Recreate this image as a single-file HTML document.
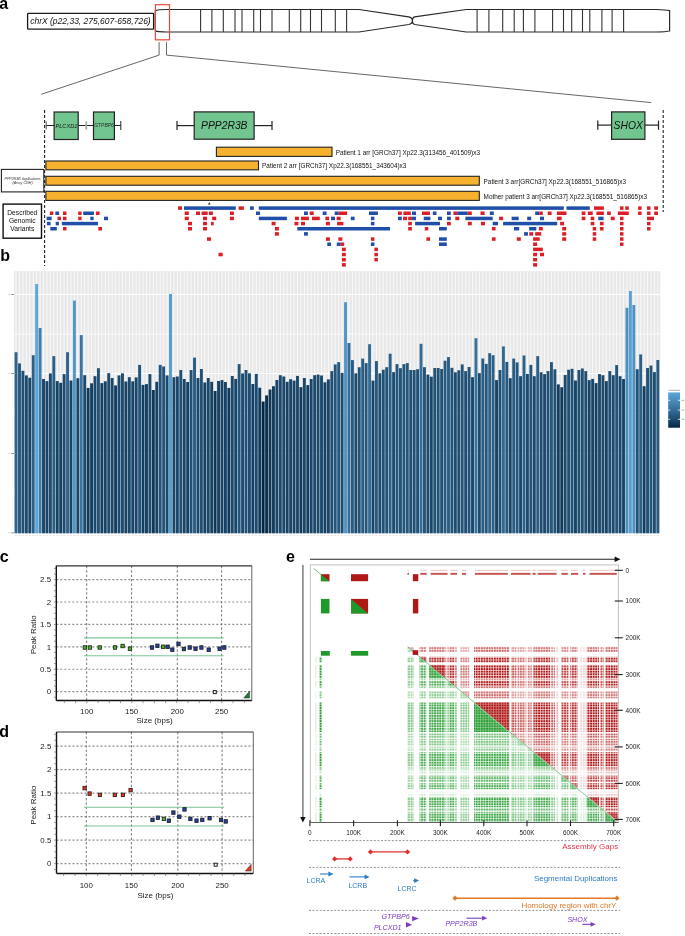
<!DOCTYPE html><html><head><meta charset="utf-8"><title>figure</title><style>html,body{margin:0;padding:0;background:#fff;width:685px;height:936px;overflow:hidden}svg{display:block;will-change:transform}text{font-family:"Liberation Sans",sans-serif}</style></head><body><svg width="685" height="936" viewBox="0 0 685 936"><rect width="685" height="936" fill="#fff"/><text x="-0.8" y="9.1" font-size="16" text-anchor="start" fill="#000" font-weight="bold" >a</text>
<text x="0.2" y="261.4" font-size="16" text-anchor="start" fill="#000" font-weight="bold" >b</text>
<text x="-0.3" y="561.8" font-size="16" text-anchor="start" fill="#000" font-weight="bold" >c</text>
<text x="-0.8" y="736.7" font-size="16" text-anchor="start" fill="#000" font-weight="bold" >d</text>
<text x="286" y="561.7" font-size="16" text-anchor="start" fill="#000" font-weight="bold" >e</text>
<rect x="27.6" y="13.4" width="126" height="15.8" rx="0.8" fill="#fff" stroke="#1a1a1a" stroke-width="1.3"/>
<text x="30.2" y="24.2" font-size="8.5" text-anchor="start" fill="#111" font-style="italic" >chrX (p22,33, 275,607-658,726)</text>
<path d="M155.3,10.9 Q157.5,9.5 167,9.5 L358.9,9.5 L408.6,16.9 Q412.4,17.6 412.4,20.7 Q412.4,23.8 408.6,24.5 L358.9,32.0 L167,32.0 Q157.5,32.0 155.3,30.9 Z M466.2,9.5 L656,9.5 Q666,9.7 669.6,10.6 L669.6,31 Q666,31.8 656,32.0 L466.2,32.0 L414.6,24.5 Q412.4,23.8 412.4,20.7 Q412.4,17.6 414.6,16.9 Z" fill="#fff" stroke="#2a2a2a" stroke-width="1.2"/>
<line x1="200.6" y1="9.5" x2="200.6" y2="32" stroke="#333" stroke-width="1.1" />
<line x1="211.9" y1="9.5" x2="211.9" y2="32" stroke="#333" stroke-width="1.1" />
<line x1="223.3" y1="9.5" x2="223.3" y2="32" stroke="#333" stroke-width="1.1" />
<line x1="235" y1="9.5" x2="235" y2="32" stroke="#333" stroke-width="1.1" />
<line x1="242" y1="9.5" x2="242" y2="32" stroke="#333" stroke-width="1.1" />
<line x1="253.7" y1="9.5" x2="253.7" y2="32" stroke="#333" stroke-width="1.1" />
<line x1="260.5" y1="9.5" x2="260.5" y2="32" stroke="#333" stroke-width="1.1" />
<line x1="272" y1="9.5" x2="272" y2="32" stroke="#333" stroke-width="1.1" />
<line x1="289.3" y1="9.5" x2="289.3" y2="32" stroke="#333" stroke-width="1.1" />
<line x1="300.7" y1="9.5" x2="300.7" y2="32" stroke="#333" stroke-width="1.1" />
<line x1="310.5" y1="9.5" x2="310.5" y2="32" stroke="#333" stroke-width="1.1" />
<line x1="321.5" y1="9.5" x2="321.5" y2="32" stroke="#333" stroke-width="1.1" />
<line x1="335.3" y1="9.5" x2="335.3" y2="32" stroke="#333" stroke-width="1.1" />
<line x1="346.6" y1="9.5" x2="346.6" y2="32" stroke="#333" stroke-width="1.1" />
<line x1="477.1" y1="9.5" x2="477.1" y2="32" stroke="#333" stroke-width="1.1" />
<line x1="488.9" y1="9.5" x2="488.9" y2="32" stroke="#333" stroke-width="1.1" />
<line x1="502.7" y1="9.5" x2="502.7" y2="32" stroke="#333" stroke-width="1.1" />
<line x1="514.2" y1="9.5" x2="514.2" y2="32" stroke="#333" stroke-width="1.1" />
<line x1="523.4" y1="9.5" x2="523.4" y2="32" stroke="#333" stroke-width="1.1" />
<line x1="534.9" y1="9.5" x2="534.9" y2="32" stroke="#333" stroke-width="1.1" />
<line x1="552.6" y1="9.5" x2="552.6" y2="32" stroke="#333" stroke-width="1.1" />
<line x1="563.5" y1="9.5" x2="563.5" y2="32" stroke="#333" stroke-width="1.1" />
<line x1="571.7" y1="9.5" x2="571.7" y2="32" stroke="#333" stroke-width="1.1" />
<line x1="582.5" y1="9.5" x2="582.5" y2="32" stroke="#333" stroke-width="1.1" />
<line x1="589.8" y1="9.5" x2="589.8" y2="32" stroke="#333" stroke-width="1.1" />
<line x1="601.9" y1="9.5" x2="601.9" y2="32" stroke="#333" stroke-width="1.1" />
<line x1="612.1" y1="9.5" x2="612.1" y2="32" stroke="#333" stroke-width="1.1" />
<line x1="623.6" y1="9.5" x2="623.6" y2="32" stroke="#333" stroke-width="1.1" />
<rect x="155.4" y="4.7" width="14.1" height="35.1" fill="none" stroke="#e64a36" stroke-width="1.2"/>
<polyline points="159.1,42.2 159.1,55.1 41.2,94.3" fill="none" stroke="#555" stroke-width="0.9"/>
<polyline points="166.5,42.2 166.5,55.1 651.2,102.6" fill="none" stroke="#555" stroke-width="0.9"/>
<line x1="44.6" y1="110" x2="44.6" y2="266" stroke="#222" stroke-width="1.1" stroke-dasharray="3,2"/>
<line x1="663.2" y1="110" x2="663.2" y2="212" stroke="#222" stroke-width="1.1" stroke-dasharray="3,2"/>
<line x1="45.8" y1="125.5" x2="120.8" y2="125.5" stroke="#222" stroke-width="1.2" />
<line x1="120.8" y1="121" x2="120.8" y2="130" stroke="#222" stroke-width="1.0" />
<line x1="46.2" y1="121.5" x2="46.2" y2="129.5" stroke="#555" stroke-width="1.0" />
<rect x="85.4" y="121.3" width="1.8" height="8.4" fill="#aaa"/>
<rect x="54.1" y="112" width="24.1" height="27.5" fill="#72c58f" stroke="#222" stroke-width="1.2"/>
<rect x="93.5" y="112" width="20.9" height="27.5" fill="#72c58f" stroke="#222" stroke-width="1.2"/>
<text x="66.4" y="127.5" font-size="5.6" text-anchor="middle" fill="#0e160f" font-style="italic" >PLCXD1</text>
<text x="104" y="127.3" font-size="5" text-anchor="middle" fill="#1e2e22" font-style="italic" >GTPBP6</text>
<line x1="177" y1="125.6" x2="194.2" y2="125.6" stroke="#222" stroke-width="1.2" />
<line x1="254.1" y1="125.6" x2="272" y2="125.6" stroke="#222" stroke-width="1.2" />
<line x1="177" y1="121" x2="177" y2="130" stroke="#222" stroke-width="1.2" />
<line x1="272" y1="121" x2="272" y2="130" stroke="#222" stroke-width="1.2" />
<rect x="194.2" y="111.9" width="59.9" height="27.3" fill="#72c58f" stroke="#222" stroke-width="1.2"/>
<text x="224.3" y="129.1" font-size="10.3" text-anchor="middle" fill="#111" font-style="italic" >PPP2R3B</text>
<line x1="597.8" y1="125.1" x2="611.6" y2="125.1" stroke="#222" stroke-width="1.2" />
<line x1="644.9" y1="125.1" x2="658.5" y2="125.1" stroke="#222" stroke-width="1.2" />
<line x1="597.8" y1="120.6" x2="597.8" y2="129.8" stroke="#222" stroke-width="1.2" />
<line x1="658.5" y1="120.6" x2="658.5" y2="129.8" stroke="#222" stroke-width="1.2" />
<rect x="611.6" y="111.9" width="33.3" height="27.4" fill="#72c58f" stroke="#222" stroke-width="1.2"/>
<text x="628.2" y="129" font-size="10.3" text-anchor="middle" fill="#111" font-style="italic" >SHOX</text>
<rect x="216.4" y="147.2" width="115.6" height="9.2" fill="#f6b22f" stroke="#222" stroke-width="1.1"/>
<rect x="45.9" y="161" width="212.6" height="8.8" fill="#f6b22f" stroke="#222" stroke-width="1.1"/>
<rect x="45.9" y="176.3" width="433.4" height="8.9" fill="#f6b22f" stroke="#222" stroke-width="1.1"/>
<rect x="45.9" y="191.3" width="433.4" height="9.1" fill="#f6b22f" stroke="#222" stroke-width="1.1"/>
<text x="335.7" y="154.8" font-size="6.4" text-anchor="start" fill="#111" >Patient 1 arr [GRCh37] Xp22.3(313456_401509)x3</text>
<text x="262.1" y="167.8" font-size="6.4" text-anchor="start" fill="#111" >Patient 2 arr [GRCh37] Xp22.3(168551_343604)x3</text>
<text x="483.6" y="184.1" font-size="6.4" text-anchor="start" fill="#111" >Patient 3 arr[GRCh37] Xp22.3(168551_516865)x3</text>
<text x="483.6" y="198.8" font-size="6.4" text-anchor="start" fill="#111" >Mother patient 3 arr[GRCh37] Xp22.3(168551_516865)x3</text>
<rect x="1.4" y="169.4" width="42.4" height="22.5" fill="#fff" stroke="#222" stroke-width="1.1"/>
<text x="22.6" y="179.6" font-size="3.6" text-anchor="middle" fill="#333" font-style="italic" >PPP2R3B duplications</text>
<text x="22.6" y="184.4" font-size="3.6" text-anchor="middle" fill="#333" font-style="italic" >(Array CGH)</text>
<rect x="3.1" y="204.1" width="38.4" height="34.1" fill="#fff" stroke="#111" stroke-width="1.4"/>
<text x="22.3" y="214.8" font-size="6.7" text-anchor="middle" fill="#111" >Described</text>
<text x="22.3" y="222.9" font-size="6.7" text-anchor="middle" fill="#111" >Genomic</text>
<text x="22.3" y="230.9" font-size="6.7" text-anchor="middle" fill="#111" >Variants</text>
<path d="M207.9,204.4 L209.3,202.2 L210.7,204.4 Z" fill="#222"/>
<rect x="178" y="206.35" width="4" height="3.5" fill="#dc1f26" />
<rect x="184" y="206.35" width="51.8" height="3.5" fill="#1f4fa8" />
<rect x="238.6" y="206.35" width="5.3" height="3.5" fill="#dc1f26" />
<rect x="250" y="206.35" width="3.8" height="3.5" fill="#1f4fa8" />
<rect x="258.8" y="206.35" width="305" height="3.5" fill="#1f4fa8" />
<rect x="566.5" y="206.35" width="23.3" height="3.5" fill="#1f4fa8" />
<rect x="594" y="206.35" width="9.9" height="3.5" fill="#dc1f26" />
<rect x="620" y="206.35" width="3.5" height="3.5" fill="#dc1f26" />
<rect x="625.3" y="206.35" width="3.5" height="3.5" fill="#dc1f26" />
<rect x="638.1" y="206.35" width="3.5" height="3.5" fill="#dc1f26" />
<rect x="647" y="206.35" width="3.5" height="3.5" fill="#dc1f26" />
<rect x="654.2" y="206.35" width="3.8" height="3.5" fill="#dc1f26" />
<rect x="49.8" y="211.51" width="3.5" height="3.5" fill="#dc1f26" />
<rect x="55.4" y="211.51" width="3.7" height="3.5" fill="#1f4fa8" />
<rect x="63" y="211.51" width="3.5" height="3.5" fill="#dc1f26" />
<rect x="78.2" y="211.51" width="3.4" height="3.5" fill="#dc1f26" />
<rect x="83.2" y="211.51" width="10.7" height="3.5" fill="#1f4fa8" />
<rect x="96" y="211.51" width="3.6" height="3.5" fill="#dc1f26" />
<rect x="184.7" y="211.51" width="4.1" height="3.5" fill="#dc1f26" />
<rect x="196" y="211.51" width="4" height="3.5" fill="#dc1f26" />
<rect x="201.6" y="211.51" width="6.1" height="3.5" fill="#dc1f26" />
<rect x="208.9" y="211.51" width="4" height="3.5" fill="#dc1f26" />
<rect x="229.9" y="211.51" width="4" height="3.5" fill="#dc1f26" />
<rect x="256" y="211.51" width="4" height="3.5" fill="#1f4fa8" />
<rect x="304" y="211.51" width="3.9" height="3.5" fill="#1f4fa8" />
<rect x="309.7" y="211.51" width="4" height="3.5" fill="#dc1f26" />
<rect x="322.7" y="211.51" width="3.8" height="3.5" fill="#1f4fa8" />
<rect x="334.7" y="211.51" width="4" height="3.5" fill="#1f4fa8" />
<rect x="338.7" y="211.51" width="8.4" height="3.5" fill="#dc1f26" />
<rect x="369" y="211.51" width="8.9" height="3.5" fill="#1f4fa8" />
<rect x="398" y="211.51" width="3.8" height="3.5" fill="#dc1f26" />
<rect x="403.4" y="211.51" width="7.4" height="3.5" fill="#dc1f26" />
<rect x="412" y="211.51" width="4" height="3.5" fill="#1f4fa8" />
<rect x="421.9" y="211.51" width="8" height="3.5" fill="#dc1f26" />
<rect x="432.8" y="211.51" width="3.7" height="3.5" fill="#1f4fa8" />
<rect x="447" y="211.51" width="3.8" height="3.5" fill="#1f4fa8" />
<rect x="453.4" y="211.51" width="3.8" height="3.5" fill="#dc1f26" />
<rect x="457.2" y="211.51" width="10.6" height="3.5" fill="#1f4fa8" />
<rect x="467.8" y="211.51" width="4" height="3.5" fill="#dc1f26" />
<rect x="480.5" y="211.51" width="4.1" height="3.5" fill="#dc1f26" />
<rect x="489.8" y="211.51" width="4" height="3.5" fill="#1f4fa8" />
<rect x="535.2" y="211.51" width="4" height="3.5" fill="#1f4fa8" />
<rect x="539.2" y="211.51" width="3.6" height="3.5" fill="#dc1f26" />
<rect x="547.7" y="211.51" width="3.9" height="3.5" fill="#dc1f26" />
<rect x="556.9" y="211.51" width="9.6" height="3.5" fill="#dc1f26" />
<rect x="581.7" y="211.51" width="3.7" height="3.5" fill="#dc1f26" />
<rect x="587.8" y="211.51" width="4.9" height="3.5" fill="#dc1f26" />
<rect x="596.4" y="211.51" width="7.5" height="3.5" fill="#dc1f26" />
<rect x="607.1" y="211.51" width="3.7" height="3.5" fill="#dc1f26" />
<rect x="617.9" y="211.51" width="10.9" height="3.5" fill="#dc1f26" />
<rect x="638.1" y="211.51" width="3.5" height="3.5" fill="#dc1f26" />
<rect x="647" y="211.51" width="3.5" height="3.5" fill="#dc1f26" />
<rect x="654.2" y="211.51" width="3.8" height="3.5" fill="#dc1f26" />
<rect x="46.6" y="216.67" width="5.1" height="3.5" fill="#1f4fa8" />
<rect x="57.5" y="216.67" width="3.5" height="3.5" fill="#dc1f26" />
<rect x="63" y="216.67" width="3.5" height="3.5" fill="#dc1f26" />
<rect x="78.2" y="216.67" width="3.4" height="3.5" fill="#dc1f26" />
<rect x="90.3" y="216.67" width="3.3" height="3.5" fill="#1f4fa8" />
<rect x="104" y="216.67" width="4" height="3.5" fill="#1f4fa8" />
<rect x="184.7" y="216.67" width="4.1" height="3.5" fill="#dc1f26" />
<rect x="203" y="216.67" width="4" height="3.5" fill="#dc1f26" />
<rect x="212.2" y="216.67" width="4" height="3.5" fill="#dc1f26" />
<rect x="229.9" y="216.67" width="4" height="3.5" fill="#dc1f26" />
<rect x="258.8" y="216.67" width="28.1" height="3.5" fill="#1f4fa8" />
<rect x="294.9" y="216.67" width="4" height="3.5" fill="#dc1f26" />
<rect x="301" y="216.67" width="7.9" height="3.5" fill="#dc1f26" />
<rect x="312" y="216.67" width="7.8" height="3.5" fill="#dc1f26" />
<rect x="325.4" y="216.67" width="3.7" height="3.5" fill="#dc1f26" />
<rect x="331" y="216.67" width="4" height="3.5" fill="#1f4fa8" />
<rect x="336.6" y="216.67" width="4.1" height="3.5" fill="#dc1f26" />
<rect x="350.8" y="216.67" width="3.8" height="3.5" fill="#1f4fa8" />
<rect x="370.9" y="216.67" width="3.5" height="3.5" fill="#1f4fa8" />
<rect x="398" y="216.67" width="3.8" height="3.5" fill="#1f4fa8" />
<rect x="403" y="216.67" width="4.1" height="3.5" fill="#dc1f26" />
<rect x="408.2" y="216.67" width="3.7" height="3.5" fill="#dc1f26" />
<rect x="411.9" y="216.67" width="4.1" height="3.5" fill="#1f4fa8" />
<rect x="423.7" y="216.67" width="6.7" height="3.5" fill="#1f4fa8" />
<rect x="438" y="216.67" width="4" height="3.5" fill="#1f4fa8" />
<rect x="447" y="216.67" width="3.8" height="3.5" fill="#1f4fa8" />
<rect x="455.3" y="216.67" width="4" height="3.5" fill="#dc1f26" />
<rect x="465.4" y="216.67" width="27.3" height="3.5" fill="#1f4fa8" />
<rect x="499.1" y="216.67" width="4" height="3.5" fill="#dc1f26" />
<rect x="511.6" y="216.67" width="7.1" height="3.5" fill="#1f4fa8" />
<rect x="527.2" y="216.67" width="4" height="3.5" fill="#1f4fa8" />
<rect x="540" y="216.67" width="4" height="3.5" fill="#1f4fa8" />
<rect x="556.9" y="216.67" width="4.8" height="3.5" fill="#dc1f26" />
<rect x="581.7" y="216.67" width="3.7" height="3.5" fill="#dc1f26" />
<rect x="590.7" y="216.67" width="3.6" height="3.5" fill="#dc1f26" />
<rect x="598.3" y="216.67" width="5.3" height="3.5" fill="#1f4fa8" />
<rect x="610.8" y="216.67" width="3.9" height="3.5" fill="#dc1f26" />
<rect x="620" y="216.67" width="3.5" height="3.5" fill="#dc1f26" />
<rect x="647" y="216.67" width="7" height="3.5" fill="#dc1f26" />
<rect x="46.9" y="221.83" width="3.7" height="3.5" fill="#1f4fa8" />
<rect x="55.7" y="221.83" width="3.2" height="3.5" fill="#1f4fa8" />
<rect x="61.8" y="221.83" width="36.2" height="3.5" fill="#1f4fa8" />
<rect x="188" y="221.83" width="4" height="3.5" fill="#dc1f26" />
<rect x="203" y="221.83" width="4" height="3.5" fill="#dc1f26" />
<rect x="211" y="221.83" width="2.7" height="3.5" fill="#dc1f26" />
<rect x="271.6" y="221.83" width="4" height="3.5" fill="#dc1f26" />
<rect x="294.4" y="221.83" width="4" height="3.5" fill="#dc1f26" />
<rect x="301" y="221.83" width="4" height="3.5" fill="#dc1f26" />
<rect x="325.9" y="221.83" width="4" height="3.5" fill="#dc1f26" />
<rect x="337.1" y="221.83" width="6.3" height="3.5" fill="#dc1f26" />
<rect x="370.9" y="221.83" width="3.5" height="3.5" fill="#1f4fa8" />
<rect x="408.2" y="221.83" width="3.7" height="3.5" fill="#dc1f26" />
<rect x="415.1" y="221.83" width="24.9" height="3.5" fill="#1f4fa8" />
<rect x="447" y="221.83" width="3.8" height="3.5" fill="#dc1f26" />
<rect x="467.8" y="221.83" width="4" height="3.5" fill="#dc1f26" />
<rect x="480.9" y="221.83" width="4.1" height="3.5" fill="#dc1f26" />
<rect x="492.7" y="221.83" width="5.3" height="3.5" fill="#1f4fa8" />
<rect x="503.1" y="221.83" width="54.1" height="3.5" fill="#1f4fa8" />
<rect x="560.1" y="221.83" width="4" height="3.5" fill="#dc1f26" />
<rect x="590.7" y="221.83" width="3.6" height="3.5" fill="#dc1f26" />
<rect x="599.9" y="221.83" width="3.7" height="3.5" fill="#dc1f26" />
<rect x="620" y="221.83" width="3.5" height="3.5" fill="#dc1f26" />
<rect x="647" y="221.83" width="3.5" height="3.5" fill="#dc1f26" />
<rect x="50.3" y="226.99" width="6.5" height="3.5" fill="#1f4fa8" />
<rect x="63" y="226.99" width="3.5" height="3.5" fill="#dc1f26" />
<rect x="98.3" y="226.99" width="3.7" height="3.5" fill="#dc1f26" />
<rect x="188" y="226.99" width="4" height="3.5" fill="#dc1f26" />
<rect x="203" y="226.99" width="4" height="3.5" fill="#dc1f26" />
<rect x="274.9" y="226.99" width="4" height="3.5" fill="#dc1f26" />
<rect x="297.3" y="226.99" width="92.7" height="3.5" fill="#1f4fa8" />
<rect x="408.2" y="226.99" width="3.7" height="3.5" fill="#dc1f26" />
<rect x="424.8" y="226.99" width="3.5" height="3.5" fill="#dc1f26" />
<rect x="439" y="226.99" width="7.8" height="3.5" fill="#1f4fa8" />
<rect x="491.9" y="226.99" width="3.7" height="3.5" fill="#dc1f26" />
<rect x="514" y="226.99" width="5.2" height="3.5" fill="#1f4fa8" />
<rect x="529.1" y="226.99" width="7.2" height="3.5" fill="#1f4fa8" />
<rect x="538.9" y="226.99" width="3.9" height="3.5" fill="#dc1f26" />
<rect x="562.2" y="226.99" width="4" height="3.5" fill="#dc1f26" />
<rect x="592.7" y="226.99" width="3.5" height="3.5" fill="#dc1f26" />
<rect x="599.9" y="226.99" width="3.7" height="3.5" fill="#dc1f26" />
<rect x="620" y="226.99" width="3.5" height="3.5" fill="#dc1f26" />
<rect x="647" y="226.99" width="3.5" height="3.5" fill="#dc1f26" />
<rect x="274.9" y="232.15" width="4" height="3.5" fill="#dc1f26" />
<rect x="304" y="232.15" width="3.9" height="3.5" fill="#1f4fa8" />
<rect x="524" y="232.15" width="4" height="3.5" fill="#1f4fa8" />
<rect x="529.3" y="232.15" width="3.8" height="3.5" fill="#dc1f26" />
<rect x="535.2" y="232.15" width="6" height="3.5" fill="#dc1f26" />
<rect x="562.2" y="232.15" width="4" height="3.5" fill="#dc1f26" />
<rect x="592.7" y="232.15" width="3.5" height="3.5" fill="#dc1f26" />
<rect x="620" y="232.15" width="3.5" height="3.5" fill="#dc1f26" />
<rect x="207" y="237.31" width="4" height="3.5" fill="#dc1f26" />
<rect x="325.9" y="237.31" width="4" height="3.5" fill="#dc1f26" />
<rect x="338.4" y="237.31" width="3.9" height="3.5" fill="#dc1f26" />
<rect x="370.9" y="237.31" width="3.5" height="3.5" fill="#dc1f26" />
<rect x="426.4" y="237.31" width="3.7" height="3.5" fill="#dc1f26" />
<rect x="439" y="237.31" width="7.8" height="3.5" fill="#1f4fa8" />
<rect x="491.9" y="237.31" width="3.7" height="3.5" fill="#dc1f26" />
<rect x="516.8" y="237.31" width="4" height="3.5" fill="#dc1f26" />
<rect x="533.1" y="237.31" width="6.6" height="3.5" fill="#dc1f26" />
<rect x="562.2" y="237.31" width="4" height="3.5" fill="#dc1f26" />
<rect x="592.7" y="237.31" width="3.5" height="3.5" fill="#dc1f26" />
<rect x="620" y="237.31" width="3.5" height="3.5" fill="#dc1f26" />
<rect x="327.3" y="242.47" width="3.7" height="3.5" fill="#1f4fa8" />
<rect x="336.8" y="242.47" width="3.9" height="3.5" fill="#1f4fa8" />
<rect x="340.7" y="242.47" width="3.5" height="3.5" fill="#dc1f26" />
<rect x="370.9" y="242.47" width="3.5" height="3.5" fill="#1f4fa8" />
<rect x="439" y="242.47" width="7.8" height="3.5" fill="#1f4fa8" />
<rect x="533.1" y="242.47" width="4" height="3.5" fill="#dc1f26" />
<rect x="620" y="242.47" width="3.5" height="3.5" fill="#dc1f26" />
<rect x="341.9" y="247.63" width="3.9" height="3.5" fill="#dc1f26" />
<rect x="374.4" y="247.63" width="3.5" height="3.5" fill="#dc1f26" />
<rect x="533.1" y="247.63" width="9.7" height="3.5" fill="#dc1f26" />
<rect x="218.5" y="252.79" width="4.2" height="3.5" fill="#dc1f26" />
<rect x="341.9" y="252.79" width="3.9" height="3.5" fill="#dc1f26" />
<rect x="374.4" y="252.79" width="3.5" height="3.5" fill="#dc1f26" />
<rect x="533.1" y="252.79" width="4" height="3.5" fill="#dc1f26" />
<rect x="540" y="252.79" width="4" height="3.5" fill="#dc1f26" />
<rect x="341.9" y="257.95" width="3.9" height="3.5" fill="#dc1f26" />
<rect x="374.4" y="257.95" width="3.5" height="3.5" fill="#dc1f26" />
<rect x="533.1" y="257.95" width="4" height="3.5" fill="#dc1f26" />
<rect x="341.9" y="263.11" width="3.9" height="3.5" fill="#dc1f26" />
<rect x="533.1" y="263.11" width="4" height="3.5" fill="#dc1f26" />
<rect x="14" y="271.1" width="646.2" height="262.2" fill="#e8e8e8" />
<line x1="14" y1="334" x2="660.2" y2="334" stroke="#ffffff" stroke-width="0.7" />
<line x1="14" y1="413.5" x2="660.2" y2="413.5" stroke="#ffffff" stroke-width="0.7" />
<line x1="14" y1="493" x2="660.2" y2="493" stroke="#ffffff" stroke-width="0.7" />
<line x1="14" y1="294.5" x2="660.2" y2="294.5" stroke="#ffffff" stroke-width="1.0" />
<line x1="14" y1="373.5" x2="660.2" y2="373.5" stroke="#ffffff" stroke-width="1.0" />
<line x1="14" y1="453.5" x2="660.2" y2="453.5" stroke="#ffffff" stroke-width="1.0" />
<line x1="14" y1="532.8" x2="660.2" y2="532.8" stroke="#ffffff" stroke-width="1.0" />
<line x1="16.06" y1="271.1" x2="16.06" y2="533.3" stroke="#ffffff" stroke-width="0.75" />
<line x1="19.49" y1="271.1" x2="19.49" y2="533.3" stroke="#ffffff" stroke-width="0.75" />
<line x1="22.92" y1="271.1" x2="22.92" y2="533.3" stroke="#ffffff" stroke-width="0.75" />
<line x1="26.36" y1="271.1" x2="26.36" y2="533.3" stroke="#ffffff" stroke-width="0.75" />
<line x1="29.79" y1="271.1" x2="29.79" y2="533.3" stroke="#ffffff" stroke-width="0.75" />
<line x1="33.22" y1="271.1" x2="33.22" y2="533.3" stroke="#ffffff" stroke-width="0.75" />
<line x1="36.65" y1="271.1" x2="36.65" y2="533.3" stroke="#ffffff" stroke-width="0.75" />
<line x1="40.08" y1="271.1" x2="40.08" y2="533.3" stroke="#ffffff" stroke-width="0.75" />
<line x1="43.52" y1="271.1" x2="43.52" y2="533.3" stroke="#ffffff" stroke-width="0.75" />
<line x1="46.95" y1="271.1" x2="46.95" y2="533.3" stroke="#ffffff" stroke-width="0.75" />
<line x1="50.38" y1="271.1" x2="50.38" y2="533.3" stroke="#ffffff" stroke-width="0.75" />
<line x1="53.81" y1="271.1" x2="53.81" y2="533.3" stroke="#ffffff" stroke-width="0.75" />
<line x1="57.24" y1="271.1" x2="57.24" y2="533.3" stroke="#ffffff" stroke-width="0.75" />
<line x1="60.68" y1="271.1" x2="60.68" y2="533.3" stroke="#ffffff" stroke-width="0.75" />
<line x1="64.11" y1="271.1" x2="64.11" y2="533.3" stroke="#ffffff" stroke-width="0.75" />
<line x1="67.54" y1="271.1" x2="67.54" y2="533.3" stroke="#ffffff" stroke-width="0.75" />
<line x1="70.97" y1="271.1" x2="70.97" y2="533.3" stroke="#ffffff" stroke-width="0.75" />
<line x1="74.4" y1="271.1" x2="74.4" y2="533.3" stroke="#ffffff" stroke-width="0.75" />
<line x1="77.84" y1="271.1" x2="77.84" y2="533.3" stroke="#ffffff" stroke-width="0.75" />
<line x1="81.27" y1="271.1" x2="81.27" y2="533.3" stroke="#ffffff" stroke-width="0.75" />
<line x1="84.7" y1="271.1" x2="84.7" y2="533.3" stroke="#ffffff" stroke-width="0.75" />
<line x1="88.13" y1="271.1" x2="88.13" y2="533.3" stroke="#ffffff" stroke-width="0.75" />
<line x1="91.56" y1="271.1" x2="91.56" y2="533.3" stroke="#ffffff" stroke-width="0.75" />
<line x1="95" y1="271.1" x2="95" y2="533.3" stroke="#ffffff" stroke-width="0.75" />
<line x1="98.43" y1="271.1" x2="98.43" y2="533.3" stroke="#ffffff" stroke-width="0.75" />
<line x1="101.86" y1="271.1" x2="101.86" y2="533.3" stroke="#ffffff" stroke-width="0.75" />
<line x1="105.29" y1="271.1" x2="105.29" y2="533.3" stroke="#ffffff" stroke-width="0.75" />
<line x1="108.72" y1="271.1" x2="108.72" y2="533.3" stroke="#ffffff" stroke-width="0.75" />
<line x1="112.16" y1="271.1" x2="112.16" y2="533.3" stroke="#ffffff" stroke-width="0.75" />
<line x1="115.59" y1="271.1" x2="115.59" y2="533.3" stroke="#ffffff" stroke-width="0.75" />
<line x1="119.02" y1="271.1" x2="119.02" y2="533.3" stroke="#ffffff" stroke-width="0.75" />
<line x1="122.45" y1="271.1" x2="122.45" y2="533.3" stroke="#ffffff" stroke-width="0.75" />
<line x1="125.88" y1="271.1" x2="125.88" y2="533.3" stroke="#ffffff" stroke-width="0.75" />
<line x1="129.32" y1="271.1" x2="129.32" y2="533.3" stroke="#ffffff" stroke-width="0.75" />
<line x1="132.75" y1="271.1" x2="132.75" y2="533.3" stroke="#ffffff" stroke-width="0.75" />
<line x1="136.18" y1="271.1" x2="136.18" y2="533.3" stroke="#ffffff" stroke-width="0.75" />
<line x1="139.61" y1="271.1" x2="139.61" y2="533.3" stroke="#ffffff" stroke-width="0.75" />
<line x1="143.04" y1="271.1" x2="143.04" y2="533.3" stroke="#ffffff" stroke-width="0.75" />
<line x1="146.48" y1="271.1" x2="146.48" y2="533.3" stroke="#ffffff" stroke-width="0.75" />
<line x1="149.91" y1="271.1" x2="149.91" y2="533.3" stroke="#ffffff" stroke-width="0.75" />
<line x1="153.34" y1="271.1" x2="153.34" y2="533.3" stroke="#ffffff" stroke-width="0.75" />
<line x1="156.77" y1="271.1" x2="156.77" y2="533.3" stroke="#ffffff" stroke-width="0.75" />
<line x1="160.2" y1="271.1" x2="160.2" y2="533.3" stroke="#ffffff" stroke-width="0.75" />
<line x1="163.64" y1="271.1" x2="163.64" y2="533.3" stroke="#ffffff" stroke-width="0.75" />
<line x1="167.07" y1="271.1" x2="167.07" y2="533.3" stroke="#ffffff" stroke-width="0.75" />
<line x1="170.5" y1="271.1" x2="170.5" y2="533.3" stroke="#ffffff" stroke-width="0.75" />
<line x1="173.93" y1="271.1" x2="173.93" y2="533.3" stroke="#ffffff" stroke-width="0.75" />
<line x1="177.36" y1="271.1" x2="177.36" y2="533.3" stroke="#ffffff" stroke-width="0.75" />
<line x1="180.8" y1="271.1" x2="180.8" y2="533.3" stroke="#ffffff" stroke-width="0.75" />
<line x1="184.23" y1="271.1" x2="184.23" y2="533.3" stroke="#ffffff" stroke-width="0.75" />
<line x1="187.66" y1="271.1" x2="187.66" y2="533.3" stroke="#ffffff" stroke-width="0.75" />
<line x1="191.09" y1="271.1" x2="191.09" y2="533.3" stroke="#ffffff" stroke-width="0.75" />
<line x1="194.52" y1="271.1" x2="194.52" y2="533.3" stroke="#ffffff" stroke-width="0.75" />
<line x1="197.96" y1="271.1" x2="197.96" y2="533.3" stroke="#ffffff" stroke-width="0.75" />
<line x1="201.39" y1="271.1" x2="201.39" y2="533.3" stroke="#ffffff" stroke-width="0.75" />
<line x1="204.82" y1="271.1" x2="204.82" y2="533.3" stroke="#ffffff" stroke-width="0.75" />
<line x1="208.25" y1="271.1" x2="208.25" y2="533.3" stroke="#ffffff" stroke-width="0.75" />
<line x1="211.68" y1="271.1" x2="211.68" y2="533.3" stroke="#ffffff" stroke-width="0.75" />
<line x1="215.12" y1="271.1" x2="215.12" y2="533.3" stroke="#ffffff" stroke-width="0.75" />
<line x1="218.55" y1="271.1" x2="218.55" y2="533.3" stroke="#ffffff" stroke-width="0.75" />
<line x1="221.98" y1="271.1" x2="221.98" y2="533.3" stroke="#ffffff" stroke-width="0.75" />
<line x1="225.41" y1="271.1" x2="225.41" y2="533.3" stroke="#ffffff" stroke-width="0.75" />
<line x1="228.84" y1="271.1" x2="228.84" y2="533.3" stroke="#ffffff" stroke-width="0.75" />
<line x1="232.28" y1="271.1" x2="232.28" y2="533.3" stroke="#ffffff" stroke-width="0.75" />
<line x1="235.71" y1="271.1" x2="235.71" y2="533.3" stroke="#ffffff" stroke-width="0.75" />
<line x1="239.14" y1="271.1" x2="239.14" y2="533.3" stroke="#ffffff" stroke-width="0.75" />
<line x1="242.57" y1="271.1" x2="242.57" y2="533.3" stroke="#ffffff" stroke-width="0.75" />
<line x1="246" y1="271.1" x2="246" y2="533.3" stroke="#ffffff" stroke-width="0.75" />
<line x1="249.44" y1="271.1" x2="249.44" y2="533.3" stroke="#ffffff" stroke-width="0.75" />
<line x1="252.87" y1="271.1" x2="252.87" y2="533.3" stroke="#ffffff" stroke-width="0.75" />
<line x1="256.3" y1="271.1" x2="256.3" y2="533.3" stroke="#ffffff" stroke-width="0.75" />
<line x1="259.73" y1="271.1" x2="259.73" y2="533.3" stroke="#ffffff" stroke-width="0.75" />
<line x1="263.16" y1="271.1" x2="263.16" y2="533.3" stroke="#ffffff" stroke-width="0.75" />
<line x1="266.6" y1="271.1" x2="266.6" y2="533.3" stroke="#ffffff" stroke-width="0.75" />
<line x1="270.03" y1="271.1" x2="270.03" y2="533.3" stroke="#ffffff" stroke-width="0.75" />
<line x1="273.46" y1="271.1" x2="273.46" y2="533.3" stroke="#ffffff" stroke-width="0.75" />
<line x1="276.89" y1="271.1" x2="276.89" y2="533.3" stroke="#ffffff" stroke-width="0.75" />
<line x1="280.32" y1="271.1" x2="280.32" y2="533.3" stroke="#ffffff" stroke-width="0.75" />
<line x1="283.76" y1="271.1" x2="283.76" y2="533.3" stroke="#ffffff" stroke-width="0.75" />
<line x1="287.19" y1="271.1" x2="287.19" y2="533.3" stroke="#ffffff" stroke-width="0.75" />
<line x1="290.62" y1="271.1" x2="290.62" y2="533.3" stroke="#ffffff" stroke-width="0.75" />
<line x1="294.05" y1="271.1" x2="294.05" y2="533.3" stroke="#ffffff" stroke-width="0.75" />
<line x1="297.48" y1="271.1" x2="297.48" y2="533.3" stroke="#ffffff" stroke-width="0.75" />
<line x1="300.92" y1="271.1" x2="300.92" y2="533.3" stroke="#ffffff" stroke-width="0.75" />
<line x1="304.35" y1="271.1" x2="304.35" y2="533.3" stroke="#ffffff" stroke-width="0.75" />
<line x1="307.78" y1="271.1" x2="307.78" y2="533.3" stroke="#ffffff" stroke-width="0.75" />
<line x1="311.21" y1="271.1" x2="311.21" y2="533.3" stroke="#ffffff" stroke-width="0.75" />
<line x1="314.64" y1="271.1" x2="314.64" y2="533.3" stroke="#ffffff" stroke-width="0.75" />
<line x1="318.08" y1="271.1" x2="318.08" y2="533.3" stroke="#ffffff" stroke-width="0.75" />
<line x1="321.51" y1="271.1" x2="321.51" y2="533.3" stroke="#ffffff" stroke-width="0.75" />
<line x1="324.94" y1="271.1" x2="324.94" y2="533.3" stroke="#ffffff" stroke-width="0.75" />
<line x1="328.37" y1="271.1" x2="328.37" y2="533.3" stroke="#ffffff" stroke-width="0.75" />
<line x1="331.8" y1="271.1" x2="331.8" y2="533.3" stroke="#ffffff" stroke-width="0.75" />
<line x1="335.24" y1="271.1" x2="335.24" y2="533.3" stroke="#ffffff" stroke-width="0.75" />
<line x1="338.67" y1="271.1" x2="338.67" y2="533.3" stroke="#ffffff" stroke-width="0.75" />
<line x1="342.1" y1="271.1" x2="342.1" y2="533.3" stroke="#ffffff" stroke-width="0.75" />
<line x1="345.53" y1="271.1" x2="345.53" y2="533.3" stroke="#ffffff" stroke-width="0.75" />
<line x1="348.96" y1="271.1" x2="348.96" y2="533.3" stroke="#ffffff" stroke-width="0.75" />
<line x1="352.4" y1="271.1" x2="352.4" y2="533.3" stroke="#ffffff" stroke-width="0.75" />
<line x1="355.83" y1="271.1" x2="355.83" y2="533.3" stroke="#ffffff" stroke-width="0.75" />
<line x1="359.26" y1="271.1" x2="359.26" y2="533.3" stroke="#ffffff" stroke-width="0.75" />
<line x1="362.69" y1="271.1" x2="362.69" y2="533.3" stroke="#ffffff" stroke-width="0.75" />
<line x1="366.12" y1="271.1" x2="366.12" y2="533.3" stroke="#ffffff" stroke-width="0.75" />
<line x1="369.56" y1="271.1" x2="369.56" y2="533.3" stroke="#ffffff" stroke-width="0.75" />
<line x1="372.99" y1="271.1" x2="372.99" y2="533.3" stroke="#ffffff" stroke-width="0.75" />
<line x1="376.42" y1="271.1" x2="376.42" y2="533.3" stroke="#ffffff" stroke-width="0.75" />
<line x1="379.85" y1="271.1" x2="379.85" y2="533.3" stroke="#ffffff" stroke-width="0.75" />
<line x1="383.28" y1="271.1" x2="383.28" y2="533.3" stroke="#ffffff" stroke-width="0.75" />
<line x1="386.72" y1="271.1" x2="386.72" y2="533.3" stroke="#ffffff" stroke-width="0.75" />
<line x1="390.15" y1="271.1" x2="390.15" y2="533.3" stroke="#ffffff" stroke-width="0.75" />
<line x1="393.58" y1="271.1" x2="393.58" y2="533.3" stroke="#ffffff" stroke-width="0.75" />
<line x1="397.01" y1="271.1" x2="397.01" y2="533.3" stroke="#ffffff" stroke-width="0.75" />
<line x1="400.44" y1="271.1" x2="400.44" y2="533.3" stroke="#ffffff" stroke-width="0.75" />
<line x1="403.88" y1="271.1" x2="403.88" y2="533.3" stroke="#ffffff" stroke-width="0.75" />
<line x1="407.31" y1="271.1" x2="407.31" y2="533.3" stroke="#ffffff" stroke-width="0.75" />
<line x1="410.74" y1="271.1" x2="410.74" y2="533.3" stroke="#ffffff" stroke-width="0.75" />
<line x1="414.17" y1="271.1" x2="414.17" y2="533.3" stroke="#ffffff" stroke-width="0.75" />
<line x1="417.6" y1="271.1" x2="417.6" y2="533.3" stroke="#ffffff" stroke-width="0.75" />
<line x1="421.04" y1="271.1" x2="421.04" y2="533.3" stroke="#ffffff" stroke-width="0.75" />
<line x1="424.47" y1="271.1" x2="424.47" y2="533.3" stroke="#ffffff" stroke-width="0.75" />
<line x1="427.9" y1="271.1" x2="427.9" y2="533.3" stroke="#ffffff" stroke-width="0.75" />
<line x1="431.33" y1="271.1" x2="431.33" y2="533.3" stroke="#ffffff" stroke-width="0.75" />
<line x1="434.76" y1="271.1" x2="434.76" y2="533.3" stroke="#ffffff" stroke-width="0.75" />
<line x1="438.2" y1="271.1" x2="438.2" y2="533.3" stroke="#ffffff" stroke-width="0.75" />
<line x1="441.63" y1="271.1" x2="441.63" y2="533.3" stroke="#ffffff" stroke-width="0.75" />
<line x1="445.06" y1="271.1" x2="445.06" y2="533.3" stroke="#ffffff" stroke-width="0.75" />
<line x1="448.49" y1="271.1" x2="448.49" y2="533.3" stroke="#ffffff" stroke-width="0.75" />
<line x1="451.92" y1="271.1" x2="451.92" y2="533.3" stroke="#ffffff" stroke-width="0.75" />
<line x1="455.36" y1="271.1" x2="455.36" y2="533.3" stroke="#ffffff" stroke-width="0.75" />
<line x1="458.79" y1="271.1" x2="458.79" y2="533.3" stroke="#ffffff" stroke-width="0.75" />
<line x1="462.22" y1="271.1" x2="462.22" y2="533.3" stroke="#ffffff" stroke-width="0.75" />
<line x1="465.65" y1="271.1" x2="465.65" y2="533.3" stroke="#ffffff" stroke-width="0.75" />
<line x1="469.08" y1="271.1" x2="469.08" y2="533.3" stroke="#ffffff" stroke-width="0.75" />
<line x1="472.52" y1="271.1" x2="472.52" y2="533.3" stroke="#ffffff" stroke-width="0.75" />
<line x1="475.95" y1="271.1" x2="475.95" y2="533.3" stroke="#ffffff" stroke-width="0.75" />
<line x1="479.38" y1="271.1" x2="479.38" y2="533.3" stroke="#ffffff" stroke-width="0.75" />
<line x1="482.81" y1="271.1" x2="482.81" y2="533.3" stroke="#ffffff" stroke-width="0.75" />
<line x1="486.24" y1="271.1" x2="486.24" y2="533.3" stroke="#ffffff" stroke-width="0.75" />
<line x1="489.68" y1="271.1" x2="489.68" y2="533.3" stroke="#ffffff" stroke-width="0.75" />
<line x1="493.11" y1="271.1" x2="493.11" y2="533.3" stroke="#ffffff" stroke-width="0.75" />
<line x1="496.54" y1="271.1" x2="496.54" y2="533.3" stroke="#ffffff" stroke-width="0.75" />
<line x1="499.97" y1="271.1" x2="499.97" y2="533.3" stroke="#ffffff" stroke-width="0.75" />
<line x1="503.4" y1="271.1" x2="503.4" y2="533.3" stroke="#ffffff" stroke-width="0.75" />
<line x1="506.84" y1="271.1" x2="506.84" y2="533.3" stroke="#ffffff" stroke-width="0.75" />
<line x1="510.27" y1="271.1" x2="510.27" y2="533.3" stroke="#ffffff" stroke-width="0.75" />
<line x1="513.7" y1="271.1" x2="513.7" y2="533.3" stroke="#ffffff" stroke-width="0.75" />
<line x1="517.13" y1="271.1" x2="517.13" y2="533.3" stroke="#ffffff" stroke-width="0.75" />
<line x1="520.56" y1="271.1" x2="520.56" y2="533.3" stroke="#ffffff" stroke-width="0.75" />
<line x1="524" y1="271.1" x2="524" y2="533.3" stroke="#ffffff" stroke-width="0.75" />
<line x1="527.43" y1="271.1" x2="527.43" y2="533.3" stroke="#ffffff" stroke-width="0.75" />
<line x1="530.86" y1="271.1" x2="530.86" y2="533.3" stroke="#ffffff" stroke-width="0.75" />
<line x1="534.29" y1="271.1" x2="534.29" y2="533.3" stroke="#ffffff" stroke-width="0.75" />
<line x1="537.72" y1="271.1" x2="537.72" y2="533.3" stroke="#ffffff" stroke-width="0.75" />
<line x1="541.16" y1="271.1" x2="541.16" y2="533.3" stroke="#ffffff" stroke-width="0.75" />
<line x1="544.59" y1="271.1" x2="544.59" y2="533.3" stroke="#ffffff" stroke-width="0.75" />
<line x1="548.02" y1="271.1" x2="548.02" y2="533.3" stroke="#ffffff" stroke-width="0.75" />
<line x1="551.45" y1="271.1" x2="551.45" y2="533.3" stroke="#ffffff" stroke-width="0.75" />
<line x1="554.88" y1="271.1" x2="554.88" y2="533.3" stroke="#ffffff" stroke-width="0.75" />
<line x1="558.32" y1="271.1" x2="558.32" y2="533.3" stroke="#ffffff" stroke-width="0.75" />
<line x1="561.75" y1="271.1" x2="561.75" y2="533.3" stroke="#ffffff" stroke-width="0.75" />
<line x1="565.18" y1="271.1" x2="565.18" y2="533.3" stroke="#ffffff" stroke-width="0.75" />
<line x1="568.61" y1="271.1" x2="568.61" y2="533.3" stroke="#ffffff" stroke-width="0.75" />
<line x1="572.04" y1="271.1" x2="572.04" y2="533.3" stroke="#ffffff" stroke-width="0.75" />
<line x1="575.48" y1="271.1" x2="575.48" y2="533.3" stroke="#ffffff" stroke-width="0.75" />
<line x1="578.91" y1="271.1" x2="578.91" y2="533.3" stroke="#ffffff" stroke-width="0.75" />
<line x1="582.34" y1="271.1" x2="582.34" y2="533.3" stroke="#ffffff" stroke-width="0.75" />
<line x1="585.77" y1="271.1" x2="585.77" y2="533.3" stroke="#ffffff" stroke-width="0.75" />
<line x1="589.2" y1="271.1" x2="589.2" y2="533.3" stroke="#ffffff" stroke-width="0.75" />
<line x1="592.64" y1="271.1" x2="592.64" y2="533.3" stroke="#ffffff" stroke-width="0.75" />
<line x1="596.07" y1="271.1" x2="596.07" y2="533.3" stroke="#ffffff" stroke-width="0.75" />
<line x1="599.5" y1="271.1" x2="599.5" y2="533.3" stroke="#ffffff" stroke-width="0.75" />
<line x1="602.93" y1="271.1" x2="602.93" y2="533.3" stroke="#ffffff" stroke-width="0.75" />
<line x1="606.36" y1="271.1" x2="606.36" y2="533.3" stroke="#ffffff" stroke-width="0.75" />
<line x1="609.8" y1="271.1" x2="609.8" y2="533.3" stroke="#ffffff" stroke-width="0.75" />
<line x1="613.23" y1="271.1" x2="613.23" y2="533.3" stroke="#ffffff" stroke-width="0.75" />
<line x1="616.66" y1="271.1" x2="616.66" y2="533.3" stroke="#ffffff" stroke-width="0.75" />
<line x1="620.09" y1="271.1" x2="620.09" y2="533.3" stroke="#ffffff" stroke-width="0.75" />
<line x1="623.52" y1="271.1" x2="623.52" y2="533.3" stroke="#ffffff" stroke-width="0.75" />
<line x1="626.96" y1="271.1" x2="626.96" y2="533.3" stroke="#ffffff" stroke-width="0.75" />
<line x1="630.39" y1="271.1" x2="630.39" y2="533.3" stroke="#ffffff" stroke-width="0.75" />
<line x1="633.82" y1="271.1" x2="633.82" y2="533.3" stroke="#ffffff" stroke-width="0.75" />
<line x1="637.25" y1="271.1" x2="637.25" y2="533.3" stroke="#ffffff" stroke-width="0.75" />
<line x1="640.68" y1="271.1" x2="640.68" y2="533.3" stroke="#ffffff" stroke-width="0.75" />
<line x1="644.12" y1="271.1" x2="644.12" y2="533.3" stroke="#ffffff" stroke-width="0.75" />
<line x1="647.55" y1="271.1" x2="647.55" y2="533.3" stroke="#ffffff" stroke-width="0.75" />
<line x1="650.98" y1="271.1" x2="650.98" y2="533.3" stroke="#ffffff" stroke-width="0.75" />
<line x1="654.41" y1="271.1" x2="654.41" y2="533.3" stroke="#ffffff" stroke-width="0.75" />
<line x1="657.84" y1="271.1" x2="657.84" y2="533.3" stroke="#ffffff" stroke-width="0.75" />
<rect x="14.61" y="352.2" width="2.9" height="181.1" fill="#2d638c" />
<rect x="18.04" y="363.4" width="2.9" height="169.9" fill="#25577e" />
<rect x="21.47" y="370.8" width="2.9" height="162.5" fill="#1f4f74" />
<rect x="24.91" y="375.4" width="2.9" height="157.9" fill="#1b4a6e" />
<rect x="28.34" y="377.7" width="2.9" height="155.6" fill="#19476b" />
<rect x="31.77" y="355.2" width="2.9" height="178.1" fill="#2b6088" />
<rect x="35.2" y="284" width="2.9" height="249.3" fill="#5ca6da" />
<rect x="38.63" y="328" width="2.9" height="205.3" fill="#3e7ca9" />
<rect x="42.07" y="379" width="2.9" height="154.3" fill="#184569" />
<rect x="45.5" y="381.1" width="2.9" height="152.2" fill="#164366" />
<rect x="48.93" y="373.4" width="2.9" height="159.9" fill="#1d4c70" />
<rect x="52.36" y="356.1" width="2.9" height="177.2" fill="#2a5f87" />
<rect x="55.79" y="381.1" width="2.9" height="152.2" fill="#164366" />
<rect x="59.23" y="382.8" width="2.9" height="150.5" fill="#154163" />
<rect x="62.66" y="374.1" width="2.9" height="159.2" fill="#1c4b70" />
<rect x="66.09" y="352.2" width="2.9" height="181.1" fill="#2d638c" />
<rect x="69.52" y="380.5" width="2.9" height="152.8" fill="#174467" />
<rect x="72.95" y="300.6" width="2.9" height="232.7" fill="#5196c8" />
<rect x="76.39" y="378.2" width="2.9" height="155.1" fill="#19466a" />
<rect x="79.82" y="335.1" width="2.9" height="198.2" fill="#3975a0" />
<rect x="83.25" y="375.2" width="2.9" height="158.1" fill="#1b4a6e" />
<rect x="86.68" y="387.9" width="2.9" height="145.4" fill="#103a5c" />
<rect x="90.11" y="383.3" width="2.9" height="150" fill="#144063" />
<rect x="93.55" y="376.2" width="2.9" height="157.1" fill="#1a496d" />
<rect x="96.98" y="368.2" width="2.9" height="165.1" fill="#215277" />
<rect x="100.41" y="383.1" width="2.9" height="150.2" fill="#154063" />
<rect x="103.84" y="381.3" width="2.9" height="152" fill="#164366" />
<rect x="107.27" y="373.1" width="2.9" height="160.2" fill="#1d4c71" />
<rect x="110.71" y="378" width="2.9" height="155.3" fill="#19476a" />
<rect x="114.14" y="385.4" width="2.9" height="147.9" fill="#133e60" />
<rect x="117.57" y="375.4" width="2.9" height="157.9" fill="#1b4a6e" />
<rect x="121" y="373.3" width="2.9" height="160" fill="#1d4c71" />
<rect x="124.43" y="381.5" width="2.9" height="151.8" fill="#164265" />
<rect x="127.87" y="377.2" width="2.9" height="156.1" fill="#1a486b" />
<rect x="131.3" y="381.3" width="2.9" height="152" fill="#164366" />
<rect x="134.73" y="377.4" width="2.9" height="155.9" fill="#19476b" />
<rect x="138.16" y="364.9" width="2.9" height="168.4" fill="#23557c" />
<rect x="141.59" y="384.9" width="2.9" height="148.4" fill="#133e60" />
<rect x="145.03" y="384.1" width="2.9" height="149.2" fill="#143f62" />
<rect x="148.46" y="374.1" width="2.9" height="159.2" fill="#1c4b70" />
<rect x="151.89" y="390" width="2.9" height="143.3" fill="#0e3859" />
<rect x="155.32" y="381.8" width="2.9" height="151.5" fill="#164265" />
<rect x="158.75" y="364.9" width="2.9" height="168.4" fill="#23557c" />
<rect x="162.19" y="366.5" width="2.9" height="166.8" fill="#22547a" />
<rect x="165.62" y="375.4" width="2.9" height="157.9" fill="#1b4a6e" />
<rect x="169.05" y="294" width="2.9" height="239.3" fill="#559dcf" />
<rect x="172.48" y="377.2" width="2.9" height="156.1" fill="#1a486b" />
<rect x="175.91" y="376.5" width="2.9" height="156.8" fill="#1a486c" />
<rect x="179.35" y="370" width="2.9" height="163.3" fill="#1f5075" />
<rect x="182.78" y="379" width="2.9" height="154.3" fill="#184569" />
<rect x="186.21" y="382" width="2.9" height="151.3" fill="#164265" />
<rect x="189.64" y="370" width="2.9" height="163.3" fill="#1f5075" />
<rect x="193.07" y="357.6" width="2.9" height="175.7" fill="#295d85" />
<rect x="196.51" y="378" width="2.9" height="155.3" fill="#19476a" />
<rect x="199.94" y="369" width="2.9" height="164.3" fill="#205176" />
<rect x="203.37" y="382.5" width="2.9" height="150.8" fill="#154164" />
<rect x="206.8" y="378" width="2.9" height="155.3" fill="#19476a" />
<rect x="210.23" y="381.8" width="2.9" height="151.5" fill="#164265" />
<rect x="213.67" y="391" width="2.9" height="142.3" fill="#0e3657" />
<rect x="217.1" y="381" width="2.9" height="152.3" fill="#164366" />
<rect x="220.53" y="380.1" width="2.9" height="153.2" fill="#174467" />
<rect x="223.96" y="382" width="2.9" height="151.3" fill="#164265" />
<rect x="227.39" y="387.9" width="2.9" height="145.4" fill="#103a5c" />
<rect x="230.83" y="376" width="2.9" height="157.3" fill="#1b496d" />
<rect x="234.26" y="378.9" width="2.9" height="154.4" fill="#184669" />
<rect x="237.69" y="364.1" width="2.9" height="169.2" fill="#24567d" />
<rect x="241.12" y="373.4" width="2.9" height="159.9" fill="#1d4c70" />
<rect x="244.55" y="370" width="2.9" height="163.3" fill="#1f5075" />
<rect x="247.99" y="373.3" width="2.9" height="160" fill="#1d4c71" />
<rect x="251.42" y="384" width="2.9" height="149.3" fill="#143f62" />
<rect x="254.85" y="373.9" width="2.9" height="159.4" fill="#1c4b70" />
<rect x="258.28" y="387.7" width="2.9" height="145.6" fill="#113b5c" />
<rect x="261.71" y="401.5" width="2.9" height="131.8" fill="#022644" />
<rect x="265.15" y="395.4" width="2.9" height="137.9" fill="#093050" />
<rect x="268.58" y="389.5" width="2.9" height="143.8" fill="#0f385a" />
<rect x="272.01" y="386.2" width="2.9" height="147.1" fill="#123d5f" />
<rect x="275.44" y="380" width="2.9" height="153.3" fill="#174467" />
<rect x="278.87" y="375.2" width="2.9" height="158.1" fill="#1b4a6e" />
<rect x="282.31" y="376.5" width="2.9" height="156.8" fill="#1a486c" />
<rect x="285.74" y="381.8" width="2.9" height="151.5" fill="#164265" />
<rect x="289.17" y="379.2" width="2.9" height="154.1" fill="#184569" />
<rect x="292.6" y="380.6" width="2.9" height="152.7" fill="#174367" />
<rect x="296.03" y="375.9" width="2.9" height="157.4" fill="#1b496d" />
<rect x="299.47" y="387.1" width="2.9" height="146.2" fill="#113b5d" />
<rect x="302.9" y="378" width="2.9" height="155.3" fill="#19476a" />
<rect x="306.33" y="385.1" width="2.9" height="148.2" fill="#133e60" />
<rect x="309.76" y="379" width="2.9" height="154.3" fill="#184569" />
<rect x="313.19" y="375.2" width="2.9" height="158.1" fill="#1b4a6e" />
<rect x="316.63" y="374.6" width="2.9" height="158.7" fill="#1c4b6f" />
<rect x="320.06" y="375.5" width="2.9" height="157.8" fill="#1b4a6e" />
<rect x="323.49" y="382.3" width="2.9" height="151" fill="#154164" />
<rect x="326.92" y="379.4" width="2.9" height="153.9" fill="#184568" />
<rect x="330.35" y="371.1" width="2.9" height="162.2" fill="#1f4f74" />
<rect x="333.79" y="364.4" width="2.9" height="168.9" fill="#24567c" />
<rect x="337.22" y="362.1" width="2.9" height="171.2" fill="#26597f" />
<rect x="340.65" y="372.9" width="2.9" height="160.4" fill="#1d4d71" />
<rect x="344.08" y="302.2" width="2.9" height="231.1" fill="#5095c6" />
<rect x="347.51" y="343" width="2.9" height="190.3" fill="#346d97" />
<rect x="350.95" y="360.1" width="2.9" height="173.2" fill="#275b82" />
<rect x="354.38" y="373.3" width="2.9" height="160" fill="#1d4c71" />
<rect x="357.81" y="367.2" width="2.9" height="166.1" fill="#225379" />
<rect x="361.24" y="358.6" width="2.9" height="174.7" fill="#285c84" />
<rect x="364.67" y="363.1" width="2.9" height="170.2" fill="#25577e" />
<rect x="368.11" y="344.2" width="2.9" height="189.1" fill="#336c95" />
<rect x="371.54" y="380.6" width="2.9" height="152.7" fill="#174367" />
<rect x="374.97" y="361.1" width="2.9" height="172.2" fill="#265a81" />
<rect x="378.4" y="373.3" width="2.9" height="160" fill="#1d4c71" />
<rect x="381.83" y="369.7" width="2.9" height="163.6" fill="#205075" />
<rect x="385.27" y="367.2" width="2.9" height="166.1" fill="#225379" />
<rect x="388.7" y="353.7" width="2.9" height="179.6" fill="#2c628a" />
<rect x="392.13" y="372.1" width="2.9" height="161.2" fill="#1e4d72" />
<rect x="395.56" y="364.1" width="2.9" height="169.2" fill="#24567d" />
<rect x="398.99" y="368.2" width="2.9" height="165.1" fill="#215277" />
<rect x="402.43" y="364.1" width="2.9" height="169.2" fill="#24567d" />
<rect x="405.86" y="363.1" width="2.9" height="170.2" fill="#25577e" />
<rect x="409.29" y="370" width="2.9" height="163.3" fill="#1f5075" />
<rect x="412.72" y="370" width="2.9" height="163.3" fill="#1f5075" />
<rect x="416.15" y="369.2" width="2.9" height="164.1" fill="#205176" />
<rect x="419.59" y="343.8" width="2.9" height="189.5" fill="#336c96" />
<rect x="423.02" y="367.2" width="2.9" height="166.1" fill="#225379" />
<rect x="426.45" y="374.6" width="2.9" height="158.7" fill="#1c4b6f" />
<rect x="429.88" y="376.7" width="2.9" height="156.6" fill="#1a486c" />
<rect x="433.31" y="368" width="2.9" height="165.3" fill="#215278" />
<rect x="436.75" y="368" width="2.9" height="165.3" fill="#215278" />
<rect x="440.18" y="369" width="2.9" height="164.3" fill="#205176" />
<rect x="443.61" y="360.7" width="2.9" height="172.6" fill="#275a81" />
<rect x="447.04" y="357.1" width="2.9" height="176.2" fill="#295e86" />
<rect x="450.47" y="367.8" width="2.9" height="165.5" fill="#215278" />
<rect x="453.91" y="372.3" width="2.9" height="161" fill="#1e4d72" />
<rect x="457.34" y="370.3" width="2.9" height="163" fill="#1f4f75" />
<rect x="460.77" y="364.4" width="2.9" height="168.9" fill="#24567c" />
<rect x="464.2" y="371.1" width="2.9" height="162.2" fill="#1f4f74" />
<rect x="467.63" y="367" width="2.9" height="166.3" fill="#225379" />
<rect x="471.07" y="377.2" width="2.9" height="156.1" fill="#1a486b" />
<rect x="474.5" y="338.2" width="2.9" height="195.1" fill="#37729d" />
<rect x="477.93" y="373.1" width="2.9" height="160.2" fill="#1d4c71" />
<rect x="481.36" y="358.5" width="2.9" height="174.8" fill="#285c84" />
<rect x="484.79" y="363.9" width="2.9" height="169.4" fill="#24577d" />
<rect x="488.23" y="353.2" width="2.9" height="180.1" fill="#2c628a" />
<rect x="491.66" y="355.2" width="2.9" height="178.1" fill="#2b6088" />
<rect x="495.09" y="380.1" width="2.9" height="153.2" fill="#174467" />
<rect x="498.52" y="370" width="2.9" height="163.3" fill="#1f5075" />
<rect x="501.95" y="346.4" width="2.9" height="186.9" fill="#316993" />
<rect x="505.39" y="361.9" width="2.9" height="171.4" fill="#265980" />
<rect x="508.82" y="378.2" width="2.9" height="155.1" fill="#19466a" />
<rect x="512.25" y="358.6" width="2.9" height="174.7" fill="#285c84" />
<rect x="515.68" y="362.4" width="2.9" height="170.9" fill="#25587f" />
<rect x="519.11" y="376.2" width="2.9" height="157.1" fill="#1a496d" />
<rect x="522.55" y="355.5" width="2.9" height="177.8" fill="#2b6088" />
<rect x="525.98" y="373.9" width="2.9" height="159.4" fill="#1c4b70" />
<rect x="529.41" y="364.9" width="2.9" height="168.4" fill="#23557c" />
<rect x="532.84" y="376.2" width="2.9" height="157.1" fill="#1a496d" />
<rect x="536.27" y="356.1" width="2.9" height="177.2" fill="#2a5f87" />
<rect x="539.71" y="372.3" width="2.9" height="161" fill="#1e4d72" />
<rect x="543.14" y="374.1" width="2.9" height="159.2" fill="#1c4b70" />
<rect x="546.57" y="371.1" width="2.9" height="162.2" fill="#1f4f74" />
<rect x="550" y="362.1" width="2.9" height="171.2" fill="#26597f" />
<rect x="553.43" y="369.3" width="2.9" height="164" fill="#205176" />
<rect x="556.87" y="384.4" width="2.9" height="148.9" fill="#133f61" />
<rect x="560.3" y="387.2" width="2.9" height="146.1" fill="#113b5d" />
<rect x="563.73" y="375" width="2.9" height="158.3" fill="#1b4a6e" />
<rect x="567.16" y="369.7" width="2.9" height="163.6" fill="#205075" />
<rect x="570.59" y="368.8" width="2.9" height="164.5" fill="#205177" />
<rect x="574.03" y="380.5" width="2.9" height="152.8" fill="#174467" />
<rect x="577.46" y="370" width="2.9" height="163.3" fill="#1f5075" />
<rect x="580.89" y="368.5" width="2.9" height="164.8" fill="#215177" />
<rect x="584.32" y="371.1" width="2.9" height="162.2" fill="#1f4f74" />
<rect x="587.75" y="380.1" width="2.9" height="153.2" fill="#174467" />
<rect x="591.19" y="378.9" width="2.9" height="154.4" fill="#184669" />
<rect x="594.62" y="383.1" width="2.9" height="150.2" fill="#154063" />
<rect x="598.05" y="374.1" width="2.9" height="159.2" fill="#1c4b70" />
<rect x="601.48" y="375.2" width="2.9" height="158.1" fill="#1b4a6e" />
<rect x="604.91" y="381.1" width="2.9" height="152.2" fill="#164366" />
<rect x="608.35" y="371.1" width="2.9" height="162.2" fill="#1f4f74" />
<rect x="611.78" y="375.2" width="2.9" height="158.1" fill="#1b4a6e" />
<rect x="615.21" y="365.1" width="2.9" height="168.2" fill="#23557b" />
<rect x="618.64" y="376.2" width="2.9" height="157.1" fill="#1a496d" />
<rect x="622.07" y="379" width="2.9" height="154.3" fill="#184569" />
<rect x="625.51" y="307.8" width="2.9" height="225.5" fill="#4c90c0" />
<rect x="628.94" y="291" width="2.9" height="242.3" fill="#579fd2" />
<rect x="632.37" y="305" width="2.9" height="228.3" fill="#4e92c3" />
<rect x="635.8" y="369.2" width="2.9" height="164.1" fill="#205176" />
<rect x="639.23" y="354.4" width="2.9" height="178.9" fill="#2b6189" />
<rect x="642.67" y="386.2" width="2.9" height="147.1" fill="#123d5f" />
<rect x="646.1" y="368" width="2.9" height="165.3" fill="#215278" />
<rect x="649.53" y="365.5" width="2.9" height="167.8" fill="#23557b" />
<rect x="652.96" y="372.1" width="2.9" height="161.2" fill="#1e4d72" />
<rect x="656.39" y="360" width="2.9" height="173.3" fill="#275b82" />
<line x1="11.3" y1="294.5" x2="14" y2="294.5" stroke="#444" stroke-width="0.6" />
<line x1="8" y1="294.5" x2="10.4" y2="294.5" stroke="#bbb" stroke-width="0.6" />
<line x1="11.3" y1="373.5" x2="14" y2="373.5" stroke="#444" stroke-width="0.6" />
<line x1="8" y1="373.5" x2="10.4" y2="373.5" stroke="#bbb" stroke-width="0.6" />
<line x1="11.3" y1="453.5" x2="14" y2="453.5" stroke="#444" stroke-width="0.6" />
<line x1="8" y1="453.5" x2="10.4" y2="453.5" stroke="#bbb" stroke-width="0.6" />
<line x1="11.3" y1="532.8" x2="14" y2="532.8" stroke="#444" stroke-width="0.6" />
<line x1="8" y1="532.8" x2="10.4" y2="532.8" stroke="#bbb" stroke-width="0.6" />
<line x1="14.96" y1="535.5" x2="17.16" y2="535.5" stroke="#e4e4e4" stroke-width="0.9" />
<line x1="18.39" y1="535.5" x2="20.59" y2="535.5" stroke="#e4e4e4" stroke-width="0.9" />
<line x1="21.82" y1="535.5" x2="24.02" y2="535.5" stroke="#e4e4e4" stroke-width="0.9" />
<line x1="25.26" y1="535.5" x2="27.46" y2="535.5" stroke="#e4e4e4" stroke-width="0.9" />
<line x1="28.69" y1="535.5" x2="30.89" y2="535.5" stroke="#e4e4e4" stroke-width="0.9" />
<line x1="32.12" y1="535.5" x2="34.32" y2="535.5" stroke="#e4e4e4" stroke-width="0.9" />
<line x1="35.55" y1="535.5" x2="37.75" y2="535.5" stroke="#e4e4e4" stroke-width="0.9" />
<line x1="38.98" y1="535.5" x2="41.18" y2="535.5" stroke="#e4e4e4" stroke-width="0.9" />
<line x1="42.42" y1="535.5" x2="44.62" y2="535.5" stroke="#e4e4e4" stroke-width="0.9" />
<line x1="45.85" y1="535.5" x2="48.05" y2="535.5" stroke="#e4e4e4" stroke-width="0.9" />
<line x1="49.28" y1="535.5" x2="51.48" y2="535.5" stroke="#e4e4e4" stroke-width="0.9" />
<line x1="52.71" y1="535.5" x2="54.91" y2="535.5" stroke="#e4e4e4" stroke-width="0.9" />
<line x1="56.14" y1="535.5" x2="58.34" y2="535.5" stroke="#e4e4e4" stroke-width="0.9" />
<line x1="59.58" y1="535.5" x2="61.78" y2="535.5" stroke="#e4e4e4" stroke-width="0.9" />
<line x1="63.01" y1="535.5" x2="65.21" y2="535.5" stroke="#e4e4e4" stroke-width="0.9" />
<line x1="66.44" y1="535.5" x2="68.64" y2="535.5" stroke="#e4e4e4" stroke-width="0.9" />
<line x1="69.87" y1="535.5" x2="72.07" y2="535.5" stroke="#e4e4e4" stroke-width="0.9" />
<line x1="73.3" y1="535.5" x2="75.5" y2="535.5" stroke="#e4e4e4" stroke-width="0.9" />
<line x1="76.74" y1="535.5" x2="78.94" y2="535.5" stroke="#e4e4e4" stroke-width="0.9" />
<line x1="80.17" y1="535.5" x2="82.37" y2="535.5" stroke="#e4e4e4" stroke-width="0.9" />
<line x1="83.6" y1="535.5" x2="85.8" y2="535.5" stroke="#e4e4e4" stroke-width="0.9" />
<line x1="87.03" y1="535.5" x2="89.23" y2="535.5" stroke="#e4e4e4" stroke-width="0.9" />
<line x1="90.46" y1="535.5" x2="92.66" y2="535.5" stroke="#e4e4e4" stroke-width="0.9" />
<line x1="93.9" y1="535.5" x2="96.1" y2="535.5" stroke="#e4e4e4" stroke-width="0.9" />
<line x1="97.33" y1="535.5" x2="99.53" y2="535.5" stroke="#e4e4e4" stroke-width="0.9" />
<line x1="100.76" y1="535.5" x2="102.96" y2="535.5" stroke="#e4e4e4" stroke-width="0.9" />
<line x1="104.19" y1="535.5" x2="106.39" y2="535.5" stroke="#e4e4e4" stroke-width="0.9" />
<line x1="107.62" y1="535.5" x2="109.82" y2="535.5" stroke="#e4e4e4" stroke-width="0.9" />
<line x1="111.06" y1="535.5" x2="113.26" y2="535.5" stroke="#e4e4e4" stroke-width="0.9" />
<line x1="114.49" y1="535.5" x2="116.69" y2="535.5" stroke="#e4e4e4" stroke-width="0.9" />
<line x1="117.92" y1="535.5" x2="120.12" y2="535.5" stroke="#e4e4e4" stroke-width="0.9" />
<line x1="121.35" y1="535.5" x2="123.55" y2="535.5" stroke="#e4e4e4" stroke-width="0.9" />
<line x1="124.78" y1="535.5" x2="126.98" y2="535.5" stroke="#e4e4e4" stroke-width="0.9" />
<line x1="128.22" y1="535.5" x2="130.42" y2="535.5" stroke="#e4e4e4" stroke-width="0.9" />
<line x1="131.65" y1="535.5" x2="133.85" y2="535.5" stroke="#e4e4e4" stroke-width="0.9" />
<line x1="135.08" y1="535.5" x2="137.28" y2="535.5" stroke="#e4e4e4" stroke-width="0.9" />
<line x1="138.51" y1="535.5" x2="140.71" y2="535.5" stroke="#e4e4e4" stroke-width="0.9" />
<line x1="141.94" y1="535.5" x2="144.14" y2="535.5" stroke="#e4e4e4" stroke-width="0.9" />
<line x1="145.38" y1="535.5" x2="147.58" y2="535.5" stroke="#e4e4e4" stroke-width="0.9" />
<line x1="148.81" y1="535.5" x2="151.01" y2="535.5" stroke="#e4e4e4" stroke-width="0.9" />
<line x1="152.24" y1="535.5" x2="154.44" y2="535.5" stroke="#e4e4e4" stroke-width="0.9" />
<line x1="155.67" y1="535.5" x2="157.87" y2="535.5" stroke="#e4e4e4" stroke-width="0.9" />
<line x1="159.1" y1="535.5" x2="161.3" y2="535.5" stroke="#e4e4e4" stroke-width="0.9" />
<line x1="162.54" y1="535.5" x2="164.74" y2="535.5" stroke="#e4e4e4" stroke-width="0.9" />
<line x1="165.97" y1="535.5" x2="168.17" y2="535.5" stroke="#e4e4e4" stroke-width="0.9" />
<line x1="169.4" y1="535.5" x2="171.6" y2="535.5" stroke="#e4e4e4" stroke-width="0.9" />
<line x1="172.83" y1="535.5" x2="175.03" y2="535.5" stroke="#e4e4e4" stroke-width="0.9" />
<line x1="176.26" y1="535.5" x2="178.46" y2="535.5" stroke="#e4e4e4" stroke-width="0.9" />
<line x1="179.7" y1="535.5" x2="181.9" y2="535.5" stroke="#e4e4e4" stroke-width="0.9" />
<line x1="183.13" y1="535.5" x2="185.33" y2="535.5" stroke="#e4e4e4" stroke-width="0.9" />
<line x1="186.56" y1="535.5" x2="188.76" y2="535.5" stroke="#e4e4e4" stroke-width="0.9" />
<line x1="189.99" y1="535.5" x2="192.19" y2="535.5" stroke="#e4e4e4" stroke-width="0.9" />
<line x1="193.42" y1="535.5" x2="195.62" y2="535.5" stroke="#e4e4e4" stroke-width="0.9" />
<line x1="196.86" y1="535.5" x2="199.06" y2="535.5" stroke="#e4e4e4" stroke-width="0.9" />
<line x1="200.29" y1="535.5" x2="202.49" y2="535.5" stroke="#e4e4e4" stroke-width="0.9" />
<line x1="203.72" y1="535.5" x2="205.92" y2="535.5" stroke="#e4e4e4" stroke-width="0.9" />
<line x1="207.15" y1="535.5" x2="209.35" y2="535.5" stroke="#e4e4e4" stroke-width="0.9" />
<line x1="210.58" y1="535.5" x2="212.78" y2="535.5" stroke="#e4e4e4" stroke-width="0.9" />
<line x1="214.02" y1="535.5" x2="216.22" y2="535.5" stroke="#e4e4e4" stroke-width="0.9" />
<line x1="217.45" y1="535.5" x2="219.65" y2="535.5" stroke="#e4e4e4" stroke-width="0.9" />
<line x1="220.88" y1="535.5" x2="223.08" y2="535.5" stroke="#e4e4e4" stroke-width="0.9" />
<line x1="224.31" y1="535.5" x2="226.51" y2="535.5" stroke="#e4e4e4" stroke-width="0.9" />
<line x1="227.74" y1="535.5" x2="229.94" y2="535.5" stroke="#e4e4e4" stroke-width="0.9" />
<line x1="231.18" y1="535.5" x2="233.38" y2="535.5" stroke="#e4e4e4" stroke-width="0.9" />
<line x1="234.61" y1="535.5" x2="236.81" y2="535.5" stroke="#e4e4e4" stroke-width="0.9" />
<line x1="238.04" y1="535.5" x2="240.24" y2="535.5" stroke="#e4e4e4" stroke-width="0.9" />
<line x1="241.47" y1="535.5" x2="243.67" y2="535.5" stroke="#e4e4e4" stroke-width="0.9" />
<line x1="244.9" y1="535.5" x2="247.1" y2="535.5" stroke="#e4e4e4" stroke-width="0.9" />
<line x1="248.34" y1="535.5" x2="250.54" y2="535.5" stroke="#e4e4e4" stroke-width="0.9" />
<line x1="251.77" y1="535.5" x2="253.97" y2="535.5" stroke="#e4e4e4" stroke-width="0.9" />
<line x1="255.2" y1="535.5" x2="257.4" y2="535.5" stroke="#e4e4e4" stroke-width="0.9" />
<line x1="258.63" y1="535.5" x2="260.83" y2="535.5" stroke="#e4e4e4" stroke-width="0.9" />
<line x1="262.06" y1="535.5" x2="264.26" y2="535.5" stroke="#e4e4e4" stroke-width="0.9" />
<line x1="265.5" y1="535.5" x2="267.7" y2="535.5" stroke="#e4e4e4" stroke-width="0.9" />
<line x1="268.93" y1="535.5" x2="271.13" y2="535.5" stroke="#e4e4e4" stroke-width="0.9" />
<line x1="272.36" y1="535.5" x2="274.56" y2="535.5" stroke="#e4e4e4" stroke-width="0.9" />
<line x1="275.79" y1="535.5" x2="277.99" y2="535.5" stroke="#e4e4e4" stroke-width="0.9" />
<line x1="279.22" y1="535.5" x2="281.42" y2="535.5" stroke="#e4e4e4" stroke-width="0.9" />
<line x1="282.66" y1="535.5" x2="284.86" y2="535.5" stroke="#e4e4e4" stroke-width="0.9" />
<line x1="286.09" y1="535.5" x2="288.29" y2="535.5" stroke="#e4e4e4" stroke-width="0.9" />
<line x1="289.52" y1="535.5" x2="291.72" y2="535.5" stroke="#e4e4e4" stroke-width="0.9" />
<line x1="292.95" y1="535.5" x2="295.15" y2="535.5" stroke="#e4e4e4" stroke-width="0.9" />
<line x1="296.38" y1="535.5" x2="298.58" y2="535.5" stroke="#e4e4e4" stroke-width="0.9" />
<line x1="299.82" y1="535.5" x2="302.02" y2="535.5" stroke="#e4e4e4" stroke-width="0.9" />
<line x1="303.25" y1="535.5" x2="305.45" y2="535.5" stroke="#e4e4e4" stroke-width="0.9" />
<line x1="306.68" y1="535.5" x2="308.88" y2="535.5" stroke="#e4e4e4" stroke-width="0.9" />
<line x1="310.11" y1="535.5" x2="312.31" y2="535.5" stroke="#e4e4e4" stroke-width="0.9" />
<line x1="313.54" y1="535.5" x2="315.74" y2="535.5" stroke="#e4e4e4" stroke-width="0.9" />
<line x1="316.98" y1="535.5" x2="319.18" y2="535.5" stroke="#e4e4e4" stroke-width="0.9" />
<line x1="320.41" y1="535.5" x2="322.61" y2="535.5" stroke="#e4e4e4" stroke-width="0.9" />
<line x1="323.84" y1="535.5" x2="326.04" y2="535.5" stroke="#e4e4e4" stroke-width="0.9" />
<line x1="327.27" y1="535.5" x2="329.47" y2="535.5" stroke="#e4e4e4" stroke-width="0.9" />
<line x1="330.7" y1="535.5" x2="332.9" y2="535.5" stroke="#e4e4e4" stroke-width="0.9" />
<line x1="334.14" y1="535.5" x2="336.34" y2="535.5" stroke="#e4e4e4" stroke-width="0.9" />
<line x1="337.57" y1="535.5" x2="339.77" y2="535.5" stroke="#e4e4e4" stroke-width="0.9" />
<line x1="341" y1="535.5" x2="343.2" y2="535.5" stroke="#e4e4e4" stroke-width="0.9" />
<line x1="344.43" y1="535.5" x2="346.63" y2="535.5" stroke="#e4e4e4" stroke-width="0.9" />
<line x1="347.86" y1="535.5" x2="350.06" y2="535.5" stroke="#e4e4e4" stroke-width="0.9" />
<line x1="351.3" y1="535.5" x2="353.5" y2="535.5" stroke="#e4e4e4" stroke-width="0.9" />
<line x1="354.73" y1="535.5" x2="356.93" y2="535.5" stroke="#e4e4e4" stroke-width="0.9" />
<line x1="358.16" y1="535.5" x2="360.36" y2="535.5" stroke="#e4e4e4" stroke-width="0.9" />
<line x1="361.59" y1="535.5" x2="363.79" y2="535.5" stroke="#e4e4e4" stroke-width="0.9" />
<line x1="365.02" y1="535.5" x2="367.22" y2="535.5" stroke="#e4e4e4" stroke-width="0.9" />
<line x1="368.46" y1="535.5" x2="370.66" y2="535.5" stroke="#e4e4e4" stroke-width="0.9" />
<line x1="371.89" y1="535.5" x2="374.09" y2="535.5" stroke="#e4e4e4" stroke-width="0.9" />
<line x1="375.32" y1="535.5" x2="377.52" y2="535.5" stroke="#e4e4e4" stroke-width="0.9" />
<line x1="378.75" y1="535.5" x2="380.95" y2="535.5" stroke="#e4e4e4" stroke-width="0.9" />
<line x1="382.18" y1="535.5" x2="384.38" y2="535.5" stroke="#e4e4e4" stroke-width="0.9" />
<line x1="385.62" y1="535.5" x2="387.82" y2="535.5" stroke="#e4e4e4" stroke-width="0.9" />
<line x1="389.05" y1="535.5" x2="391.25" y2="535.5" stroke="#e4e4e4" stroke-width="0.9" />
<line x1="392.48" y1="535.5" x2="394.68" y2="535.5" stroke="#e4e4e4" stroke-width="0.9" />
<line x1="395.91" y1="535.5" x2="398.11" y2="535.5" stroke="#e4e4e4" stroke-width="0.9" />
<line x1="399.34" y1="535.5" x2="401.54" y2="535.5" stroke="#e4e4e4" stroke-width="0.9" />
<line x1="402.78" y1="535.5" x2="404.98" y2="535.5" stroke="#e4e4e4" stroke-width="0.9" />
<line x1="406.21" y1="535.5" x2="408.41" y2="535.5" stroke="#e4e4e4" stroke-width="0.9" />
<line x1="409.64" y1="535.5" x2="411.84" y2="535.5" stroke="#e4e4e4" stroke-width="0.9" />
<line x1="413.07" y1="535.5" x2="415.27" y2="535.5" stroke="#e4e4e4" stroke-width="0.9" />
<line x1="416.5" y1="535.5" x2="418.7" y2="535.5" stroke="#e4e4e4" stroke-width="0.9" />
<line x1="419.94" y1="535.5" x2="422.14" y2="535.5" stroke="#e4e4e4" stroke-width="0.9" />
<line x1="423.37" y1="535.5" x2="425.57" y2="535.5" stroke="#e4e4e4" stroke-width="0.9" />
<line x1="426.8" y1="535.5" x2="429" y2="535.5" stroke="#e4e4e4" stroke-width="0.9" />
<line x1="430.23" y1="535.5" x2="432.43" y2="535.5" stroke="#e4e4e4" stroke-width="0.9" />
<line x1="433.66" y1="535.5" x2="435.86" y2="535.5" stroke="#e4e4e4" stroke-width="0.9" />
<line x1="437.1" y1="535.5" x2="439.3" y2="535.5" stroke="#e4e4e4" stroke-width="0.9" />
<line x1="440.53" y1="535.5" x2="442.73" y2="535.5" stroke="#e4e4e4" stroke-width="0.9" />
<line x1="443.96" y1="535.5" x2="446.16" y2="535.5" stroke="#e4e4e4" stroke-width="0.9" />
<line x1="447.39" y1="535.5" x2="449.59" y2="535.5" stroke="#e4e4e4" stroke-width="0.9" />
<line x1="450.82" y1="535.5" x2="453.02" y2="535.5" stroke="#e4e4e4" stroke-width="0.9" />
<line x1="454.26" y1="535.5" x2="456.46" y2="535.5" stroke="#e4e4e4" stroke-width="0.9" />
<line x1="457.69" y1="535.5" x2="459.89" y2="535.5" stroke="#e4e4e4" stroke-width="0.9" />
<line x1="461.12" y1="535.5" x2="463.32" y2="535.5" stroke="#e4e4e4" stroke-width="0.9" />
<line x1="464.55" y1="535.5" x2="466.75" y2="535.5" stroke="#e4e4e4" stroke-width="0.9" />
<line x1="467.98" y1="535.5" x2="470.18" y2="535.5" stroke="#e4e4e4" stroke-width="0.9" />
<line x1="471.42" y1="535.5" x2="473.62" y2="535.5" stroke="#e4e4e4" stroke-width="0.9" />
<line x1="474.85" y1="535.5" x2="477.05" y2="535.5" stroke="#e4e4e4" stroke-width="0.9" />
<line x1="478.28" y1="535.5" x2="480.48" y2="535.5" stroke="#e4e4e4" stroke-width="0.9" />
<line x1="481.71" y1="535.5" x2="483.91" y2="535.5" stroke="#e4e4e4" stroke-width="0.9" />
<line x1="485.14" y1="535.5" x2="487.34" y2="535.5" stroke="#e4e4e4" stroke-width="0.9" />
<line x1="488.58" y1="535.5" x2="490.78" y2="535.5" stroke="#e4e4e4" stroke-width="0.9" />
<line x1="492.01" y1="535.5" x2="494.21" y2="535.5" stroke="#e4e4e4" stroke-width="0.9" />
<line x1="495.44" y1="535.5" x2="497.64" y2="535.5" stroke="#e4e4e4" stroke-width="0.9" />
<line x1="498.87" y1="535.5" x2="501.07" y2="535.5" stroke="#e4e4e4" stroke-width="0.9" />
<line x1="502.3" y1="535.5" x2="504.5" y2="535.5" stroke="#e4e4e4" stroke-width="0.9" />
<line x1="505.74" y1="535.5" x2="507.94" y2="535.5" stroke="#e4e4e4" stroke-width="0.9" />
<line x1="509.17" y1="535.5" x2="511.37" y2="535.5" stroke="#e4e4e4" stroke-width="0.9" />
<line x1="512.6" y1="535.5" x2="514.8" y2="535.5" stroke="#e4e4e4" stroke-width="0.9" />
<line x1="516.03" y1="535.5" x2="518.23" y2="535.5" stroke="#e4e4e4" stroke-width="0.9" />
<line x1="519.46" y1="535.5" x2="521.66" y2="535.5" stroke="#e4e4e4" stroke-width="0.9" />
<line x1="522.9" y1="535.5" x2="525.1" y2="535.5" stroke="#e4e4e4" stroke-width="0.9" />
<line x1="526.33" y1="535.5" x2="528.53" y2="535.5" stroke="#e4e4e4" stroke-width="0.9" />
<line x1="529.76" y1="535.5" x2="531.96" y2="535.5" stroke="#e4e4e4" stroke-width="0.9" />
<line x1="533.19" y1="535.5" x2="535.39" y2="535.5" stroke="#e4e4e4" stroke-width="0.9" />
<line x1="536.62" y1="535.5" x2="538.82" y2="535.5" stroke="#e4e4e4" stroke-width="0.9" />
<line x1="540.06" y1="535.5" x2="542.26" y2="535.5" stroke="#e4e4e4" stroke-width="0.9" />
<line x1="543.49" y1="535.5" x2="545.69" y2="535.5" stroke="#e4e4e4" stroke-width="0.9" />
<line x1="546.92" y1="535.5" x2="549.12" y2="535.5" stroke="#e4e4e4" stroke-width="0.9" />
<line x1="550.35" y1="535.5" x2="552.55" y2="535.5" stroke="#e4e4e4" stroke-width="0.9" />
<line x1="553.78" y1="535.5" x2="555.98" y2="535.5" stroke="#e4e4e4" stroke-width="0.9" />
<line x1="557.22" y1="535.5" x2="559.42" y2="535.5" stroke="#e4e4e4" stroke-width="0.9" />
<line x1="560.65" y1="535.5" x2="562.85" y2="535.5" stroke="#e4e4e4" stroke-width="0.9" />
<line x1="564.08" y1="535.5" x2="566.28" y2="535.5" stroke="#e4e4e4" stroke-width="0.9" />
<line x1="567.51" y1="535.5" x2="569.71" y2="535.5" stroke="#e4e4e4" stroke-width="0.9" />
<line x1="570.94" y1="535.5" x2="573.14" y2="535.5" stroke="#e4e4e4" stroke-width="0.9" />
<line x1="574.38" y1="535.5" x2="576.58" y2="535.5" stroke="#e4e4e4" stroke-width="0.9" />
<line x1="577.81" y1="535.5" x2="580.01" y2="535.5" stroke="#e4e4e4" stroke-width="0.9" />
<line x1="581.24" y1="535.5" x2="583.44" y2="535.5" stroke="#e4e4e4" stroke-width="0.9" />
<line x1="584.67" y1="535.5" x2="586.87" y2="535.5" stroke="#e4e4e4" stroke-width="0.9" />
<line x1="588.1" y1="535.5" x2="590.3" y2="535.5" stroke="#e4e4e4" stroke-width="0.9" />
<line x1="591.54" y1="535.5" x2="593.74" y2="535.5" stroke="#e4e4e4" stroke-width="0.9" />
<line x1="594.97" y1="535.5" x2="597.17" y2="535.5" stroke="#e4e4e4" stroke-width="0.9" />
<line x1="598.4" y1="535.5" x2="600.6" y2="535.5" stroke="#e4e4e4" stroke-width="0.9" />
<line x1="601.83" y1="535.5" x2="604.03" y2="535.5" stroke="#e4e4e4" stroke-width="0.9" />
<line x1="605.26" y1="535.5" x2="607.46" y2="535.5" stroke="#e4e4e4" stroke-width="0.9" />
<line x1="608.7" y1="535.5" x2="610.9" y2="535.5" stroke="#e4e4e4" stroke-width="0.9" />
<line x1="612.13" y1="535.5" x2="614.33" y2="535.5" stroke="#e4e4e4" stroke-width="0.9" />
<line x1="615.56" y1="535.5" x2="617.76" y2="535.5" stroke="#e4e4e4" stroke-width="0.9" />
<line x1="618.99" y1="535.5" x2="621.19" y2="535.5" stroke="#e4e4e4" stroke-width="0.9" />
<line x1="622.42" y1="535.5" x2="624.62" y2="535.5" stroke="#e4e4e4" stroke-width="0.9" />
<line x1="625.86" y1="535.5" x2="628.06" y2="535.5" stroke="#e4e4e4" stroke-width="0.9" />
<line x1="629.29" y1="535.5" x2="631.49" y2="535.5" stroke="#e4e4e4" stroke-width="0.9" />
<line x1="632.72" y1="535.5" x2="634.92" y2="535.5" stroke="#e4e4e4" stroke-width="0.9" />
<line x1="636.15" y1="535.5" x2="638.35" y2="535.5" stroke="#e4e4e4" stroke-width="0.9" />
<line x1="639.58" y1="535.5" x2="641.78" y2="535.5" stroke="#e4e4e4" stroke-width="0.9" />
<line x1="643.02" y1="535.5" x2="645.22" y2="535.5" stroke="#e4e4e4" stroke-width="0.9" />
<line x1="646.45" y1="535.5" x2="648.65" y2="535.5" stroke="#e4e4e4" stroke-width="0.9" />
<line x1="649.88" y1="535.5" x2="652.08" y2="535.5" stroke="#e4e4e4" stroke-width="0.9" />
<line x1="653.31" y1="535.5" x2="655.51" y2="535.5" stroke="#e4e4e4" stroke-width="0.9" />
<line x1="656.74" y1="535.5" x2="658.94" y2="535.5" stroke="#e4e4e4" stroke-width="0.9" />
<defs><linearGradient id="lg" x1="0" y1="1" x2="0" y2="0"><stop offset="0" stop-color="#022644"/><stop offset="0.25" stop-color="#1e4d72"/><stop offset="0.5" stop-color="#346d97"/><stop offset="0.75" stop-color="#488ab9"/><stop offset="1" stop-color="#5ca6da"/></linearGradient></defs>
<rect x="668.2" y="392.4" width="11.8" height="35.3" fill="url(#lg)" />
<line x1="668.2" y1="400.3" x2="670.3" y2="400.3" stroke="#fff" stroke-width="0.8" />
<line x1="677.9" y1="400.3" x2="680" y2="400.3" stroke="#fff" stroke-width="0.8" />
<line x1="681.6" y1="400.3" x2="684.2" y2="400.3" stroke="#888" stroke-width="0.7" />
<line x1="668.2" y1="410.1" x2="670.3" y2="410.1" stroke="#fff" stroke-width="0.8" />
<line x1="677.9" y1="410.1" x2="680" y2="410.1" stroke="#fff" stroke-width="0.8" />
<line x1="681.6" y1="410.1" x2="684.2" y2="410.1" stroke="#888" stroke-width="0.7" />
<line x1="668.2" y1="419.3" x2="670.3" y2="419.3" stroke="#fff" stroke-width="0.8" />
<line x1="677.9" y1="419.3" x2="680" y2="419.3" stroke="#fff" stroke-width="0.8" />
<line x1="681.6" y1="419.3" x2="684.2" y2="419.3" stroke="#888" stroke-width="0.7" />
<line x1="668.6" y1="390.3" x2="680.2" y2="390.3" stroke="#999" stroke-width="0.8" />
<line x1="56.3" y1="691.6" x2="251.8" y2="691.6" stroke="#8c8c8c" stroke-width="1.15" stroke-dasharray="2,2"/>
<line x1="56.3" y1="669.2" x2="251.8" y2="669.2" stroke="#8c8c8c" stroke-width="1.15" stroke-dasharray="2,2"/>
<line x1="56.3" y1="646.8" x2="251.8" y2="646.8" stroke="#8c8c8c" stroke-width="1.15" stroke-dasharray="2,2"/>
<line x1="56.3" y1="624.4" x2="251.8" y2="624.4" stroke="#8c8c8c" stroke-width="1.15" stroke-dasharray="2,2"/>
<line x1="56.3" y1="602" x2="251.8" y2="602" stroke="#8c8c8c" stroke-width="1.15" stroke-dasharray="2,2"/>
<line x1="56.3" y1="579.6" x2="251.8" y2="579.6" stroke="#8c8c8c" stroke-width="1.15" stroke-dasharray="2,2"/>
<line x1="86.7" y1="565.8" x2="86.7" y2="700.6" stroke="#666" stroke-width="0.9" stroke-dasharray="2.4,2"/>
<line x1="131.6" y1="565.8" x2="131.6" y2="700.6" stroke="#666" stroke-width="0.9" stroke-dasharray="2.4,2"/>
<line x1="177.3" y1="565.8" x2="177.3" y2="700.6" stroke="#666" stroke-width="0.9" stroke-dasharray="2.4,2"/>
<line x1="221.6" y1="565.8" x2="221.6" y2="700.6" stroke="#666" stroke-width="0.9" stroke-dasharray="2.4,2"/>
<line x1="84" y1="637.84" x2="223.7" y2="637.84" stroke="#7cc493" stroke-width="1.1"/>
<line x1="84" y1="655.76" x2="223.7" y2="655.76" stroke="#7cc493" stroke-width="1.1"/>
<rect x="83.15" y="645.75" width="3.3" height="3.5" fill="#44b81e" stroke="#1a1a1a" stroke-width="0.8"/>
<rect x="88.15" y="645.75" width="3.3" height="3.5" fill="#44b81e" stroke="#1a1a1a" stroke-width="0.8"/>
<rect x="98.05" y="645.75" width="3.3" height="3.5" fill="#44b81e" stroke="#1a1a1a" stroke-width="0.8"/>
<rect x="113.35" y="645.75" width="3.3" height="3.5" fill="#44b81e" stroke="#1a1a1a" stroke-width="0.8"/>
<rect x="120.95" y="644.25" width="3.3" height="3.5" fill="#44b81e" stroke="#1a1a1a" stroke-width="0.8"/>
<rect x="128.25" y="646.95" width="3.3" height="3.5" fill="#44b81e" stroke="#1a1a1a" stroke-width="0.8"/>
<rect x="150.35" y="645.75" width="3.3" height="3.5" fill="#2242a8" stroke="#1a1a1a" stroke-width="0.8"/>
<rect x="155.75" y="644.05" width="3.3" height="3.5" fill="#2242a8" stroke="#1a1a1a" stroke-width="0.8"/>
<rect x="161.55" y="645.05" width="3.3" height="3.5" fill="#44b81e" stroke="#1a1a1a" stroke-width="0.8"/>
<rect x="165.95" y="645.05" width="3.3" height="3.5" fill="#2242a8" stroke="#1a1a1a" stroke-width="0.8"/>
<rect x="170.65" y="647.95" width="3.3" height="3.5" fill="#2242a8" stroke="#1a1a1a" stroke-width="0.8"/>
<rect x="176.85" y="642.15" width="3.3" height="3.5" fill="#2242a8" stroke="#1a1a1a" stroke-width="0.8"/>
<rect x="182.25" y="647.25" width="3.3" height="3.5" fill="#2242a8" stroke="#1a1a1a" stroke-width="0.8"/>
<rect x="188.05" y="645.75" width="3.3" height="3.5" fill="#2242a8" stroke="#1a1a1a" stroke-width="0.8"/>
<rect x="193.85" y="646.95" width="3.3" height="3.5" fill="#2242a8" stroke="#1a1a1a" stroke-width="0.8"/>
<rect x="199.75" y="645.75" width="3.3" height="3.5" fill="#2242a8" stroke="#1a1a1a" stroke-width="0.8"/>
<rect x="207.05" y="647.95" width="3.3" height="3.5" fill="#2242a8" stroke="#1a1a1a" stroke-width="0.8"/>
<rect x="217.95" y="646.95" width="3.3" height="3.5" fill="#2242a8" stroke="#1a1a1a" stroke-width="0.8"/>
<rect x="222.65" y="645.75" width="3.3" height="3.5" fill="#2242a8" stroke="#1a1a1a" stroke-width="0.8"/>
<rect x="213.3" y="690.6" width="3" height="3" fill="#fff" stroke="#222" stroke-width="1"/>
<path d="M243.7,698 L249.6,691 L249.6,698 Z" fill="#1e7a34" stroke="#333" stroke-width="0.5"/>
<line x1="251.8" y1="565.8" x2="251.8" y2="700.6" stroke="#666" stroke-width="1"/>
<line x1="56.3" y1="565.8" x2="251.8" y2="565.8" stroke="#333" stroke-width="1.2"/>
<line x1="56.3" y1="565.8" x2="56.3" y2="700.6" stroke="#111" stroke-width="1.4"/>
<line x1="56.3" y1="700.6" x2="251.8" y2="700.6" stroke="#111" stroke-width="1.5"/>
<line x1="53.9" y1="697.2" x2="56.3" y2="697.2" stroke="#555" stroke-width="0.6"/>
<line x1="53.9" y1="691.6" x2="56.3" y2="691.6" stroke="#555" stroke-width="0.6"/>
<line x1="53.9" y1="686" x2="56.3" y2="686" stroke="#555" stroke-width="0.6"/>
<line x1="53.9" y1="680.4" x2="56.3" y2="680.4" stroke="#555" stroke-width="0.6"/>
<line x1="53.9" y1="674.8" x2="56.3" y2="674.8" stroke="#555" stroke-width="0.6"/>
<line x1="53.9" y1="669.2" x2="56.3" y2="669.2" stroke="#555" stroke-width="0.6"/>
<line x1="53.9" y1="663.6" x2="56.3" y2="663.6" stroke="#555" stroke-width="0.6"/>
<line x1="53.9" y1="658" x2="56.3" y2="658" stroke="#555" stroke-width="0.6"/>
<line x1="53.9" y1="652.4" x2="56.3" y2="652.4" stroke="#555" stroke-width="0.6"/>
<line x1="53.9" y1="646.8" x2="56.3" y2="646.8" stroke="#555" stroke-width="0.6"/>
<line x1="53.9" y1="641.2" x2="56.3" y2="641.2" stroke="#555" stroke-width="0.6"/>
<line x1="53.9" y1="635.6" x2="56.3" y2="635.6" stroke="#555" stroke-width="0.6"/>
<line x1="53.9" y1="630" x2="56.3" y2="630" stroke="#555" stroke-width="0.6"/>
<line x1="53.9" y1="624.4" x2="56.3" y2="624.4" stroke="#555" stroke-width="0.6"/>
<line x1="53.9" y1="618.8" x2="56.3" y2="618.8" stroke="#555" stroke-width="0.6"/>
<line x1="53.9" y1="613.2" x2="56.3" y2="613.2" stroke="#555" stroke-width="0.6"/>
<line x1="53.9" y1="607.6" x2="56.3" y2="607.6" stroke="#555" stroke-width="0.6"/>
<line x1="53.9" y1="602" x2="56.3" y2="602" stroke="#555" stroke-width="0.6"/>
<line x1="53.9" y1="596.4" x2="56.3" y2="596.4" stroke="#555" stroke-width="0.6"/>
<line x1="53.9" y1="590.8" x2="56.3" y2="590.8" stroke="#555" stroke-width="0.6"/>
<line x1="53.9" y1="585.2" x2="56.3" y2="585.2" stroke="#555" stroke-width="0.6"/>
<line x1="53.9" y1="579.6" x2="56.3" y2="579.6" stroke="#555" stroke-width="0.6"/>
<line x1="53.9" y1="574" x2="56.3" y2="574" stroke="#555" stroke-width="0.6"/>
<line x1="53.9" y1="568.4" x2="56.3" y2="568.4" stroke="#555" stroke-width="0.6"/>
<text x="51.1" y="694.3" font-size="7.9" text-anchor="end" fill="#222">0</text>
<text x="51.1" y="671.9" font-size="7.9" text-anchor="end" fill="#222">0.5</text>
<text x="51.1" y="649.5" font-size="7.9" text-anchor="end" fill="#222">1</text>
<text x="51.1" y="627.1" font-size="7.9" text-anchor="end" fill="#222">1.5</text>
<text x="51.1" y="604.7" font-size="7.9" text-anchor="end" fill="#222">2</text>
<text x="51.1" y="582.3" font-size="7.9" text-anchor="end" fill="#222">2.5</text>
<line x1="64.3" y1="700.6" x2="64.3" y2="703.2" stroke="#555" stroke-width="0.6"/>
<line x1="75.55" y1="700.6" x2="75.55" y2="703.2" stroke="#555" stroke-width="0.6"/>
<line x1="86.8" y1="700.6" x2="86.8" y2="703.2" stroke="#555" stroke-width="0.6"/>
<line x1="98.05" y1="700.6" x2="98.05" y2="703.2" stroke="#555" stroke-width="0.6"/>
<line x1="109.3" y1="700.6" x2="109.3" y2="703.2" stroke="#555" stroke-width="0.6"/>
<line x1="120.55" y1="700.6" x2="120.55" y2="703.2" stroke="#555" stroke-width="0.6"/>
<line x1="131.8" y1="700.6" x2="131.8" y2="703.2" stroke="#555" stroke-width="0.6"/>
<line x1="143.05" y1="700.6" x2="143.05" y2="703.2" stroke="#555" stroke-width="0.6"/>
<line x1="154.3" y1="700.6" x2="154.3" y2="703.2" stroke="#555" stroke-width="0.6"/>
<line x1="165.55" y1="700.6" x2="165.55" y2="703.2" stroke="#555" stroke-width="0.6"/>
<line x1="176.8" y1="700.6" x2="176.8" y2="703.2" stroke="#555" stroke-width="0.6"/>
<line x1="188.05" y1="700.6" x2="188.05" y2="703.2" stroke="#555" stroke-width="0.6"/>
<line x1="199.3" y1="700.6" x2="199.3" y2="703.2" stroke="#555" stroke-width="0.6"/>
<line x1="210.55" y1="700.6" x2="210.55" y2="703.2" stroke="#555" stroke-width="0.6"/>
<line x1="221.8" y1="700.6" x2="221.8" y2="703.2" stroke="#555" stroke-width="0.6"/>
<line x1="233.05" y1="700.6" x2="233.05" y2="703.2" stroke="#555" stroke-width="0.6"/>
<line x1="244.3" y1="700.6" x2="244.3" y2="703.2" stroke="#555" stroke-width="0.6"/>
<text x="86.7" y="713.6" font-size="7.9" text-anchor="middle" fill="#222">100</text>
<text x="131.6" y="713.6" font-size="7.9" text-anchor="middle" fill="#222">150</text>
<text x="177.3" y="713.6" font-size="7.9" text-anchor="middle" fill="#222">200</text>
<text x="221.6" y="713.6" font-size="7.9" text-anchor="middle" fill="#222">250</text>
<text x="154.55" y="722.6" font-size="8" text-anchor="middle" fill="#222">Size (bps)</text>
<text x="0" y="0" font-size="8" text-anchor="middle" fill="#222" transform="translate(36.4,634.8) rotate(-90)">Peak Ratio</text>
<line x1="56.5" y1="863.6" x2="253.3" y2="863.6" stroke="#8c8c8c" stroke-width="1.15" stroke-dasharray="2,2"/>
<line x1="56.5" y1="840.1" x2="253.3" y2="840.1" stroke="#8c8c8c" stroke-width="1.15" stroke-dasharray="2,2"/>
<line x1="56.5" y1="816.6" x2="253.3" y2="816.6" stroke="#8c8c8c" stroke-width="1.15" stroke-dasharray="2,2"/>
<line x1="56.5" y1="793.1" x2="253.3" y2="793.1" stroke="#8c8c8c" stroke-width="1.15" stroke-dasharray="2,2"/>
<line x1="56.5" y1="769.6" x2="253.3" y2="769.6" stroke="#8c8c8c" stroke-width="1.15" stroke-dasharray="2,2"/>
<line x1="56.5" y1="746.1" x2="253.3" y2="746.1" stroke="#8c8c8c" stroke-width="1.15" stroke-dasharray="2,2"/>
<line x1="86.3" y1="732" x2="86.3" y2="873.4" stroke="#666" stroke-width="0.9" stroke-dasharray="2.4,2"/>
<line x1="131.4" y1="732" x2="131.4" y2="873.4" stroke="#666" stroke-width="0.9" stroke-dasharray="2.4,2"/>
<line x1="177.8" y1="732" x2="177.8" y2="873.4" stroke="#666" stroke-width="0.9" stroke-dasharray="2.4,2"/>
<line x1="222.1" y1="732" x2="222.1" y2="873.4" stroke="#666" stroke-width="0.9" stroke-dasharray="2.4,2"/>
<line x1="84" y1="807.2" x2="224.2" y2="807.2" stroke="#7cc493" stroke-width="1.1"/>
<line x1="84" y1="826" x2="224.2" y2="826" stroke="#7cc493" stroke-width="1.1"/>
<rect x="82.95" y="786.35" width="3.3" height="3.5" fill="#e8321a" stroke="#1a1a1a" stroke-width="0.8"/>
<rect x="87.95" y="791.85" width="3.3" height="3.5" fill="#e8321a" stroke="#1a1a1a" stroke-width="0.8"/>
<rect x="98.25" y="793.15" width="3.3" height="3.5" fill="#e8321a" stroke="#1a1a1a" stroke-width="0.8"/>
<rect x="113.15" y="793.15" width="3.3" height="3.5" fill="#e8321a" stroke="#1a1a1a" stroke-width="0.8"/>
<rect x="121.25" y="793.15" width="3.3" height="3.5" fill="#e8321a" stroke="#1a1a1a" stroke-width="0.8"/>
<rect x="128.95" y="788.35" width="3.3" height="3.5" fill="#e8321a" stroke="#1a1a1a" stroke-width="0.8"/>
<rect x="150.85" y="818.15" width="3.3" height="3.5" fill="#2242a8" stroke="#1a1a1a" stroke-width="0.8"/>
<rect x="156.25" y="815.95" width="3.3" height="3.5" fill="#2242a8" stroke="#1a1a1a" stroke-width="0.8"/>
<rect x="162.25" y="817.15" width="3.3" height="3.5" fill="#44b81e" stroke="#1a1a1a" stroke-width="0.8"/>
<rect x="167.15" y="818.95" width="3.3" height="3.5" fill="#2242a8" stroke="#1a1a1a" stroke-width="0.8"/>
<rect x="171.75" y="810.85" width="3.3" height="3.5" fill="#2242a8" stroke="#1a1a1a" stroke-width="0.8"/>
<rect x="177.65" y="814.95" width="3.3" height="3.5" fill="#2242a8" stroke="#1a1a1a" stroke-width="0.8"/>
<rect x="182.85" y="807.65" width="3.3" height="3.5" fill="#2242a8" stroke="#1a1a1a" stroke-width="0.8"/>
<rect x="188.75" y="817.15" width="3.3" height="3.5" fill="#2242a8" stroke="#1a1a1a" stroke-width="0.8"/>
<rect x="194.85" y="818.95" width="3.3" height="3.5" fill="#2242a8" stroke="#1a1a1a" stroke-width="0.8"/>
<rect x="200.65" y="818.15" width="3.3" height="3.5" fill="#2242a8" stroke="#1a1a1a" stroke-width="0.8"/>
<rect x="207.95" y="816.45" width="3.3" height="3.5" fill="#2242a8" stroke="#1a1a1a" stroke-width="0.8"/>
<rect x="219.35" y="818.15" width="3.3" height="3.5" fill="#2242a8" stroke="#1a1a1a" stroke-width="0.8"/>
<rect x="224.05" y="819.65" width="3.3" height="3.5" fill="#2242a8" stroke="#1a1a1a" stroke-width="0.8"/>
<rect x="214.2" y="863.2" width="3" height="3" fill="#fff" stroke="#222" stroke-width="1"/>
<path d="M245.3,871.1 L251.2,864.3 L251.2,871.1 Z" fill="#e03a1a" stroke="#333" stroke-width="0.5"/>
<line x1="253.3" y1="732" x2="253.3" y2="873.4" stroke="#666" stroke-width="1"/>
<line x1="56.5" y1="732" x2="253.3" y2="732" stroke="#333" stroke-width="1.2"/>
<line x1="56.5" y1="732" x2="56.5" y2="873.4" stroke="#111" stroke-width="1.4"/>
<line x1="56.5" y1="873.4" x2="253.3" y2="873.4" stroke="#111" stroke-width="1.5"/>
<line x1="54.1" y1="869.48" x2="56.5" y2="869.48" stroke="#555" stroke-width="0.6"/>
<line x1="54.1" y1="863.6" x2="56.5" y2="863.6" stroke="#555" stroke-width="0.6"/>
<line x1="54.1" y1="857.73" x2="56.5" y2="857.73" stroke="#555" stroke-width="0.6"/>
<line x1="54.1" y1="851.85" x2="56.5" y2="851.85" stroke="#555" stroke-width="0.6"/>
<line x1="54.1" y1="845.98" x2="56.5" y2="845.98" stroke="#555" stroke-width="0.6"/>
<line x1="54.1" y1="840.1" x2="56.5" y2="840.1" stroke="#555" stroke-width="0.6"/>
<line x1="54.1" y1="834.23" x2="56.5" y2="834.23" stroke="#555" stroke-width="0.6"/>
<line x1="54.1" y1="828.35" x2="56.5" y2="828.35" stroke="#555" stroke-width="0.6"/>
<line x1="54.1" y1="822.48" x2="56.5" y2="822.48" stroke="#555" stroke-width="0.6"/>
<line x1="54.1" y1="816.6" x2="56.5" y2="816.6" stroke="#555" stroke-width="0.6"/>
<line x1="54.1" y1="810.73" x2="56.5" y2="810.73" stroke="#555" stroke-width="0.6"/>
<line x1="54.1" y1="804.85" x2="56.5" y2="804.85" stroke="#555" stroke-width="0.6"/>
<line x1="54.1" y1="798.98" x2="56.5" y2="798.98" stroke="#555" stroke-width="0.6"/>
<line x1="54.1" y1="793.1" x2="56.5" y2="793.1" stroke="#555" stroke-width="0.6"/>
<line x1="54.1" y1="787.23" x2="56.5" y2="787.23" stroke="#555" stroke-width="0.6"/>
<line x1="54.1" y1="781.35" x2="56.5" y2="781.35" stroke="#555" stroke-width="0.6"/>
<line x1="54.1" y1="775.48" x2="56.5" y2="775.48" stroke="#555" stroke-width="0.6"/>
<line x1="54.1" y1="769.6" x2="56.5" y2="769.6" stroke="#555" stroke-width="0.6"/>
<line x1="54.1" y1="763.73" x2="56.5" y2="763.73" stroke="#555" stroke-width="0.6"/>
<line x1="54.1" y1="757.85" x2="56.5" y2="757.85" stroke="#555" stroke-width="0.6"/>
<line x1="54.1" y1="751.98" x2="56.5" y2="751.98" stroke="#555" stroke-width="0.6"/>
<line x1="54.1" y1="746.1" x2="56.5" y2="746.1" stroke="#555" stroke-width="0.6"/>
<line x1="54.1" y1="740.23" x2="56.5" y2="740.23" stroke="#555" stroke-width="0.6"/>
<line x1="54.1" y1="734.35" x2="56.5" y2="734.35" stroke="#555" stroke-width="0.6"/>
<text x="51.3" y="866.3" font-size="7.9" text-anchor="end" fill="#222">0</text>
<text x="51.3" y="842.8" font-size="7.9" text-anchor="end" fill="#222">0.5</text>
<text x="51.3" y="819.3" font-size="7.9" text-anchor="end" fill="#222">1</text>
<text x="51.3" y="795.8" font-size="7.9" text-anchor="end" fill="#222">1.5</text>
<text x="51.3" y="772.3" font-size="7.9" text-anchor="end" fill="#222">2</text>
<text x="51.3" y="748.8" font-size="7.9" text-anchor="end" fill="#222">2.5</text>
<line x1="63.62" y1="873.4" x2="63.62" y2="876" stroke="#555" stroke-width="0.6"/>
<line x1="74.96" y1="873.4" x2="74.96" y2="876" stroke="#555" stroke-width="0.6"/>
<line x1="86.3" y1="873.4" x2="86.3" y2="876" stroke="#555" stroke-width="0.6"/>
<line x1="97.64" y1="873.4" x2="97.64" y2="876" stroke="#555" stroke-width="0.6"/>
<line x1="108.97" y1="873.4" x2="108.97" y2="876" stroke="#555" stroke-width="0.6"/>
<line x1="120.31" y1="873.4" x2="120.31" y2="876" stroke="#555" stroke-width="0.6"/>
<line x1="131.65" y1="873.4" x2="131.65" y2="876" stroke="#555" stroke-width="0.6"/>
<line x1="142.99" y1="873.4" x2="142.99" y2="876" stroke="#555" stroke-width="0.6"/>
<line x1="154.32" y1="873.4" x2="154.32" y2="876" stroke="#555" stroke-width="0.6"/>
<line x1="165.66" y1="873.4" x2="165.66" y2="876" stroke="#555" stroke-width="0.6"/>
<line x1="177" y1="873.4" x2="177" y2="876" stroke="#555" stroke-width="0.6"/>
<line x1="188.34" y1="873.4" x2="188.34" y2="876" stroke="#555" stroke-width="0.6"/>
<line x1="199.68" y1="873.4" x2="199.68" y2="876" stroke="#555" stroke-width="0.6"/>
<line x1="211.01" y1="873.4" x2="211.01" y2="876" stroke="#555" stroke-width="0.6"/>
<line x1="222.35" y1="873.4" x2="222.35" y2="876" stroke="#555" stroke-width="0.6"/>
<line x1="233.69" y1="873.4" x2="233.69" y2="876" stroke="#555" stroke-width="0.6"/>
<line x1="245.02" y1="873.4" x2="245.02" y2="876" stroke="#555" stroke-width="0.6"/>
<text x="86.3" y="888" font-size="7.9" text-anchor="middle" fill="#222">100</text>
<text x="131.4" y="888" font-size="7.9" text-anchor="middle" fill="#222">150</text>
<text x="177.8" y="888" font-size="7.9" text-anchor="middle" fill="#222">200</text>
<text x="222.1" y="888" font-size="7.9" text-anchor="middle" fill="#222">250</text>
<text x="155.4" y="897.6" font-size="8" text-anchor="middle" fill="#222">Size (bps)</text>
<text x="0" y="0" font-size="8" text-anchor="middle" fill="#222" transform="translate(35.6,805.1) rotate(-90)">Peak Ratio</text>
<line x1="310" y1="559.3" x2="615.5" y2="559.3" stroke="#222" stroke-width="1.1"/>
<path d="M614.6,556.6 L620.5,559.3 L614.6,562 Z" fill="#111"/>
<line x1="302.9" y1="565" x2="302.9" y2="817.5" stroke="#666" stroke-width="1.3"/>
<path d="M300.2,817 L302.9,822.4 L305.6,817 Z" fill="#111"/>
<rect x="310.4" y="564.9" width="308" height="257.6" fill="#fff" stroke="#c4c4c4" stroke-width="1"/>
<defs><clipPath id="up"><polygon points="407.6,646.8 617.5,646.8 617.5,821.2"/></clipPath><clipPath id="lo"><polygon points="406.6,646.8 406.6,821.7 616.5,821.7"/></clipPath></defs>
<defs><pattern id="pr" patternUnits="userSpaceOnUse" width="2.6" height="2.6"><rect width="2" height="2" fill="#b01818"/></pattern><pattern id="pg" patternUnits="userSpaceOnUse" width="2.6" height="2.6"><rect width="2" height="2" fill="#1f9a2a"/></pattern></defs>
<g clip-path="url(#up)" fill="url(#pr)"><rect x="407.4" y="646.67" width="2.08" height="1.74" fill-opacity="0.49"/><rect x="407.4" y="648.41" width="2.08" height="3.56" fill-opacity="0.45"/><rect x="407.4" y="656.81" width="2.08" height="5.71" fill-opacity="0.65"/><rect x="407.4" y="664.92" width="2.08" height="13.23" fill-opacity="0.69"/><rect x="407.4" y="678.15" width="2.08" height="2.54" fill-opacity="0.32"/><rect x="407.4" y="681.06" width="2.08" height="4.73" fill-opacity="0.65"/><rect x="407.4" y="685.78" width="2.08" height="2.54" fill-opacity="0.41"/><rect x="407.4" y="691.09" width="2.08" height="7.42" fill-opacity="0.41"/><rect x="407.4" y="702.5" width="2.08" height="29.59" fill-opacity="0.73"/><rect x="407.4" y="733.51" width="2.08" height="4.69" fill-opacity="0.49"/><rect x="407.4" y="738.89" width="2.08" height="6.69" fill-opacity="0.45"/><rect x="407.4" y="745.69" width="2.08" height="1.93" fill-opacity="0.16"/><rect x="407.4" y="747.61" width="2.08" height="3.34" fill-opacity="0.41"/><rect x="407.4" y="752.3" width="2.08" height="14.18" fill-opacity="0.69"/><rect x="407.4" y="767.13" width="2.08" height="3.34" fill-opacity="0.45"/><rect x="407.4" y="771.5" width="2.08" height="1.85" fill-opacity="0.24"/><rect x="407.4" y="775.57" width="2.08" height="6.25" fill-opacity="0.57"/><rect x="407.4" y="783.2" width="2.08" height="6.07" fill-opacity="0.61"/><rect x="407.4" y="791.81" width="2.08" height="1.2" fill-opacity="0.2"/><rect x="407.4" y="794.29" width="2.08" height="1.53" fill-opacity="0.28"/><rect x="407.4" y="797.01" width="2.08" height="10.29" fill-opacity="0.69"/><rect x="407.4" y="808.21" width="2.08" height="3.02" fill-opacity="0.57"/><rect x="407.4" y="812.32" width="2.08" height="9.98" fill-opacity="0.69"/><rect x="409.48" y="646.67" width="4.25" height="1.74" fill-opacity="0.45"/><rect x="409.48" y="648.41" width="4.25" height="3.56" fill-opacity="0.41"/><rect x="409.48" y="656.81" width="4.25" height="5.71" fill-opacity="0.59"/><rect x="409.48" y="664.92" width="4.25" height="13.23" fill-opacity="0.63"/><rect x="409.48" y="678.15" width="4.25" height="2.54" fill-opacity="0.3"/><rect x="409.48" y="681.06" width="4.25" height="4.73" fill-opacity="0.59"/><rect x="409.48" y="685.78" width="4.25" height="2.54" fill-opacity="0.37"/><rect x="409.48" y="691.09" width="4.25" height="7.42" fill-opacity="0.37"/><rect x="409.48" y="702.5" width="4.25" height="29.59" fill-opacity="0.67"/><rect x="409.48" y="733.51" width="4.25" height="4.69" fill-opacity="0.45"/><rect x="409.48" y="738.89" width="4.25" height="6.69" fill-opacity="0.41"/><rect x="409.48" y="745.69" width="4.25" height="1.93" fill-opacity="0.15"/><rect x="409.48" y="747.61" width="4.25" height="3.34" fill-opacity="0.37"/><rect x="409.48" y="752.3" width="4.25" height="14.18" fill-opacity="0.63"/><rect x="409.48" y="767.13" width="4.25" height="3.34" fill-opacity="0.41"/><rect x="409.48" y="771.5" width="4.25" height="1.85" fill-opacity="0.22"/><rect x="409.48" y="775.57" width="4.25" height="6.25" fill-opacity="0.52"/><rect x="409.48" y="783.2" width="4.25" height="6.07" fill-opacity="0.56"/><rect x="409.48" y="791.81" width="4.25" height="1.2" fill-opacity="0.19"/><rect x="409.48" y="794.29" width="4.25" height="1.53" fill-opacity="0.26"/><rect x="409.48" y="797.01" width="4.25" height="10.29" fill-opacity="0.63"/><rect x="409.48" y="808.21" width="4.25" height="3.02" fill-opacity="0.52"/><rect x="409.48" y="812.32" width="4.25" height="9.98" fill-opacity="0.63"/><rect x="419.5" y="646.67" width="6.81" height="1.74" fill-opacity="0.65"/><rect x="419.5" y="648.41" width="6.81" height="3.56" fill-opacity="0.59"/><rect x="419.5" y="656.81" width="6.81" height="5.71" fill-opacity="0.86"/><rect x="419.5" y="664.92" width="6.81" height="13.23" fill-opacity="0.92"/><rect x="419.5" y="678.15" width="6.81" height="2.54" fill-opacity="0.43"/><rect x="419.5" y="681.06" width="6.81" height="4.73" fill-opacity="0.86"/><rect x="419.5" y="685.78" width="6.81" height="2.54" fill-opacity="0.54"/><rect x="419.5" y="691.09" width="6.81" height="7.42" fill-opacity="0.54"/><rect x="419.5" y="702.5" width="6.81" height="29.59" fill-opacity="0.97"/><rect x="419.5" y="733.51" width="6.81" height="4.69" fill-opacity="0.65"/><rect x="419.5" y="738.89" width="6.81" height="6.69" fill-opacity="0.59"/><rect x="419.5" y="745.69" width="6.81" height="1.93" fill-opacity="0.22"/><rect x="419.5" y="747.61" width="6.81" height="3.34" fill-opacity="0.54"/><rect x="419.5" y="752.3" width="6.81" height="14.18" fill-opacity="0.92"/><rect x="419.5" y="767.13" width="6.81" height="3.34" fill-opacity="0.59"/><rect x="419.5" y="771.5" width="6.81" height="1.85" fill-opacity="0.32"/><rect x="419.5" y="775.57" width="6.81" height="6.25" fill-opacity="0.76"/><rect x="419.5" y="783.2" width="6.81" height="6.07" fill-opacity="0.81"/><rect x="419.5" y="791.81" width="6.81" height="1.2" fill-opacity="0.27"/><rect x="419.5" y="794.29" width="6.81" height="1.53" fill-opacity="0.38"/><rect x="419.5" y="797.01" width="6.81" height="10.29" fill-opacity="0.92"/><rect x="419.5" y="808.21" width="6.81" height="3.02" fill-opacity="0.76"/><rect x="419.5" y="812.32" width="6.81" height="9.98" fill-opacity="0.92"/><rect x="429.17" y="646.67" width="15.78" height="1.74" fill-opacity="0.69"/><rect x="429.17" y="648.41" width="15.78" height="3.56" fill-opacity="0.63"/><rect x="429.17" y="656.81" width="15.78" height="5.71" fill-opacity="0.92"/><rect x="429.17" y="664.92" width="15.78" height="13.23" fill-opacity="0.98"/><rect x="429.17" y="678.15" width="15.78" height="2.54" fill-opacity="0.46"/><rect x="429.17" y="681.06" width="15.78" height="4.73" fill-opacity="0.92"/><rect x="429.17" y="685.78" width="15.78" height="2.54" fill-opacity="0.57"/><rect x="429.17" y="691.09" width="15.78" height="7.42" fill-opacity="0.57"/><rect x="429.17" y="702.5" width="15.78" height="29.59" fill-opacity="1"/><rect x="429.17" y="733.51" width="15.78" height="4.69" fill-opacity="0.69"/><rect x="429.17" y="738.89" width="15.78" height="6.69" fill-opacity="0.63"/><rect x="429.17" y="745.69" width="15.78" height="1.93" fill-opacity="0.23"/><rect x="429.17" y="747.61" width="15.78" height="3.34" fill-opacity="0.57"/><rect x="429.17" y="752.3" width="15.78" height="14.18" fill-opacity="0.98"/><rect x="429.17" y="767.13" width="15.78" height="3.34" fill-opacity="0.63"/><rect x="429.17" y="771.5" width="15.78" height="1.85" fill-opacity="0.34"/><rect x="429.17" y="775.57" width="15.78" height="6.25" fill-opacity="0.8"/><rect x="429.17" y="783.2" width="15.78" height="6.07" fill-opacity="0.86"/><rect x="429.17" y="791.81" width="15.78" height="1.2" fill-opacity="0.29"/><rect x="429.17" y="794.29" width="15.78" height="1.53" fill-opacity="0.4"/><rect x="429.17" y="797.01" width="15.78" height="10.29" fill-opacity="0.98"/><rect x="429.17" y="808.21" width="15.78" height="3.02" fill-opacity="0.8"/><rect x="429.17" y="812.32" width="15.78" height="9.98" fill-opacity="0.98"/><rect x="444.95" y="646.67" width="3.04" height="1.74" fill-opacity="0.32"/><rect x="444.95" y="648.41" width="3.04" height="3.56" fill-opacity="0.3"/><rect x="444.95" y="656.81" width="3.04" height="5.71" fill-opacity="0.43"/><rect x="444.95" y="664.92" width="3.04" height="13.23" fill-opacity="0.46"/><rect x="444.95" y="678.15" width="3.04" height="2.54" fill-opacity="0.22"/><rect x="444.95" y="681.06" width="3.04" height="4.73" fill-opacity="0.43"/><rect x="444.95" y="685.78" width="3.04" height="2.54" fill-opacity="0.27"/><rect x="444.95" y="691.09" width="3.04" height="7.42" fill-opacity="0.27"/><rect x="444.95" y="702.5" width="3.04" height="29.59" fill-opacity="0.49"/><rect x="444.95" y="733.51" width="3.04" height="4.69" fill-opacity="0.32"/><rect x="444.95" y="738.89" width="3.04" height="6.69" fill-opacity="0.3"/><rect x="444.95" y="745.69" width="3.04" height="1.93" fill-opacity="0.11"/><rect x="444.95" y="747.61" width="3.04" height="3.34" fill-opacity="0.27"/><rect x="444.95" y="752.3" width="3.04" height="14.18" fill-opacity="0.46"/><rect x="444.95" y="767.13" width="3.04" height="3.34" fill-opacity="0.3"/><rect x="444.95" y="771.5" width="3.04" height="1.85" fill-opacity="0.16"/><rect x="444.95" y="775.57" width="3.04" height="6.25" fill-opacity="0.38"/><rect x="444.95" y="783.2" width="3.04" height="6.07" fill-opacity="0.41"/><rect x="444.95" y="791.81" width="3.04" height="1.2" fill-opacity="0.14"/><rect x="444.95" y="794.29" width="3.04" height="1.53" fill-opacity="0.19"/><rect x="444.95" y="797.01" width="3.04" height="10.29" fill-opacity="0.46"/><rect x="444.95" y="808.21" width="3.04" height="3.02" fill-opacity="0.38"/><rect x="444.95" y="812.32" width="3.04" height="9.98" fill-opacity="0.46"/><rect x="448.42" y="646.67" width="5.64" height="1.74" fill-opacity="0.65"/><rect x="448.42" y="648.41" width="5.64" height="3.56" fill-opacity="0.59"/><rect x="448.42" y="656.81" width="5.64" height="5.71" fill-opacity="0.86"/><rect x="448.42" y="664.92" width="5.64" height="13.23" fill-opacity="0.92"/><rect x="448.42" y="678.15" width="5.64" height="2.54" fill-opacity="0.43"/><rect x="448.42" y="681.06" width="5.64" height="4.73" fill-opacity="0.86"/><rect x="448.42" y="685.78" width="5.64" height="2.54" fill-opacity="0.54"/><rect x="448.42" y="691.09" width="5.64" height="7.42" fill-opacity="0.54"/><rect x="448.42" y="702.5" width="5.64" height="29.59" fill-opacity="0.97"/><rect x="448.42" y="733.51" width="5.64" height="4.69" fill-opacity="0.65"/><rect x="448.42" y="738.89" width="5.64" height="6.69" fill-opacity="0.59"/><rect x="448.42" y="745.69" width="5.64" height="1.93" fill-opacity="0.22"/><rect x="448.42" y="747.61" width="5.64" height="3.34" fill-opacity="0.54"/><rect x="448.42" y="752.3" width="5.64" height="14.18" fill-opacity="0.92"/><rect x="448.42" y="767.13" width="5.64" height="3.34" fill-opacity="0.59"/><rect x="448.42" y="771.5" width="5.64" height="1.85" fill-opacity="0.32"/><rect x="448.42" y="775.57" width="5.64" height="6.25" fill-opacity="0.76"/><rect x="448.42" y="783.2" width="5.64" height="6.07" fill-opacity="0.81"/><rect x="448.42" y="791.81" width="5.64" height="1.2" fill-opacity="0.27"/><rect x="448.42" y="794.29" width="5.64" height="1.53" fill-opacity="0.38"/><rect x="448.42" y="797.01" width="5.64" height="10.29" fill-opacity="0.92"/><rect x="448.42" y="808.21" width="5.64" height="3.02" fill-opacity="0.76"/><rect x="448.42" y="812.32" width="5.64" height="9.98" fill-opacity="0.92"/><rect x="454.06" y="646.67" width="3.04" height="1.74" fill-opacity="0.41"/><rect x="454.06" y="648.41" width="3.04" height="3.56" fill-opacity="0.37"/><rect x="454.06" y="656.81" width="3.04" height="5.71" fill-opacity="0.54"/><rect x="454.06" y="664.92" width="3.04" height="13.23" fill-opacity="0.57"/><rect x="454.06" y="678.15" width="3.04" height="2.54" fill-opacity="0.27"/><rect x="454.06" y="681.06" width="3.04" height="4.73" fill-opacity="0.54"/><rect x="454.06" y="685.78" width="3.04" height="2.54" fill-opacity="0.34"/><rect x="454.06" y="691.09" width="3.04" height="7.42" fill-opacity="0.34"/><rect x="454.06" y="702.5" width="3.04" height="29.59" fill-opacity="0.61"/><rect x="454.06" y="733.51" width="3.04" height="4.69" fill-opacity="0.41"/><rect x="454.06" y="738.89" width="3.04" height="6.69" fill-opacity="0.37"/><rect x="454.06" y="745.69" width="3.04" height="1.93" fill-opacity="0.14"/><rect x="454.06" y="747.61" width="3.04" height="3.34" fill-opacity="0.34"/><rect x="454.06" y="752.3" width="3.04" height="14.18" fill-opacity="0.57"/><rect x="454.06" y="767.13" width="3.04" height="3.34" fill-opacity="0.37"/><rect x="454.06" y="771.5" width="3.04" height="1.85" fill-opacity="0.2"/><rect x="454.06" y="775.57" width="3.04" height="6.25" fill-opacity="0.47"/><rect x="454.06" y="783.2" width="3.04" height="6.07" fill-opacity="0.51"/><rect x="454.06" y="791.81" width="3.04" height="1.2" fill-opacity="0.17"/><rect x="454.06" y="794.29" width="3.04" height="1.53" fill-opacity="0.24"/><rect x="454.06" y="797.01" width="3.04" height="10.29" fill-opacity="0.57"/><rect x="454.06" y="808.21" width="3.04" height="3.02" fill-opacity="0.47"/><rect x="454.06" y="812.32" width="3.04" height="9.98" fill-opacity="0.57"/><rect x="460.39" y="646.67" width="8.85" height="1.74" fill-opacity="0.41"/><rect x="460.39" y="648.41" width="8.85" height="3.56" fill-opacity="0.37"/><rect x="460.39" y="656.81" width="8.85" height="5.71" fill-opacity="0.54"/><rect x="460.39" y="664.92" width="8.85" height="13.23" fill-opacity="0.57"/><rect x="460.39" y="678.15" width="8.85" height="2.54" fill-opacity="0.27"/><rect x="460.39" y="681.06" width="8.85" height="4.73" fill-opacity="0.54"/><rect x="460.39" y="685.78" width="8.85" height="2.54" fill-opacity="0.34"/><rect x="460.39" y="691.09" width="8.85" height="7.42" fill-opacity="0.34"/><rect x="460.39" y="702.5" width="8.85" height="29.59" fill-opacity="0.61"/><rect x="460.39" y="733.51" width="8.85" height="4.69" fill-opacity="0.41"/><rect x="460.39" y="738.89" width="8.85" height="6.69" fill-opacity="0.37"/><rect x="460.39" y="745.69" width="8.85" height="1.93" fill-opacity="0.14"/><rect x="460.39" y="747.61" width="8.85" height="3.34" fill-opacity="0.34"/><rect x="460.39" y="752.3" width="8.85" height="14.18" fill-opacity="0.57"/><rect x="460.39" y="767.13" width="8.85" height="3.34" fill-opacity="0.37"/><rect x="460.39" y="771.5" width="8.85" height="1.85" fill-opacity="0.2"/><rect x="460.39" y="775.57" width="8.85" height="6.25" fill-opacity="0.47"/><rect x="460.39" y="783.2" width="8.85" height="6.07" fill-opacity="0.51"/><rect x="460.39" y="791.81" width="8.85" height="1.2" fill-opacity="0.17"/><rect x="460.39" y="794.29" width="8.85" height="1.53" fill-opacity="0.24"/><rect x="460.39" y="797.01" width="8.85" height="10.29" fill-opacity="0.57"/><rect x="460.39" y="808.21" width="8.85" height="3.02" fill-opacity="0.47"/><rect x="460.39" y="812.32" width="8.85" height="9.98" fill-opacity="0.57"/><rect x="474" y="646.67" width="35.3" height="1.74" fill-opacity="0.73"/><rect x="474" y="648.41" width="35.3" height="3.56" fill-opacity="0.67"/><rect x="474" y="656.81" width="35.3" height="5.71" fill-opacity="0.97"/><rect x="474" y="664.92" width="35.3" height="13.23" fill-opacity="1"/><rect x="474" y="678.15" width="35.3" height="2.54" fill-opacity="0.49"/><rect x="474" y="681.06" width="35.3" height="4.73" fill-opacity="0.97"/><rect x="474" y="685.78" width="35.3" height="2.54" fill-opacity="0.61"/><rect x="474" y="691.09" width="35.3" height="7.42" fill-opacity="0.61"/><rect x="474" y="702.5" width="35.3" height="29.59" fill-opacity="1"/><rect x="474" y="733.51" width="35.3" height="4.69" fill-opacity="0.73"/><rect x="474" y="738.89" width="35.3" height="6.69" fill-opacity="0.67"/><rect x="474" y="745.69" width="35.3" height="1.93" fill-opacity="0.24"/><rect x="474" y="747.61" width="35.3" height="3.34" fill-opacity="0.61"/><rect x="474" y="752.3" width="35.3" height="14.18" fill-opacity="1"/><rect x="474" y="767.13" width="35.3" height="3.34" fill-opacity="0.67"/><rect x="474" y="771.5" width="35.3" height="1.85" fill-opacity="0.36"/><rect x="474" y="775.57" width="35.3" height="6.25" fill-opacity="0.85"/><rect x="474" y="783.2" width="35.3" height="6.07" fill-opacity="0.91"/><rect x="474" y="791.81" width="35.3" height="1.2" fill-opacity="0.3"/><rect x="474" y="794.29" width="35.3" height="1.53" fill-opacity="0.43"/><rect x="474" y="797.01" width="35.3" height="10.29" fill-opacity="1"/><rect x="474" y="808.21" width="35.3" height="3.02" fill-opacity="0.85"/><rect x="474" y="812.32" width="35.3" height="9.98" fill-opacity="1"/><rect x="510.99" y="646.67" width="5.59" height="1.74" fill-opacity="0.49"/><rect x="510.99" y="648.41" width="5.59" height="3.56" fill-opacity="0.45"/><rect x="510.99" y="656.81" width="5.59" height="5.71" fill-opacity="0.65"/><rect x="510.99" y="664.92" width="5.59" height="13.23" fill-opacity="0.69"/><rect x="510.99" y="678.15" width="5.59" height="2.54" fill-opacity="0.32"/><rect x="510.99" y="681.06" width="5.59" height="4.73" fill-opacity="0.65"/><rect x="510.99" y="685.78" width="5.59" height="2.54" fill-opacity="0.41"/><rect x="510.99" y="691.09" width="5.59" height="7.42" fill-opacity="0.41"/><rect x="510.99" y="702.5" width="5.59" height="29.59" fill-opacity="0.73"/><rect x="510.99" y="733.51" width="5.59" height="4.69" fill-opacity="0.49"/><rect x="510.99" y="738.89" width="5.59" height="6.69" fill-opacity="0.45"/><rect x="510.99" y="745.69" width="5.59" height="1.93" fill-opacity="0.16"/><rect x="510.99" y="747.61" width="5.59" height="3.34" fill-opacity="0.41"/><rect x="510.99" y="752.3" width="5.59" height="14.18" fill-opacity="0.69"/><rect x="510.99" y="767.13" width="5.59" height="3.34" fill-opacity="0.45"/><rect x="510.99" y="771.5" width="5.59" height="1.85" fill-opacity="0.24"/><rect x="510.99" y="775.57" width="5.59" height="6.25" fill-opacity="0.57"/><rect x="510.99" y="783.2" width="5.59" height="6.07" fill-opacity="0.61"/><rect x="510.99" y="791.81" width="5.59" height="1.2" fill-opacity="0.2"/><rect x="510.99" y="794.29" width="5.59" height="1.53" fill-opacity="0.28"/><rect x="510.99" y="797.01" width="5.59" height="10.29" fill-opacity="0.69"/><rect x="510.99" y="808.21" width="5.59" height="3.02" fill-opacity="0.57"/><rect x="510.99" y="812.32" width="5.59" height="9.98" fill-opacity="0.69"/><rect x="517.4" y="646.67" width="7.98" height="1.74" fill-opacity="0.45"/><rect x="517.4" y="648.41" width="7.98" height="3.56" fill-opacity="0.41"/><rect x="517.4" y="656.81" width="7.98" height="5.71" fill-opacity="0.59"/><rect x="517.4" y="664.92" width="7.98" height="13.23" fill-opacity="0.63"/><rect x="517.4" y="678.15" width="7.98" height="2.54" fill-opacity="0.3"/><rect x="517.4" y="681.06" width="7.98" height="4.73" fill-opacity="0.59"/><rect x="517.4" y="685.78" width="7.98" height="2.54" fill-opacity="0.37"/><rect x="517.4" y="691.09" width="7.98" height="7.42" fill-opacity="0.37"/><rect x="517.4" y="702.5" width="7.98" height="29.59" fill-opacity="0.67"/><rect x="517.4" y="733.51" width="7.98" height="4.69" fill-opacity="0.45"/><rect x="517.4" y="738.89" width="7.98" height="6.69" fill-opacity="0.41"/><rect x="517.4" y="745.69" width="7.98" height="1.93" fill-opacity="0.15"/><rect x="517.4" y="747.61" width="7.98" height="3.34" fill-opacity="0.37"/><rect x="517.4" y="752.3" width="7.98" height="14.18" fill-opacity="0.63"/><rect x="517.4" y="767.13" width="7.98" height="3.34" fill-opacity="0.41"/><rect x="517.4" y="771.5" width="7.98" height="1.85" fill-opacity="0.22"/><rect x="517.4" y="775.57" width="7.98" height="6.25" fill-opacity="0.52"/><rect x="517.4" y="783.2" width="7.98" height="6.07" fill-opacity="0.56"/><rect x="517.4" y="791.81" width="7.98" height="1.2" fill-opacity="0.19"/><rect x="517.4" y="794.29" width="7.98" height="1.53" fill-opacity="0.26"/><rect x="517.4" y="797.01" width="7.98" height="10.29" fill-opacity="0.63"/><rect x="517.4" y="808.21" width="7.98" height="3.02" fill-opacity="0.52"/><rect x="517.4" y="812.32" width="7.98" height="9.98" fill-opacity="0.63"/><rect x="525.51" y="646.67" width="2.3" height="1.74" fill-opacity="0.16"/><rect x="525.51" y="648.41" width="2.3" height="3.56" fill-opacity="0.15"/><rect x="525.51" y="656.81" width="2.3" height="5.71" fill-opacity="0.22"/><rect x="525.51" y="664.92" width="2.3" height="13.23" fill-opacity="0.23"/><rect x="525.51" y="678.15" width="2.3" height="2.54" fill-opacity="0.11"/><rect x="525.51" y="681.06" width="2.3" height="4.73" fill-opacity="0.22"/><rect x="525.51" y="685.78" width="2.3" height="2.54" fill-opacity="0.14"/><rect x="525.51" y="691.09" width="2.3" height="7.42" fill-opacity="0.14"/><rect x="525.51" y="702.5" width="2.3" height="29.59" fill-opacity="0.24"/><rect x="525.51" y="733.51" width="2.3" height="4.69" fill-opacity="0.16"/><rect x="525.51" y="738.89" width="2.3" height="6.69" fill-opacity="0.15"/><rect x="525.51" y="745.69" width="2.3" height="1.93" fill-opacity="0.05"/><rect x="525.51" y="747.61" width="2.3" height="3.34" fill-opacity="0.14"/><rect x="525.51" y="752.3" width="2.3" height="14.18" fill-opacity="0.23"/><rect x="525.51" y="767.13" width="2.3" height="3.34" fill-opacity="0.15"/><rect x="525.51" y="771.5" width="2.3" height="1.85" fill-opacity="0.08"/><rect x="525.51" y="775.57" width="2.3" height="6.25" fill-opacity="0.19"/><rect x="525.51" y="783.2" width="2.3" height="6.07" fill-opacity="0.2"/><rect x="525.51" y="791.81" width="2.3" height="1.2" fill-opacity="0.07"/><rect x="525.51" y="794.29" width="2.3" height="1.53" fill-opacity="0.09"/><rect x="525.51" y="797.01" width="2.3" height="10.29" fill-opacity="0.23"/><rect x="525.51" y="808.21" width="2.3" height="3.02" fill-opacity="0.19"/><rect x="525.51" y="812.32" width="2.3" height="9.98" fill-opacity="0.23"/><rect x="527.81" y="646.67" width="3.99" height="1.74" fill-opacity="0.41"/><rect x="527.81" y="648.41" width="3.99" height="3.56" fill-opacity="0.37"/><rect x="527.81" y="656.81" width="3.99" height="5.71" fill-opacity="0.54"/><rect x="527.81" y="664.92" width="3.99" height="13.23" fill-opacity="0.57"/><rect x="527.81" y="678.15" width="3.99" height="2.54" fill-opacity="0.27"/><rect x="527.81" y="681.06" width="3.99" height="4.73" fill-opacity="0.54"/><rect x="527.81" y="685.78" width="3.99" height="2.54" fill-opacity="0.34"/><rect x="527.81" y="691.09" width="3.99" height="7.42" fill-opacity="0.34"/><rect x="527.81" y="702.5" width="3.99" height="29.59" fill-opacity="0.61"/><rect x="527.81" y="733.51" width="3.99" height="4.69" fill-opacity="0.41"/><rect x="527.81" y="738.89" width="3.99" height="6.69" fill-opacity="0.37"/><rect x="527.81" y="745.69" width="3.99" height="1.93" fill-opacity="0.14"/><rect x="527.81" y="747.61" width="3.99" height="3.34" fill-opacity="0.34"/><rect x="527.81" y="752.3" width="3.99" height="14.18" fill-opacity="0.57"/><rect x="527.81" y="767.13" width="3.99" height="3.34" fill-opacity="0.37"/><rect x="527.81" y="771.5" width="3.99" height="1.85" fill-opacity="0.2"/><rect x="527.81" y="775.57" width="3.99" height="6.25" fill-opacity="0.47"/><rect x="527.81" y="783.2" width="3.99" height="6.07" fill-opacity="0.51"/><rect x="527.81" y="791.81" width="3.99" height="1.2" fill-opacity="0.17"/><rect x="527.81" y="794.29" width="3.99" height="1.53" fill-opacity="0.24"/><rect x="527.81" y="797.01" width="3.99" height="10.29" fill-opacity="0.57"/><rect x="527.81" y="808.21" width="3.99" height="3.02" fill-opacity="0.47"/><rect x="527.81" y="812.32" width="3.99" height="9.98" fill-opacity="0.57"/><rect x="533.4" y="646.67" width="16.91" height="1.74" fill-opacity="0.69"/><rect x="533.4" y="648.41" width="16.91" height="3.56" fill-opacity="0.63"/><rect x="533.4" y="656.81" width="16.91" height="5.71" fill-opacity="0.92"/><rect x="533.4" y="664.92" width="16.91" height="13.23" fill-opacity="0.98"/><rect x="533.4" y="678.15" width="16.91" height="2.54" fill-opacity="0.46"/><rect x="533.4" y="681.06" width="16.91" height="4.73" fill-opacity="0.92"/><rect x="533.4" y="685.78" width="16.91" height="2.54" fill-opacity="0.57"/><rect x="533.4" y="691.09" width="16.91" height="7.42" fill-opacity="0.57"/><rect x="533.4" y="702.5" width="16.91" height="29.59" fill-opacity="1"/><rect x="533.4" y="733.51" width="16.91" height="4.69" fill-opacity="0.69"/><rect x="533.4" y="738.89" width="16.91" height="6.69" fill-opacity="0.63"/><rect x="533.4" y="745.69" width="16.91" height="1.93" fill-opacity="0.23"/><rect x="533.4" y="747.61" width="16.91" height="3.34" fill-opacity="0.57"/><rect x="533.4" y="752.3" width="16.91" height="14.18" fill-opacity="0.98"/><rect x="533.4" y="767.13" width="16.91" height="3.34" fill-opacity="0.63"/><rect x="533.4" y="771.5" width="16.91" height="1.85" fill-opacity="0.34"/><rect x="533.4" y="775.57" width="16.91" height="6.25" fill-opacity="0.8"/><rect x="533.4" y="783.2" width="16.91" height="6.07" fill-opacity="0.86"/><rect x="533.4" y="791.81" width="16.91" height="1.2" fill-opacity="0.29"/><rect x="533.4" y="794.29" width="16.91" height="1.53" fill-opacity="0.4"/><rect x="533.4" y="797.01" width="16.91" height="10.29" fill-opacity="0.98"/><rect x="533.4" y="808.21" width="16.91" height="3.02" fill-opacity="0.8"/><rect x="533.4" y="812.32" width="16.91" height="9.98" fill-opacity="0.98"/><rect x="551.09" y="646.67" width="3.99" height="1.74" fill-opacity="0.45"/><rect x="551.09" y="648.41" width="3.99" height="3.56" fill-opacity="0.41"/><rect x="551.09" y="656.81" width="3.99" height="5.71" fill-opacity="0.59"/><rect x="551.09" y="664.92" width="3.99" height="13.23" fill-opacity="0.63"/><rect x="551.09" y="678.15" width="3.99" height="2.54" fill-opacity="0.3"/><rect x="551.09" y="681.06" width="3.99" height="4.73" fill-opacity="0.59"/><rect x="551.09" y="685.78" width="3.99" height="2.54" fill-opacity="0.37"/><rect x="551.09" y="691.09" width="3.99" height="7.42" fill-opacity="0.37"/><rect x="551.09" y="702.5" width="3.99" height="29.59" fill-opacity="0.67"/><rect x="551.09" y="733.51" width="3.99" height="4.69" fill-opacity="0.45"/><rect x="551.09" y="738.89" width="3.99" height="6.69" fill-opacity="0.41"/><rect x="551.09" y="745.69" width="3.99" height="1.93" fill-opacity="0.15"/><rect x="551.09" y="747.61" width="3.99" height="3.34" fill-opacity="0.37"/><rect x="551.09" y="752.3" width="3.99" height="14.18" fill-opacity="0.63"/><rect x="551.09" y="767.13" width="3.99" height="3.34" fill-opacity="0.41"/><rect x="551.09" y="771.5" width="3.99" height="1.85" fill-opacity="0.22"/><rect x="551.09" y="775.57" width="3.99" height="6.25" fill-opacity="0.52"/><rect x="551.09" y="783.2" width="3.99" height="6.07" fill-opacity="0.56"/><rect x="551.09" y="791.81" width="3.99" height="1.2" fill-opacity="0.19"/><rect x="551.09" y="794.29" width="3.99" height="1.53" fill-opacity="0.26"/><rect x="551.09" y="797.01" width="3.99" height="10.29" fill-opacity="0.63"/><rect x="551.09" y="808.21" width="3.99" height="3.02" fill-opacity="0.52"/><rect x="551.09" y="812.32" width="3.99" height="9.98" fill-opacity="0.63"/><rect x="556.3" y="646.67" width="2.21" height="1.74" fill-opacity="0.24"/><rect x="556.3" y="648.41" width="2.21" height="3.56" fill-opacity="0.22"/><rect x="556.3" y="656.81" width="2.21" height="5.71" fill-opacity="0.32"/><rect x="556.3" y="664.92" width="2.21" height="13.23" fill-opacity="0.34"/><rect x="556.3" y="678.15" width="2.21" height="2.54" fill-opacity="0.16"/><rect x="556.3" y="681.06" width="2.21" height="4.73" fill-opacity="0.32"/><rect x="556.3" y="685.78" width="2.21" height="2.54" fill-opacity="0.2"/><rect x="556.3" y="691.09" width="2.21" height="7.42" fill-opacity="0.2"/><rect x="556.3" y="702.5" width="2.21" height="29.59" fill-opacity="0.36"/><rect x="556.3" y="733.51" width="2.21" height="4.69" fill-opacity="0.24"/><rect x="556.3" y="738.89" width="2.21" height="6.69" fill-opacity="0.22"/><rect x="556.3" y="745.69" width="2.21" height="1.93" fill-opacity="0.08"/><rect x="556.3" y="747.61" width="2.21" height="3.34" fill-opacity="0.2"/><rect x="556.3" y="752.3" width="2.21" height="14.18" fill-opacity="0.34"/><rect x="556.3" y="767.13" width="2.21" height="3.34" fill-opacity="0.22"/><rect x="556.3" y="771.5" width="2.21" height="1.85" fill-opacity="0.12"/><rect x="556.3" y="775.57" width="2.21" height="6.25" fill-opacity="0.28"/><rect x="556.3" y="783.2" width="2.21" height="6.07" fill-opacity="0.3"/><rect x="556.3" y="791.81" width="2.21" height="1.2" fill-opacity="0.1"/><rect x="556.3" y="794.29" width="2.21" height="1.53" fill-opacity="0.14"/><rect x="556.3" y="797.01" width="2.21" height="10.29" fill-opacity="0.34"/><rect x="556.3" y="808.21" width="2.21" height="3.02" fill-opacity="0.28"/><rect x="556.3" y="812.32" width="2.21" height="9.98" fill-opacity="0.34"/><rect x="561.15" y="646.67" width="7.46" height="1.74" fill-opacity="0.57"/><rect x="561.15" y="648.41" width="7.46" height="3.56" fill-opacity="0.52"/><rect x="561.15" y="656.81" width="7.46" height="5.71" fill-opacity="0.76"/><rect x="561.15" y="664.92" width="7.46" height="13.23" fill-opacity="0.8"/><rect x="561.15" y="678.15" width="7.46" height="2.54" fill-opacity="0.38"/><rect x="561.15" y="681.06" width="7.46" height="4.73" fill-opacity="0.76"/><rect x="561.15" y="685.78" width="7.46" height="2.54" fill-opacity="0.47"/><rect x="561.15" y="691.09" width="7.46" height="7.42" fill-opacity="0.47"/><rect x="561.15" y="702.5" width="7.46" height="29.59" fill-opacity="0.85"/><rect x="561.15" y="733.51" width="7.46" height="4.69" fill-opacity="0.57"/><rect x="561.15" y="738.89" width="7.46" height="6.69" fill-opacity="0.52"/><rect x="561.15" y="745.69" width="7.46" height="1.93" fill-opacity="0.19"/><rect x="561.15" y="747.61" width="7.46" height="3.34" fill-opacity="0.47"/><rect x="561.15" y="752.3" width="7.46" height="14.18" fill-opacity="0.8"/><rect x="561.15" y="767.13" width="7.46" height="3.34" fill-opacity="0.52"/><rect x="561.15" y="771.5" width="7.46" height="1.85" fill-opacity="0.28"/><rect x="561.15" y="775.57" width="7.46" height="6.25" fill-opacity="0.66"/><rect x="561.15" y="783.2" width="7.46" height="6.07" fill-opacity="0.71"/><rect x="561.15" y="791.81" width="7.46" height="1.2" fill-opacity="0.24"/><rect x="561.15" y="794.29" width="7.46" height="1.53" fill-opacity="0.33"/><rect x="561.15" y="797.01" width="7.46" height="10.29" fill-opacity="0.8"/><rect x="561.15" y="808.21" width="7.46" height="3.02" fill-opacity="0.66"/><rect x="561.15" y="812.32" width="7.46" height="9.98" fill-opacity="0.8"/><rect x="570.26" y="646.67" width="7.24" height="1.74" fill-opacity="0.61"/><rect x="570.26" y="648.41" width="7.24" height="3.56" fill-opacity="0.56"/><rect x="570.26" y="656.81" width="7.24" height="5.71" fill-opacity="0.81"/><rect x="570.26" y="664.92" width="7.24" height="13.23" fill-opacity="0.86"/><rect x="570.26" y="678.15" width="7.24" height="2.54" fill-opacity="0.41"/><rect x="570.26" y="681.06" width="7.24" height="4.73" fill-opacity="0.81"/><rect x="570.26" y="685.78" width="7.24" height="2.54" fill-opacity="0.51"/><rect x="570.26" y="691.09" width="7.24" height="7.42" fill-opacity="0.51"/><rect x="570.26" y="702.5" width="7.24" height="29.59" fill-opacity="0.91"/><rect x="570.26" y="733.51" width="7.24" height="4.69" fill-opacity="0.61"/><rect x="570.26" y="738.89" width="7.24" height="6.69" fill-opacity="0.56"/><rect x="570.26" y="745.69" width="7.24" height="1.93" fill-opacity="0.2"/><rect x="570.26" y="747.61" width="7.24" height="3.34" fill-opacity="0.51"/><rect x="570.26" y="752.3" width="7.24" height="14.18" fill-opacity="0.86"/><rect x="570.26" y="767.13" width="7.24" height="3.34" fill-opacity="0.56"/><rect x="570.26" y="771.5" width="7.24" height="1.85" fill-opacity="0.3"/><rect x="570.26" y="775.57" width="7.24" height="6.25" fill-opacity="0.71"/><rect x="570.26" y="783.2" width="7.24" height="6.07" fill-opacity="0.76"/><rect x="570.26" y="791.81" width="7.24" height="1.2" fill-opacity="0.25"/><rect x="570.26" y="794.29" width="7.24" height="1.53" fill-opacity="0.35"/><rect x="570.26" y="797.01" width="7.24" height="10.29" fill-opacity="0.86"/><rect x="570.26" y="808.21" width="7.24" height="3.02" fill-opacity="0.71"/><rect x="570.26" y="812.32" width="7.24" height="9.98" fill-opacity="0.86"/><rect x="580.54" y="646.67" width="1.43" height="1.74" fill-opacity="0.2"/><rect x="580.54" y="648.41" width="1.43" height="3.56" fill-opacity="0.19"/><rect x="580.54" y="656.81" width="1.43" height="5.71" fill-opacity="0.27"/><rect x="580.54" y="664.92" width="1.43" height="13.23" fill-opacity="0.29"/><rect x="580.54" y="678.15" width="1.43" height="2.54" fill-opacity="0.14"/><rect x="580.54" y="681.06" width="1.43" height="4.73" fill-opacity="0.27"/><rect x="580.54" y="685.78" width="1.43" height="2.54" fill-opacity="0.17"/><rect x="580.54" y="691.09" width="1.43" height="7.42" fill-opacity="0.17"/><rect x="580.54" y="702.5" width="1.43" height="29.59" fill-opacity="0.3"/><rect x="580.54" y="733.51" width="1.43" height="4.69" fill-opacity="0.2"/><rect x="580.54" y="738.89" width="1.43" height="6.69" fill-opacity="0.19"/><rect x="580.54" y="745.69" width="1.43" height="1.93" fill-opacity="0.07"/><rect x="580.54" y="747.61" width="1.43" height="3.34" fill-opacity="0.17"/><rect x="580.54" y="752.3" width="1.43" height="14.18" fill-opacity="0.29"/><rect x="580.54" y="767.13" width="1.43" height="3.34" fill-opacity="0.19"/><rect x="580.54" y="771.5" width="1.43" height="1.85" fill-opacity="0.1"/><rect x="580.54" y="775.57" width="1.43" height="6.25" fill-opacity="0.24"/><rect x="580.54" y="783.2" width="1.43" height="6.07" fill-opacity="0.25"/><rect x="580.54" y="791.81" width="1.43" height="1.2" fill-opacity="0.08"/><rect x="580.54" y="794.29" width="1.43" height="1.53" fill-opacity="0.12"/><rect x="580.54" y="797.01" width="1.43" height="10.29" fill-opacity="0.29"/><rect x="580.54" y="808.21" width="1.43" height="3.02" fill-opacity="0.24"/><rect x="580.54" y="812.32" width="1.43" height="9.98" fill-opacity="0.29"/><rect x="583.48" y="646.67" width="1.82" height="1.74" fill-opacity="0.28"/><rect x="583.48" y="648.41" width="1.82" height="3.56" fill-opacity="0.26"/><rect x="583.48" y="656.81" width="1.82" height="5.71" fill-opacity="0.38"/><rect x="583.48" y="664.92" width="1.82" height="13.23" fill-opacity="0.4"/><rect x="583.48" y="678.15" width="1.82" height="2.54" fill-opacity="0.19"/><rect x="583.48" y="681.06" width="1.82" height="4.73" fill-opacity="0.38"/><rect x="583.48" y="685.78" width="1.82" height="2.54" fill-opacity="0.24"/><rect x="583.48" y="691.09" width="1.82" height="7.42" fill-opacity="0.24"/><rect x="583.48" y="702.5" width="1.82" height="29.59" fill-opacity="0.43"/><rect x="583.48" y="733.51" width="1.82" height="4.69" fill-opacity="0.28"/><rect x="583.48" y="738.89" width="1.82" height="6.69" fill-opacity="0.26"/><rect x="583.48" y="745.69" width="1.82" height="1.93" fill-opacity="0.09"/><rect x="583.48" y="747.61" width="1.82" height="3.34" fill-opacity="0.24"/><rect x="583.48" y="752.3" width="1.82" height="14.18" fill-opacity="0.4"/><rect x="583.48" y="767.13" width="1.82" height="3.34" fill-opacity="0.26"/><rect x="583.48" y="771.5" width="1.82" height="1.85" fill-opacity="0.14"/><rect x="583.48" y="775.57" width="1.82" height="6.25" fill-opacity="0.33"/><rect x="583.48" y="783.2" width="1.82" height="6.07" fill-opacity="0.35"/><rect x="583.48" y="791.81" width="1.82" height="1.2" fill-opacity="0.12"/><rect x="583.48" y="794.29" width="1.82" height="1.53" fill-opacity="0.17"/><rect x="583.48" y="797.01" width="1.82" height="10.29" fill-opacity="0.4"/><rect x="583.48" y="808.21" width="1.82" height="3.02" fill-opacity="0.33"/><rect x="583.48" y="812.32" width="1.82" height="9.98" fill-opacity="0.4"/><rect x="586.74" y="646.67" width="12.27" height="1.74" fill-opacity="0.69"/><rect x="586.74" y="648.41" width="12.27" height="3.56" fill-opacity="0.63"/><rect x="586.74" y="656.81" width="12.27" height="5.71" fill-opacity="0.92"/><rect x="586.74" y="664.92" width="12.27" height="13.23" fill-opacity="0.98"/><rect x="586.74" y="678.15" width="12.27" height="2.54" fill-opacity="0.46"/><rect x="586.74" y="681.06" width="12.27" height="4.73" fill-opacity="0.92"/><rect x="586.74" y="685.78" width="12.27" height="2.54" fill-opacity="0.57"/><rect x="586.74" y="691.09" width="12.27" height="7.42" fill-opacity="0.57"/><rect x="586.74" y="702.5" width="12.27" height="29.59" fill-opacity="1"/><rect x="586.74" y="733.51" width="12.27" height="4.69" fill-opacity="0.69"/><rect x="586.74" y="738.89" width="12.27" height="6.69" fill-opacity="0.63"/><rect x="586.74" y="745.69" width="12.27" height="1.93" fill-opacity="0.23"/><rect x="586.74" y="747.61" width="12.27" height="3.34" fill-opacity="0.57"/><rect x="586.74" y="752.3" width="12.27" height="14.18" fill-opacity="0.98"/><rect x="586.74" y="767.13" width="12.27" height="3.34" fill-opacity="0.63"/><rect x="586.74" y="771.5" width="12.27" height="1.85" fill-opacity="0.34"/><rect x="586.74" y="775.57" width="12.27" height="6.25" fill-opacity="0.8"/><rect x="586.74" y="783.2" width="12.27" height="6.07" fill-opacity="0.86"/><rect x="586.74" y="791.81" width="12.27" height="1.2" fill-opacity="0.29"/><rect x="586.74" y="794.29" width="12.27" height="1.53" fill-opacity="0.4"/><rect x="586.74" y="797.01" width="12.27" height="10.29" fill-opacity="0.98"/><rect x="586.74" y="808.21" width="12.27" height="3.02" fill-opacity="0.8"/><rect x="586.74" y="812.32" width="12.27" height="9.98" fill-opacity="0.98"/><rect x="600.09" y="646.67" width="3.6" height="1.74" fill-opacity="0.57"/><rect x="600.09" y="648.41" width="3.6" height="3.56" fill-opacity="0.52"/><rect x="600.09" y="656.81" width="3.6" height="5.71" fill-opacity="0.76"/><rect x="600.09" y="664.92" width="3.6" height="13.23" fill-opacity="0.8"/><rect x="600.09" y="678.15" width="3.6" height="2.54" fill-opacity="0.38"/><rect x="600.09" y="681.06" width="3.6" height="4.73" fill-opacity="0.76"/><rect x="600.09" y="685.78" width="3.6" height="2.54" fill-opacity="0.47"/><rect x="600.09" y="691.09" width="3.6" height="7.42" fill-opacity="0.47"/><rect x="600.09" y="702.5" width="3.6" height="29.59" fill-opacity="0.85"/><rect x="600.09" y="733.51" width="3.6" height="4.69" fill-opacity="0.57"/><rect x="600.09" y="738.89" width="3.6" height="6.69" fill-opacity="0.52"/><rect x="600.09" y="745.69" width="3.6" height="1.93" fill-opacity="0.19"/><rect x="600.09" y="747.61" width="3.6" height="3.34" fill-opacity="0.47"/><rect x="600.09" y="752.3" width="3.6" height="14.18" fill-opacity="0.8"/><rect x="600.09" y="767.13" width="3.6" height="3.34" fill-opacity="0.52"/><rect x="600.09" y="771.5" width="3.6" height="1.85" fill-opacity="0.28"/><rect x="600.09" y="775.57" width="3.6" height="6.25" fill-opacity="0.66"/><rect x="600.09" y="783.2" width="3.6" height="6.07" fill-opacity="0.71"/><rect x="600.09" y="791.81" width="3.6" height="1.2" fill-opacity="0.24"/><rect x="600.09" y="794.29" width="3.6" height="1.53" fill-opacity="0.33"/><rect x="600.09" y="797.01" width="3.6" height="10.29" fill-opacity="0.8"/><rect x="600.09" y="808.21" width="3.6" height="3.02" fill-opacity="0.66"/><rect x="600.09" y="812.32" width="3.6" height="9.98" fill-opacity="0.8"/><rect x="604.99" y="646.67" width="13.4" height="1.74" fill-opacity="0.69"/><rect x="604.99" y="648.41" width="13.4" height="3.56" fill-opacity="0.63"/><rect x="604.99" y="656.81" width="13.4" height="5.71" fill-opacity="0.92"/><rect x="604.99" y="664.92" width="13.4" height="13.23" fill-opacity="0.98"/><rect x="604.99" y="678.15" width="13.4" height="2.54" fill-opacity="0.46"/><rect x="604.99" y="681.06" width="13.4" height="4.73" fill-opacity="0.92"/><rect x="604.99" y="685.78" width="13.4" height="2.54" fill-opacity="0.57"/><rect x="604.99" y="691.09" width="13.4" height="7.42" fill-opacity="0.57"/><rect x="604.99" y="702.5" width="13.4" height="29.59" fill-opacity="1"/><rect x="604.99" y="733.51" width="13.4" height="4.69" fill-opacity="0.69"/><rect x="604.99" y="738.89" width="13.4" height="6.69" fill-opacity="0.63"/><rect x="604.99" y="745.69" width="13.4" height="1.93" fill-opacity="0.23"/><rect x="604.99" y="747.61" width="13.4" height="3.34" fill-opacity="0.57"/><rect x="604.99" y="752.3" width="13.4" height="14.18" fill-opacity="0.98"/><rect x="604.99" y="767.13" width="13.4" height="3.34" fill-opacity="0.63"/><rect x="604.99" y="771.5" width="13.4" height="1.85" fill-opacity="0.34"/><rect x="604.99" y="775.57" width="13.4" height="6.25" fill-opacity="0.8"/><rect x="604.99" y="783.2" width="13.4" height="6.07" fill-opacity="0.86"/><rect x="604.99" y="791.81" width="13.4" height="1.2" fill-opacity="0.29"/><rect x="604.99" y="794.29" width="13.4" height="1.53" fill-opacity="0.4"/><rect x="604.99" y="797.01" width="13.4" height="10.29" fill-opacity="0.98"/><rect x="604.99" y="808.21" width="13.4" height="3.02" fill-opacity="0.8"/><rect x="604.99" y="812.32" width="13.4" height="9.98" fill-opacity="0.98"/></g>
<g clip-path="url(#up)" fill="#b01818"><rect x="407.4" y="646.67" width="2.08" height="1.74" fill-opacity="0.2"/><rect x="409.48" y="648.41" width="4.25" height="3.56" fill-opacity="0.17"/><rect x="419.5" y="656.81" width="6.81" height="5.71" fill-opacity="0.35"/><rect x="429.17" y="664.92" width="15.78" height="13.23" fill-opacity="0.4"/><rect x="448.42" y="681.06" width="5.64" height="4.73" fill-opacity="0.35"/><rect x="454.06" y="685.78" width="3.04" height="2.54" fill-opacity="0.14"/><rect x="460.39" y="691.09" width="8.85" height="7.42" fill-opacity="0.14"/><rect x="474" y="702.5" width="35.3" height="29.59" fill-opacity="0.45"/><rect x="510.99" y="733.51" width="5.59" height="4.69" fill-opacity="0.2"/><rect x="517.4" y="738.89" width="7.98" height="6.69" fill-opacity="0.17"/><rect x="527.81" y="747.61" width="3.99" height="3.34" fill-opacity="0.14"/><rect x="533.4" y="752.3" width="16.91" height="14.18" fill-opacity="0.4"/><rect x="551.09" y="767.13" width="3.99" height="3.34" fill-opacity="0.17"/><rect x="561.15" y="775.57" width="7.46" height="6.25" fill-opacity="0.27"/><rect x="570.26" y="783.2" width="7.24" height="6.07" fill-opacity="0.31"/><rect x="586.74" y="797.01" width="12.27" height="10.29" fill-opacity="0.4"/><rect x="600.09" y="808.21" width="3.6" height="3.02" fill-opacity="0.27"/><rect x="604.99" y="812.32" width="13.4" height="9.98" fill-opacity="0.4"/></g>
<g clip-path="url(#lo)" fill="url(#pg)"><rect x="407.4" y="646.67" width="2.08" height="1.74" fill-opacity="0.41"/><rect x="407.4" y="648.41" width="2.08" height="3.56" fill-opacity="0.38"/><rect x="407.4" y="656.81" width="2.08" height="5.71" fill-opacity="0.55"/><rect x="407.4" y="664.92" width="2.08" height="13.23" fill-opacity="0.59"/><rect x="407.4" y="678.15" width="2.08" height="2.54" fill-opacity="0.28"/><rect x="407.4" y="681.06" width="2.08" height="4.73" fill-opacity="0.55"/><rect x="407.4" y="685.78" width="2.08" height="2.54" fill-opacity="0.34"/><rect x="407.4" y="691.09" width="2.08" height="7.42" fill-opacity="0.34"/><rect x="407.4" y="702.5" width="2.08" height="29.59" fill-opacity="0.62"/><rect x="407.4" y="733.51" width="2.08" height="4.69" fill-opacity="0.41"/><rect x="407.4" y="738.89" width="2.08" height="6.69" fill-opacity="0.38"/><rect x="407.4" y="745.69" width="2.08" height="1.93" fill-opacity="0.14"/><rect x="407.4" y="747.61" width="2.08" height="3.34" fill-opacity="0.34"/><rect x="407.4" y="752.3" width="2.08" height="14.18" fill-opacity="0.59"/><rect x="407.4" y="767.13" width="2.08" height="3.34" fill-opacity="0.38"/><rect x="407.4" y="771.5" width="2.08" height="1.85" fill-opacity="0.21"/><rect x="407.4" y="775.57" width="2.08" height="6.25" fill-opacity="0.48"/><rect x="407.4" y="783.2" width="2.08" height="6.07" fill-opacity="0.52"/><rect x="407.4" y="791.81" width="2.08" height="1.2" fill-opacity="0.17"/><rect x="407.4" y="794.29" width="2.08" height="1.53" fill-opacity="0.24"/><rect x="407.4" y="797.01" width="2.08" height="10.29" fill-opacity="0.59"/><rect x="407.4" y="808.21" width="2.08" height="3.02" fill-opacity="0.48"/><rect x="407.4" y="812.32" width="2.08" height="9.98" fill-opacity="0.59"/><rect x="409.48" y="646.67" width="4.25" height="1.74" fill-opacity="0.38"/><rect x="409.48" y="648.41" width="4.25" height="3.56" fill-opacity="0.35"/><rect x="409.48" y="656.81" width="4.25" height="5.71" fill-opacity="0.51"/><rect x="409.48" y="664.92" width="4.25" height="13.23" fill-opacity="0.54"/><rect x="409.48" y="678.15" width="4.25" height="2.54" fill-opacity="0.25"/><rect x="409.48" y="681.06" width="4.25" height="4.73" fill-opacity="0.51"/><rect x="409.48" y="685.78" width="4.25" height="2.54" fill-opacity="0.32"/><rect x="409.48" y="691.09" width="4.25" height="7.42" fill-opacity="0.32"/><rect x="409.48" y="702.5" width="4.25" height="29.59" fill-opacity="0.57"/><rect x="409.48" y="733.51" width="4.25" height="4.69" fill-opacity="0.38"/><rect x="409.48" y="738.89" width="4.25" height="6.69" fill-opacity="0.35"/><rect x="409.48" y="745.69" width="4.25" height="1.93" fill-opacity="0.13"/><rect x="409.48" y="747.61" width="4.25" height="3.34" fill-opacity="0.32"/><rect x="409.48" y="752.3" width="4.25" height="14.18" fill-opacity="0.54"/><rect x="409.48" y="767.13" width="4.25" height="3.34" fill-opacity="0.35"/><rect x="409.48" y="771.5" width="4.25" height="1.85" fill-opacity="0.19"/><rect x="409.48" y="775.57" width="4.25" height="6.25" fill-opacity="0.44"/><rect x="409.48" y="783.2" width="4.25" height="6.07" fill-opacity="0.47"/><rect x="409.48" y="791.81" width="4.25" height="1.2" fill-opacity="0.16"/><rect x="409.48" y="794.29" width="4.25" height="1.53" fill-opacity="0.22"/><rect x="409.48" y="797.01" width="4.25" height="10.29" fill-opacity="0.54"/><rect x="409.48" y="808.21" width="4.25" height="3.02" fill-opacity="0.44"/><rect x="409.48" y="812.32" width="4.25" height="9.98" fill-opacity="0.54"/><rect x="419.5" y="646.67" width="6.81" height="1.74" fill-opacity="0.55"/><rect x="419.5" y="648.41" width="6.81" height="3.56" fill-opacity="0.51"/><rect x="419.5" y="656.81" width="6.81" height="5.71" fill-opacity="0.74"/><rect x="419.5" y="664.92" width="6.81" height="13.23" fill-opacity="0.78"/><rect x="419.5" y="678.15" width="6.81" height="2.54" fill-opacity="0.37"/><rect x="419.5" y="681.06" width="6.81" height="4.73" fill-opacity="0.74"/><rect x="419.5" y="685.78" width="6.81" height="2.54" fill-opacity="0.46"/><rect x="419.5" y="691.09" width="6.81" height="7.42" fill-opacity="0.46"/><rect x="419.5" y="702.5" width="6.81" height="29.59" fill-opacity="0.83"/><rect x="419.5" y="733.51" width="6.81" height="4.69" fill-opacity="0.55"/><rect x="419.5" y="738.89" width="6.81" height="6.69" fill-opacity="0.51"/><rect x="419.5" y="745.69" width="6.81" height="1.93" fill-opacity="0.18"/><rect x="419.5" y="747.61" width="6.81" height="3.34" fill-opacity="0.46"/><rect x="419.5" y="752.3" width="6.81" height="14.18" fill-opacity="0.78"/><rect x="419.5" y="767.13" width="6.81" height="3.34" fill-opacity="0.51"/><rect x="419.5" y="771.5" width="6.81" height="1.85" fill-opacity="0.28"/><rect x="419.5" y="775.57" width="6.81" height="6.25" fill-opacity="0.64"/><rect x="419.5" y="783.2" width="6.81" height="6.07" fill-opacity="0.69"/><rect x="419.5" y="791.81" width="6.81" height="1.2" fill-opacity="0.23"/><rect x="419.5" y="794.29" width="6.81" height="1.53" fill-opacity="0.32"/><rect x="419.5" y="797.01" width="6.81" height="10.29" fill-opacity="0.78"/><rect x="419.5" y="808.21" width="6.81" height="3.02" fill-opacity="0.64"/><rect x="419.5" y="812.32" width="6.81" height="9.98" fill-opacity="0.78"/><rect x="429.17" y="646.67" width="15.78" height="1.74" fill-opacity="0.59"/><rect x="429.17" y="648.41" width="15.78" height="3.56" fill-opacity="0.54"/><rect x="429.17" y="656.81" width="15.78" height="5.71" fill-opacity="0.78"/><rect x="429.17" y="664.92" width="15.78" height="13.23" fill-opacity="0.83"/><rect x="429.17" y="678.15" width="15.78" height="2.54" fill-opacity="0.39"/><rect x="429.17" y="681.06" width="15.78" height="4.73" fill-opacity="0.78"/><rect x="429.17" y="685.78" width="15.78" height="2.54" fill-opacity="0.49"/><rect x="429.17" y="691.09" width="15.78" height="7.42" fill-opacity="0.49"/><rect x="429.17" y="702.5" width="15.78" height="29.59" fill-opacity="0.88"/><rect x="429.17" y="733.51" width="15.78" height="4.69" fill-opacity="0.59"/><rect x="429.17" y="738.89" width="15.78" height="6.69" fill-opacity="0.54"/><rect x="429.17" y="745.69" width="15.78" height="1.93" fill-opacity="0.2"/><rect x="429.17" y="747.61" width="15.78" height="3.34" fill-opacity="0.49"/><rect x="429.17" y="752.3" width="15.78" height="14.18" fill-opacity="0.83"/><rect x="429.17" y="767.13" width="15.78" height="3.34" fill-opacity="0.54"/><rect x="429.17" y="771.5" width="15.78" height="1.85" fill-opacity="0.29"/><rect x="429.17" y="775.57" width="15.78" height="6.25" fill-opacity="0.68"/><rect x="429.17" y="783.2" width="15.78" height="6.07" fill-opacity="0.73"/><rect x="429.17" y="791.81" width="15.78" height="1.2" fill-opacity="0.24"/><rect x="429.17" y="794.29" width="15.78" height="1.53" fill-opacity="0.34"/><rect x="429.17" y="797.01" width="15.78" height="10.29" fill-opacity="0.83"/><rect x="429.17" y="808.21" width="15.78" height="3.02" fill-opacity="0.68"/><rect x="429.17" y="812.32" width="15.78" height="9.98" fill-opacity="0.83"/><rect x="444.95" y="646.67" width="3.04" height="1.74" fill-opacity="0.28"/><rect x="444.95" y="648.41" width="3.04" height="3.56" fill-opacity="0.25"/><rect x="444.95" y="656.81" width="3.04" height="5.71" fill-opacity="0.37"/><rect x="444.95" y="664.92" width="3.04" height="13.23" fill-opacity="0.39"/><rect x="444.95" y="678.15" width="3.04" height="2.54" fill-opacity="0.18"/><rect x="444.95" y="681.06" width="3.04" height="4.73" fill-opacity="0.37"/><rect x="444.95" y="685.78" width="3.04" height="2.54" fill-opacity="0.23"/><rect x="444.95" y="691.09" width="3.04" height="7.42" fill-opacity="0.23"/><rect x="444.95" y="702.5" width="3.04" height="29.59" fill-opacity="0.41"/><rect x="444.95" y="733.51" width="3.04" height="4.69" fill-opacity="0.28"/><rect x="444.95" y="738.89" width="3.04" height="6.69" fill-opacity="0.25"/><rect x="444.95" y="745.69" width="3.04" height="1.93" fill-opacity="0.09"/><rect x="444.95" y="747.61" width="3.04" height="3.34" fill-opacity="0.23"/><rect x="444.95" y="752.3" width="3.04" height="14.18" fill-opacity="0.39"/><rect x="444.95" y="767.13" width="3.04" height="3.34" fill-opacity="0.25"/><rect x="444.95" y="771.5" width="3.04" height="1.85" fill-opacity="0.14"/><rect x="444.95" y="775.57" width="3.04" height="6.25" fill-opacity="0.32"/><rect x="444.95" y="783.2" width="3.04" height="6.07" fill-opacity="0.35"/><rect x="444.95" y="791.81" width="3.04" height="1.2" fill-opacity="0.11"/><rect x="444.95" y="794.29" width="3.04" height="1.53" fill-opacity="0.16"/><rect x="444.95" y="797.01" width="3.04" height="10.29" fill-opacity="0.39"/><rect x="444.95" y="808.21" width="3.04" height="3.02" fill-opacity="0.32"/><rect x="444.95" y="812.32" width="3.04" height="9.98" fill-opacity="0.39"/><rect x="448.42" y="646.67" width="5.64" height="1.74" fill-opacity="0.55"/><rect x="448.42" y="648.41" width="5.64" height="3.56" fill-opacity="0.51"/><rect x="448.42" y="656.81" width="5.64" height="5.71" fill-opacity="0.74"/><rect x="448.42" y="664.92" width="5.64" height="13.23" fill-opacity="0.78"/><rect x="448.42" y="678.15" width="5.64" height="2.54" fill-opacity="0.37"/><rect x="448.42" y="681.06" width="5.64" height="4.73" fill-opacity="0.74"/><rect x="448.42" y="685.78" width="5.64" height="2.54" fill-opacity="0.46"/><rect x="448.42" y="691.09" width="5.64" height="7.42" fill-opacity="0.46"/><rect x="448.42" y="702.5" width="5.64" height="29.59" fill-opacity="0.83"/><rect x="448.42" y="733.51" width="5.64" height="4.69" fill-opacity="0.55"/><rect x="448.42" y="738.89" width="5.64" height="6.69" fill-opacity="0.51"/><rect x="448.42" y="745.69" width="5.64" height="1.93" fill-opacity="0.18"/><rect x="448.42" y="747.61" width="5.64" height="3.34" fill-opacity="0.46"/><rect x="448.42" y="752.3" width="5.64" height="14.18" fill-opacity="0.78"/><rect x="448.42" y="767.13" width="5.64" height="3.34" fill-opacity="0.51"/><rect x="448.42" y="771.5" width="5.64" height="1.85" fill-opacity="0.28"/><rect x="448.42" y="775.57" width="5.64" height="6.25" fill-opacity="0.64"/><rect x="448.42" y="783.2" width="5.64" height="6.07" fill-opacity="0.69"/><rect x="448.42" y="791.81" width="5.64" height="1.2" fill-opacity="0.23"/><rect x="448.42" y="794.29" width="5.64" height="1.53" fill-opacity="0.32"/><rect x="448.42" y="797.01" width="5.64" height="10.29" fill-opacity="0.78"/><rect x="448.42" y="808.21" width="5.64" height="3.02" fill-opacity="0.64"/><rect x="448.42" y="812.32" width="5.64" height="9.98" fill-opacity="0.78"/><rect x="454.06" y="646.67" width="3.04" height="1.74" fill-opacity="0.34"/><rect x="454.06" y="648.41" width="3.04" height="3.56" fill-opacity="0.32"/><rect x="454.06" y="656.81" width="3.04" height="5.71" fill-opacity="0.46"/><rect x="454.06" y="664.92" width="3.04" height="13.23" fill-opacity="0.49"/><rect x="454.06" y="678.15" width="3.04" height="2.54" fill-opacity="0.23"/><rect x="454.06" y="681.06" width="3.04" height="4.73" fill-opacity="0.46"/><rect x="454.06" y="685.78" width="3.04" height="2.54" fill-opacity="0.29"/><rect x="454.06" y="691.09" width="3.04" height="7.42" fill-opacity="0.29"/><rect x="454.06" y="702.5" width="3.04" height="29.59" fill-opacity="0.52"/><rect x="454.06" y="733.51" width="3.04" height="4.69" fill-opacity="0.34"/><rect x="454.06" y="738.89" width="3.04" height="6.69" fill-opacity="0.32"/><rect x="454.06" y="745.69" width="3.04" height="1.93" fill-opacity="0.11"/><rect x="454.06" y="747.61" width="3.04" height="3.34" fill-opacity="0.29"/><rect x="454.06" y="752.3" width="3.04" height="14.18" fill-opacity="0.49"/><rect x="454.06" y="767.13" width="3.04" height="3.34" fill-opacity="0.32"/><rect x="454.06" y="771.5" width="3.04" height="1.85" fill-opacity="0.17"/><rect x="454.06" y="775.57" width="3.04" height="6.25" fill-opacity="0.4"/><rect x="454.06" y="783.2" width="3.04" height="6.07" fill-opacity="0.43"/><rect x="454.06" y="791.81" width="3.04" height="1.2" fill-opacity="0.14"/><rect x="454.06" y="794.29" width="3.04" height="1.53" fill-opacity="0.2"/><rect x="454.06" y="797.01" width="3.04" height="10.29" fill-opacity="0.49"/><rect x="454.06" y="808.21" width="3.04" height="3.02" fill-opacity="0.4"/><rect x="454.06" y="812.32" width="3.04" height="9.98" fill-opacity="0.49"/><rect x="460.39" y="646.67" width="8.85" height="1.74" fill-opacity="0.34"/><rect x="460.39" y="648.41" width="8.85" height="3.56" fill-opacity="0.32"/><rect x="460.39" y="656.81" width="8.85" height="5.71" fill-opacity="0.46"/><rect x="460.39" y="664.92" width="8.85" height="13.23" fill-opacity="0.49"/><rect x="460.39" y="678.15" width="8.85" height="2.54" fill-opacity="0.23"/><rect x="460.39" y="681.06" width="8.85" height="4.73" fill-opacity="0.46"/><rect x="460.39" y="685.78" width="8.85" height="2.54" fill-opacity="0.29"/><rect x="460.39" y="691.09" width="8.85" height="7.42" fill-opacity="0.29"/><rect x="460.39" y="702.5" width="8.85" height="29.59" fill-opacity="0.52"/><rect x="460.39" y="733.51" width="8.85" height="4.69" fill-opacity="0.34"/><rect x="460.39" y="738.89" width="8.85" height="6.69" fill-opacity="0.32"/><rect x="460.39" y="745.69" width="8.85" height="1.93" fill-opacity="0.11"/><rect x="460.39" y="747.61" width="8.85" height="3.34" fill-opacity="0.29"/><rect x="460.39" y="752.3" width="8.85" height="14.18" fill-opacity="0.49"/><rect x="460.39" y="767.13" width="8.85" height="3.34" fill-opacity="0.32"/><rect x="460.39" y="771.5" width="8.85" height="1.85" fill-opacity="0.17"/><rect x="460.39" y="775.57" width="8.85" height="6.25" fill-opacity="0.4"/><rect x="460.39" y="783.2" width="8.85" height="6.07" fill-opacity="0.43"/><rect x="460.39" y="791.81" width="8.85" height="1.2" fill-opacity="0.14"/><rect x="460.39" y="794.29" width="8.85" height="1.53" fill-opacity="0.2"/><rect x="460.39" y="797.01" width="8.85" height="10.29" fill-opacity="0.49"/><rect x="460.39" y="808.21" width="8.85" height="3.02" fill-opacity="0.4"/><rect x="460.39" y="812.32" width="8.85" height="9.98" fill-opacity="0.49"/><rect x="474" y="646.67" width="35.3" height="1.74" fill-opacity="0.62"/><rect x="474" y="648.41" width="35.3" height="3.56" fill-opacity="0.57"/><rect x="474" y="656.81" width="35.3" height="5.71" fill-opacity="0.83"/><rect x="474" y="664.92" width="35.3" height="13.23" fill-opacity="0.88"/><rect x="474" y="678.15" width="35.3" height="2.54" fill-opacity="0.41"/><rect x="474" y="681.06" width="35.3" height="4.73" fill-opacity="0.83"/><rect x="474" y="685.78" width="35.3" height="2.54" fill-opacity="0.52"/><rect x="474" y="691.09" width="35.3" height="7.42" fill-opacity="0.52"/><rect x="474" y="702.5" width="35.3" height="29.59" fill-opacity="0.93"/><rect x="474" y="733.51" width="35.3" height="4.69" fill-opacity="0.62"/><rect x="474" y="738.89" width="35.3" height="6.69" fill-opacity="0.57"/><rect x="474" y="745.69" width="35.3" height="1.93" fill-opacity="0.21"/><rect x="474" y="747.61" width="35.3" height="3.34" fill-opacity="0.52"/><rect x="474" y="752.3" width="35.3" height="14.18" fill-opacity="0.88"/><rect x="474" y="767.13" width="35.3" height="3.34" fill-opacity="0.57"/><rect x="474" y="771.5" width="35.3" height="1.85" fill-opacity="0.31"/><rect x="474" y="775.57" width="35.3" height="6.25" fill-opacity="0.72"/><rect x="474" y="783.2" width="35.3" height="6.07" fill-opacity="0.78"/><rect x="474" y="791.81" width="35.3" height="1.2" fill-opacity="0.26"/><rect x="474" y="794.29" width="35.3" height="1.53" fill-opacity="0.36"/><rect x="474" y="797.01" width="35.3" height="10.29" fill-opacity="0.88"/><rect x="474" y="808.21" width="35.3" height="3.02" fill-opacity="0.72"/><rect x="474" y="812.32" width="35.3" height="9.98" fill-opacity="0.88"/><rect x="510.99" y="646.67" width="5.59" height="1.74" fill-opacity="0.41"/><rect x="510.99" y="648.41" width="5.59" height="3.56" fill-opacity="0.38"/><rect x="510.99" y="656.81" width="5.59" height="5.71" fill-opacity="0.55"/><rect x="510.99" y="664.92" width="5.59" height="13.23" fill-opacity="0.59"/><rect x="510.99" y="678.15" width="5.59" height="2.54" fill-opacity="0.28"/><rect x="510.99" y="681.06" width="5.59" height="4.73" fill-opacity="0.55"/><rect x="510.99" y="685.78" width="5.59" height="2.54" fill-opacity="0.34"/><rect x="510.99" y="691.09" width="5.59" height="7.42" fill-opacity="0.34"/><rect x="510.99" y="702.5" width="5.59" height="29.59" fill-opacity="0.62"/><rect x="510.99" y="733.51" width="5.59" height="4.69" fill-opacity="0.41"/><rect x="510.99" y="738.89" width="5.59" height="6.69" fill-opacity="0.38"/><rect x="510.99" y="745.69" width="5.59" height="1.93" fill-opacity="0.14"/><rect x="510.99" y="747.61" width="5.59" height="3.34" fill-opacity="0.34"/><rect x="510.99" y="752.3" width="5.59" height="14.18" fill-opacity="0.59"/><rect x="510.99" y="767.13" width="5.59" height="3.34" fill-opacity="0.38"/><rect x="510.99" y="771.5" width="5.59" height="1.85" fill-opacity="0.21"/><rect x="510.99" y="775.57" width="5.59" height="6.25" fill-opacity="0.48"/><rect x="510.99" y="783.2" width="5.59" height="6.07" fill-opacity="0.52"/><rect x="510.99" y="791.81" width="5.59" height="1.2" fill-opacity="0.17"/><rect x="510.99" y="794.29" width="5.59" height="1.53" fill-opacity="0.24"/><rect x="510.99" y="797.01" width="5.59" height="10.29" fill-opacity="0.59"/><rect x="510.99" y="808.21" width="5.59" height="3.02" fill-opacity="0.48"/><rect x="510.99" y="812.32" width="5.59" height="9.98" fill-opacity="0.59"/><rect x="517.4" y="646.67" width="7.98" height="1.74" fill-opacity="0.38"/><rect x="517.4" y="648.41" width="7.98" height="3.56" fill-opacity="0.35"/><rect x="517.4" y="656.81" width="7.98" height="5.71" fill-opacity="0.51"/><rect x="517.4" y="664.92" width="7.98" height="13.23" fill-opacity="0.54"/><rect x="517.4" y="678.15" width="7.98" height="2.54" fill-opacity="0.25"/><rect x="517.4" y="681.06" width="7.98" height="4.73" fill-opacity="0.51"/><rect x="517.4" y="685.78" width="7.98" height="2.54" fill-opacity="0.32"/><rect x="517.4" y="691.09" width="7.98" height="7.42" fill-opacity="0.32"/><rect x="517.4" y="702.5" width="7.98" height="29.59" fill-opacity="0.57"/><rect x="517.4" y="733.51" width="7.98" height="4.69" fill-opacity="0.38"/><rect x="517.4" y="738.89" width="7.98" height="6.69" fill-opacity="0.35"/><rect x="517.4" y="745.69" width="7.98" height="1.93" fill-opacity="0.13"/><rect x="517.4" y="747.61" width="7.98" height="3.34" fill-opacity="0.32"/><rect x="517.4" y="752.3" width="7.98" height="14.18" fill-opacity="0.54"/><rect x="517.4" y="767.13" width="7.98" height="3.34" fill-opacity="0.35"/><rect x="517.4" y="771.5" width="7.98" height="1.85" fill-opacity="0.19"/><rect x="517.4" y="775.57" width="7.98" height="6.25" fill-opacity="0.44"/><rect x="517.4" y="783.2" width="7.98" height="6.07" fill-opacity="0.47"/><rect x="517.4" y="791.81" width="7.98" height="1.2" fill-opacity="0.16"/><rect x="517.4" y="794.29" width="7.98" height="1.53" fill-opacity="0.22"/><rect x="517.4" y="797.01" width="7.98" height="10.29" fill-opacity="0.54"/><rect x="517.4" y="808.21" width="7.98" height="3.02" fill-opacity="0.44"/><rect x="517.4" y="812.32" width="7.98" height="9.98" fill-opacity="0.54"/><rect x="525.51" y="646.67" width="2.3" height="1.74" fill-opacity="0.14"/><rect x="525.51" y="648.41" width="2.3" height="3.56" fill-opacity="0.13"/><rect x="525.51" y="656.81" width="2.3" height="5.71" fill-opacity="0.18"/><rect x="525.51" y="664.92" width="2.3" height="13.23" fill-opacity="0.2"/><rect x="525.51" y="678.15" width="2.3" height="2.54" fill-opacity="0.09"/><rect x="525.51" y="681.06" width="2.3" height="4.73" fill-opacity="0.18"/><rect x="525.51" y="685.78" width="2.3" height="2.54" fill-opacity="0.11"/><rect x="525.51" y="691.09" width="2.3" height="7.42" fill-opacity="0.11"/><rect x="525.51" y="702.5" width="2.3" height="29.59" fill-opacity="0.21"/><rect x="525.51" y="733.51" width="2.3" height="4.69" fill-opacity="0.14"/><rect x="525.51" y="738.89" width="2.3" height="6.69" fill-opacity="0.13"/><rect x="525.51" y="745.69" width="2.3" height="1.93" fill-opacity="0.05"/><rect x="525.51" y="747.61" width="2.3" height="3.34" fill-opacity="0.11"/><rect x="525.51" y="752.3" width="2.3" height="14.18" fill-opacity="0.2"/><rect x="525.51" y="767.13" width="2.3" height="3.34" fill-opacity="0.13"/><rect x="525.51" y="771.5" width="2.3" height="1.85" fill-opacity="0.07"/><rect x="525.51" y="775.57" width="2.3" height="6.25" fill-opacity="0.16"/><rect x="525.51" y="783.2" width="2.3" height="6.07" fill-opacity="0.17"/><rect x="525.51" y="791.81" width="2.3" height="1.2" fill-opacity="0.06"/><rect x="525.51" y="794.29" width="2.3" height="1.53" fill-opacity="0.08"/><rect x="525.51" y="797.01" width="2.3" height="10.29" fill-opacity="0.2"/><rect x="525.51" y="808.21" width="2.3" height="3.02" fill-opacity="0.16"/><rect x="525.51" y="812.32" width="2.3" height="9.98" fill-opacity="0.2"/><rect x="527.81" y="646.67" width="3.99" height="1.74" fill-opacity="0.34"/><rect x="527.81" y="648.41" width="3.99" height="3.56" fill-opacity="0.32"/><rect x="527.81" y="656.81" width="3.99" height="5.71" fill-opacity="0.46"/><rect x="527.81" y="664.92" width="3.99" height="13.23" fill-opacity="0.49"/><rect x="527.81" y="678.15" width="3.99" height="2.54" fill-opacity="0.23"/><rect x="527.81" y="681.06" width="3.99" height="4.73" fill-opacity="0.46"/><rect x="527.81" y="685.78" width="3.99" height="2.54" fill-opacity="0.29"/><rect x="527.81" y="691.09" width="3.99" height="7.42" fill-opacity="0.29"/><rect x="527.81" y="702.5" width="3.99" height="29.59" fill-opacity="0.52"/><rect x="527.81" y="733.51" width="3.99" height="4.69" fill-opacity="0.34"/><rect x="527.81" y="738.89" width="3.99" height="6.69" fill-opacity="0.32"/><rect x="527.81" y="745.69" width="3.99" height="1.93" fill-opacity="0.11"/><rect x="527.81" y="747.61" width="3.99" height="3.34" fill-opacity="0.29"/><rect x="527.81" y="752.3" width="3.99" height="14.18" fill-opacity="0.49"/><rect x="527.81" y="767.13" width="3.99" height="3.34" fill-opacity="0.32"/><rect x="527.81" y="771.5" width="3.99" height="1.85" fill-opacity="0.17"/><rect x="527.81" y="775.57" width="3.99" height="6.25" fill-opacity="0.4"/><rect x="527.81" y="783.2" width="3.99" height="6.07" fill-opacity="0.43"/><rect x="527.81" y="791.81" width="3.99" height="1.2" fill-opacity="0.14"/><rect x="527.81" y="794.29" width="3.99" height="1.53" fill-opacity="0.2"/><rect x="527.81" y="797.01" width="3.99" height="10.29" fill-opacity="0.49"/><rect x="527.81" y="808.21" width="3.99" height="3.02" fill-opacity="0.4"/><rect x="527.81" y="812.32" width="3.99" height="9.98" fill-opacity="0.49"/><rect x="533.4" y="646.67" width="16.91" height="1.74" fill-opacity="0.59"/><rect x="533.4" y="648.41" width="16.91" height="3.56" fill-opacity="0.54"/><rect x="533.4" y="656.81" width="16.91" height="5.71" fill-opacity="0.78"/><rect x="533.4" y="664.92" width="16.91" height="13.23" fill-opacity="0.83"/><rect x="533.4" y="678.15" width="16.91" height="2.54" fill-opacity="0.39"/><rect x="533.4" y="681.06" width="16.91" height="4.73" fill-opacity="0.78"/><rect x="533.4" y="685.78" width="16.91" height="2.54" fill-opacity="0.49"/><rect x="533.4" y="691.09" width="16.91" height="7.42" fill-opacity="0.49"/><rect x="533.4" y="702.5" width="16.91" height="29.59" fill-opacity="0.88"/><rect x="533.4" y="733.51" width="16.91" height="4.69" fill-opacity="0.59"/><rect x="533.4" y="738.89" width="16.91" height="6.69" fill-opacity="0.54"/><rect x="533.4" y="745.69" width="16.91" height="1.93" fill-opacity="0.2"/><rect x="533.4" y="747.61" width="16.91" height="3.34" fill-opacity="0.49"/><rect x="533.4" y="752.3" width="16.91" height="14.18" fill-opacity="0.83"/><rect x="533.4" y="767.13" width="16.91" height="3.34" fill-opacity="0.54"/><rect x="533.4" y="771.5" width="16.91" height="1.85" fill-opacity="0.29"/><rect x="533.4" y="775.57" width="16.91" height="6.25" fill-opacity="0.68"/><rect x="533.4" y="783.2" width="16.91" height="6.07" fill-opacity="0.73"/><rect x="533.4" y="791.81" width="16.91" height="1.2" fill-opacity="0.24"/><rect x="533.4" y="794.29" width="16.91" height="1.53" fill-opacity="0.34"/><rect x="533.4" y="797.01" width="16.91" height="10.29" fill-opacity="0.83"/><rect x="533.4" y="808.21" width="16.91" height="3.02" fill-opacity="0.68"/><rect x="533.4" y="812.32" width="16.91" height="9.98" fill-opacity="0.83"/><rect x="551.09" y="646.67" width="3.99" height="1.74" fill-opacity="0.38"/><rect x="551.09" y="648.41" width="3.99" height="3.56" fill-opacity="0.35"/><rect x="551.09" y="656.81" width="3.99" height="5.71" fill-opacity="0.51"/><rect x="551.09" y="664.92" width="3.99" height="13.23" fill-opacity="0.54"/><rect x="551.09" y="678.15" width="3.99" height="2.54" fill-opacity="0.25"/><rect x="551.09" y="681.06" width="3.99" height="4.73" fill-opacity="0.51"/><rect x="551.09" y="685.78" width="3.99" height="2.54" fill-opacity="0.32"/><rect x="551.09" y="691.09" width="3.99" height="7.42" fill-opacity="0.32"/><rect x="551.09" y="702.5" width="3.99" height="29.59" fill-opacity="0.57"/><rect x="551.09" y="733.51" width="3.99" height="4.69" fill-opacity="0.38"/><rect x="551.09" y="738.89" width="3.99" height="6.69" fill-opacity="0.35"/><rect x="551.09" y="745.69" width="3.99" height="1.93" fill-opacity="0.13"/><rect x="551.09" y="747.61" width="3.99" height="3.34" fill-opacity="0.32"/><rect x="551.09" y="752.3" width="3.99" height="14.18" fill-opacity="0.54"/><rect x="551.09" y="767.13" width="3.99" height="3.34" fill-opacity="0.35"/><rect x="551.09" y="771.5" width="3.99" height="1.85" fill-opacity="0.19"/><rect x="551.09" y="775.57" width="3.99" height="6.25" fill-opacity="0.44"/><rect x="551.09" y="783.2" width="3.99" height="6.07" fill-opacity="0.47"/><rect x="551.09" y="791.81" width="3.99" height="1.2" fill-opacity="0.16"/><rect x="551.09" y="794.29" width="3.99" height="1.53" fill-opacity="0.22"/><rect x="551.09" y="797.01" width="3.99" height="10.29" fill-opacity="0.54"/><rect x="551.09" y="808.21" width="3.99" height="3.02" fill-opacity="0.44"/><rect x="551.09" y="812.32" width="3.99" height="9.98" fill-opacity="0.54"/><rect x="556.3" y="646.67" width="2.21" height="1.74" fill-opacity="0.21"/><rect x="556.3" y="648.41" width="2.21" height="3.56" fill-opacity="0.19"/><rect x="556.3" y="656.81" width="2.21" height="5.71" fill-opacity="0.28"/><rect x="556.3" y="664.92" width="2.21" height="13.23" fill-opacity="0.29"/><rect x="556.3" y="678.15" width="2.21" height="2.54" fill-opacity="0.14"/><rect x="556.3" y="681.06" width="2.21" height="4.73" fill-opacity="0.28"/><rect x="556.3" y="685.78" width="2.21" height="2.54" fill-opacity="0.17"/><rect x="556.3" y="691.09" width="2.21" height="7.42" fill-opacity="0.17"/><rect x="556.3" y="702.5" width="2.21" height="29.59" fill-opacity="0.31"/><rect x="556.3" y="733.51" width="2.21" height="4.69" fill-opacity="0.21"/><rect x="556.3" y="738.89" width="2.21" height="6.69" fill-opacity="0.19"/><rect x="556.3" y="745.69" width="2.21" height="1.93" fill-opacity="0.07"/><rect x="556.3" y="747.61" width="2.21" height="3.34" fill-opacity="0.17"/><rect x="556.3" y="752.3" width="2.21" height="14.18" fill-opacity="0.29"/><rect x="556.3" y="767.13" width="2.21" height="3.34" fill-opacity="0.19"/><rect x="556.3" y="771.5" width="2.21" height="1.85" fill-opacity="0.1"/><rect x="556.3" y="775.57" width="2.21" height="6.25" fill-opacity="0.24"/><rect x="556.3" y="783.2" width="2.21" height="6.07" fill-opacity="0.26"/><rect x="556.3" y="791.81" width="2.21" height="1.2" fill-opacity="0.09"/><rect x="556.3" y="794.29" width="2.21" height="1.53" fill-opacity="0.12"/><rect x="556.3" y="797.01" width="2.21" height="10.29" fill-opacity="0.29"/><rect x="556.3" y="808.21" width="2.21" height="3.02" fill-opacity="0.24"/><rect x="556.3" y="812.32" width="2.21" height="9.98" fill-opacity="0.29"/><rect x="561.15" y="646.67" width="7.46" height="1.74" fill-opacity="0.48"/><rect x="561.15" y="648.41" width="7.46" height="3.56" fill-opacity="0.44"/><rect x="561.15" y="656.81" width="7.46" height="5.71" fill-opacity="0.64"/><rect x="561.15" y="664.92" width="7.46" height="13.23" fill-opacity="0.68"/><rect x="561.15" y="678.15" width="7.46" height="2.54" fill-opacity="0.32"/><rect x="561.15" y="681.06" width="7.46" height="4.73" fill-opacity="0.64"/><rect x="561.15" y="685.78" width="7.46" height="2.54" fill-opacity="0.4"/><rect x="561.15" y="691.09" width="7.46" height="7.42" fill-opacity="0.4"/><rect x="561.15" y="702.5" width="7.46" height="29.59" fill-opacity="0.72"/><rect x="561.15" y="733.51" width="7.46" height="4.69" fill-opacity="0.48"/><rect x="561.15" y="738.89" width="7.46" height="6.69" fill-opacity="0.44"/><rect x="561.15" y="745.69" width="7.46" height="1.93" fill-opacity="0.16"/><rect x="561.15" y="747.61" width="7.46" height="3.34" fill-opacity="0.4"/><rect x="561.15" y="752.3" width="7.46" height="14.18" fill-opacity="0.68"/><rect x="561.15" y="767.13" width="7.46" height="3.34" fill-opacity="0.44"/><rect x="561.15" y="771.5" width="7.46" height="1.85" fill-opacity="0.24"/><rect x="561.15" y="775.57" width="7.46" height="6.25" fill-opacity="0.56"/><rect x="561.15" y="783.2" width="7.46" height="6.07" fill-opacity="0.6"/><rect x="561.15" y="791.81" width="7.46" height="1.2" fill-opacity="0.2"/><rect x="561.15" y="794.29" width="7.46" height="1.53" fill-opacity="0.28"/><rect x="561.15" y="797.01" width="7.46" height="10.29" fill-opacity="0.68"/><rect x="561.15" y="808.21" width="7.46" height="3.02" fill-opacity="0.56"/><rect x="561.15" y="812.32" width="7.46" height="9.98" fill-opacity="0.68"/><rect x="570.26" y="646.67" width="7.24" height="1.74" fill-opacity="0.52"/><rect x="570.26" y="648.41" width="7.24" height="3.56" fill-opacity="0.47"/><rect x="570.26" y="656.81" width="7.24" height="5.71" fill-opacity="0.69"/><rect x="570.26" y="664.92" width="7.24" height="13.23" fill-opacity="0.73"/><rect x="570.26" y="678.15" width="7.24" height="2.54" fill-opacity="0.35"/><rect x="570.26" y="681.06" width="7.24" height="4.73" fill-opacity="0.69"/><rect x="570.26" y="685.78" width="7.24" height="2.54" fill-opacity="0.43"/><rect x="570.26" y="691.09" width="7.24" height="7.42" fill-opacity="0.43"/><rect x="570.26" y="702.5" width="7.24" height="29.59" fill-opacity="0.78"/><rect x="570.26" y="733.51" width="7.24" height="4.69" fill-opacity="0.52"/><rect x="570.26" y="738.89" width="7.24" height="6.69" fill-opacity="0.47"/><rect x="570.26" y="745.69" width="7.24" height="1.93" fill-opacity="0.17"/><rect x="570.26" y="747.61" width="7.24" height="3.34" fill-opacity="0.43"/><rect x="570.26" y="752.3" width="7.24" height="14.18" fill-opacity="0.73"/><rect x="570.26" y="767.13" width="7.24" height="3.34" fill-opacity="0.47"/><rect x="570.26" y="771.5" width="7.24" height="1.85" fill-opacity="0.26"/><rect x="570.26" y="775.57" width="7.24" height="6.25" fill-opacity="0.6"/><rect x="570.26" y="783.2" width="7.24" height="6.07" fill-opacity="0.65"/><rect x="570.26" y="791.81" width="7.24" height="1.2" fill-opacity="0.22"/><rect x="570.26" y="794.29" width="7.24" height="1.53" fill-opacity="0.3"/><rect x="570.26" y="797.01" width="7.24" height="10.29" fill-opacity="0.73"/><rect x="570.26" y="808.21" width="7.24" height="3.02" fill-opacity="0.6"/><rect x="570.26" y="812.32" width="7.24" height="9.98" fill-opacity="0.73"/><rect x="580.54" y="646.67" width="1.43" height="1.74" fill-opacity="0.17"/><rect x="580.54" y="648.41" width="1.43" height="3.56" fill-opacity="0.16"/><rect x="580.54" y="656.81" width="1.43" height="5.71" fill-opacity="0.23"/><rect x="580.54" y="664.92" width="1.43" height="13.23" fill-opacity="0.24"/><rect x="580.54" y="678.15" width="1.43" height="2.54" fill-opacity="0.11"/><rect x="580.54" y="681.06" width="1.43" height="4.73" fill-opacity="0.23"/><rect x="580.54" y="685.78" width="1.43" height="2.54" fill-opacity="0.14"/><rect x="580.54" y="691.09" width="1.43" height="7.42" fill-opacity="0.14"/><rect x="580.54" y="702.5" width="1.43" height="29.59" fill-opacity="0.26"/><rect x="580.54" y="733.51" width="1.43" height="4.69" fill-opacity="0.17"/><rect x="580.54" y="738.89" width="1.43" height="6.69" fill-opacity="0.16"/><rect x="580.54" y="745.69" width="1.43" height="1.93" fill-opacity="0.06"/><rect x="580.54" y="747.61" width="1.43" height="3.34" fill-opacity="0.14"/><rect x="580.54" y="752.3" width="1.43" height="14.18" fill-opacity="0.24"/><rect x="580.54" y="767.13" width="1.43" height="3.34" fill-opacity="0.16"/><rect x="580.54" y="771.5" width="1.43" height="1.85" fill-opacity="0.09"/><rect x="580.54" y="775.57" width="1.43" height="6.25" fill-opacity="0.2"/><rect x="580.54" y="783.2" width="1.43" height="6.07" fill-opacity="0.22"/><rect x="580.54" y="791.81" width="1.43" height="1.2" fill-opacity="0.07"/><rect x="580.54" y="794.29" width="1.43" height="1.53" fill-opacity="0.1"/><rect x="580.54" y="797.01" width="1.43" height="10.29" fill-opacity="0.24"/><rect x="580.54" y="808.21" width="1.43" height="3.02" fill-opacity="0.2"/><rect x="580.54" y="812.32" width="1.43" height="9.98" fill-opacity="0.24"/><rect x="583.48" y="646.67" width="1.82" height="1.74" fill-opacity="0.24"/><rect x="583.48" y="648.41" width="1.82" height="3.56" fill-opacity="0.22"/><rect x="583.48" y="656.81" width="1.82" height="5.71" fill-opacity="0.32"/><rect x="583.48" y="664.92" width="1.82" height="13.23" fill-opacity="0.34"/><rect x="583.48" y="678.15" width="1.82" height="2.54" fill-opacity="0.16"/><rect x="583.48" y="681.06" width="1.82" height="4.73" fill-opacity="0.32"/><rect x="583.48" y="685.78" width="1.82" height="2.54" fill-opacity="0.2"/><rect x="583.48" y="691.09" width="1.82" height="7.42" fill-opacity="0.2"/><rect x="583.48" y="702.5" width="1.82" height="29.59" fill-opacity="0.36"/><rect x="583.48" y="733.51" width="1.82" height="4.69" fill-opacity="0.24"/><rect x="583.48" y="738.89" width="1.82" height="6.69" fill-opacity="0.22"/><rect x="583.48" y="745.69" width="1.82" height="1.93" fill-opacity="0.08"/><rect x="583.48" y="747.61" width="1.82" height="3.34" fill-opacity="0.2"/><rect x="583.48" y="752.3" width="1.82" height="14.18" fill-opacity="0.34"/><rect x="583.48" y="767.13" width="1.82" height="3.34" fill-opacity="0.22"/><rect x="583.48" y="771.5" width="1.82" height="1.85" fill-opacity="0.12"/><rect x="583.48" y="775.57" width="1.82" height="6.25" fill-opacity="0.28"/><rect x="583.48" y="783.2" width="1.82" height="6.07" fill-opacity="0.3"/><rect x="583.48" y="791.81" width="1.82" height="1.2" fill-opacity="0.1"/><rect x="583.48" y="794.29" width="1.82" height="1.53" fill-opacity="0.14"/><rect x="583.48" y="797.01" width="1.82" height="10.29" fill-opacity="0.34"/><rect x="583.48" y="808.21" width="1.82" height="3.02" fill-opacity="0.28"/><rect x="583.48" y="812.32" width="1.82" height="9.98" fill-opacity="0.34"/><rect x="586.74" y="646.67" width="12.27" height="1.74" fill-opacity="0.59"/><rect x="586.74" y="648.41" width="12.27" height="3.56" fill-opacity="0.54"/><rect x="586.74" y="656.81" width="12.27" height="5.71" fill-opacity="0.78"/><rect x="586.74" y="664.92" width="12.27" height="13.23" fill-opacity="0.83"/><rect x="586.74" y="678.15" width="12.27" height="2.54" fill-opacity="0.39"/><rect x="586.74" y="681.06" width="12.27" height="4.73" fill-opacity="0.78"/><rect x="586.74" y="685.78" width="12.27" height="2.54" fill-opacity="0.49"/><rect x="586.74" y="691.09" width="12.27" height="7.42" fill-opacity="0.49"/><rect x="586.74" y="702.5" width="12.27" height="29.59" fill-opacity="0.88"/><rect x="586.74" y="733.51" width="12.27" height="4.69" fill-opacity="0.59"/><rect x="586.74" y="738.89" width="12.27" height="6.69" fill-opacity="0.54"/><rect x="586.74" y="745.69" width="12.27" height="1.93" fill-opacity="0.2"/><rect x="586.74" y="747.61" width="12.27" height="3.34" fill-opacity="0.49"/><rect x="586.74" y="752.3" width="12.27" height="14.18" fill-opacity="0.83"/><rect x="586.74" y="767.13" width="12.27" height="3.34" fill-opacity="0.54"/><rect x="586.74" y="771.5" width="12.27" height="1.85" fill-opacity="0.29"/><rect x="586.74" y="775.57" width="12.27" height="6.25" fill-opacity="0.68"/><rect x="586.74" y="783.2" width="12.27" height="6.07" fill-opacity="0.73"/><rect x="586.74" y="791.81" width="12.27" height="1.2" fill-opacity="0.24"/><rect x="586.74" y="794.29" width="12.27" height="1.53" fill-opacity="0.34"/><rect x="586.74" y="797.01" width="12.27" height="10.29" fill-opacity="0.83"/><rect x="586.74" y="808.21" width="12.27" height="3.02" fill-opacity="0.68"/><rect x="586.74" y="812.32" width="12.27" height="9.98" fill-opacity="0.83"/><rect x="600.09" y="646.67" width="3.6" height="1.74" fill-opacity="0.48"/><rect x="600.09" y="648.41" width="3.6" height="3.56" fill-opacity="0.44"/><rect x="600.09" y="656.81" width="3.6" height="5.71" fill-opacity="0.64"/><rect x="600.09" y="664.92" width="3.6" height="13.23" fill-opacity="0.68"/><rect x="600.09" y="678.15" width="3.6" height="2.54" fill-opacity="0.32"/><rect x="600.09" y="681.06" width="3.6" height="4.73" fill-opacity="0.64"/><rect x="600.09" y="685.78" width="3.6" height="2.54" fill-opacity="0.4"/><rect x="600.09" y="691.09" width="3.6" height="7.42" fill-opacity="0.4"/><rect x="600.09" y="702.5" width="3.6" height="29.59" fill-opacity="0.72"/><rect x="600.09" y="733.51" width="3.6" height="4.69" fill-opacity="0.48"/><rect x="600.09" y="738.89" width="3.6" height="6.69" fill-opacity="0.44"/><rect x="600.09" y="745.69" width="3.6" height="1.93" fill-opacity="0.16"/><rect x="600.09" y="747.61" width="3.6" height="3.34" fill-opacity="0.4"/><rect x="600.09" y="752.3" width="3.6" height="14.18" fill-opacity="0.68"/><rect x="600.09" y="767.13" width="3.6" height="3.34" fill-opacity="0.44"/><rect x="600.09" y="771.5" width="3.6" height="1.85" fill-opacity="0.24"/><rect x="600.09" y="775.57" width="3.6" height="6.25" fill-opacity="0.56"/><rect x="600.09" y="783.2" width="3.6" height="6.07" fill-opacity="0.6"/><rect x="600.09" y="791.81" width="3.6" height="1.2" fill-opacity="0.2"/><rect x="600.09" y="794.29" width="3.6" height="1.53" fill-opacity="0.28"/><rect x="600.09" y="797.01" width="3.6" height="10.29" fill-opacity="0.68"/><rect x="600.09" y="808.21" width="3.6" height="3.02" fill-opacity="0.56"/><rect x="600.09" y="812.32" width="3.6" height="9.98" fill-opacity="0.68"/><rect x="604.99" y="646.67" width="13.4" height="1.74" fill-opacity="0.59"/><rect x="604.99" y="648.41" width="13.4" height="3.56" fill-opacity="0.54"/><rect x="604.99" y="656.81" width="13.4" height="5.71" fill-opacity="0.78"/><rect x="604.99" y="664.92" width="13.4" height="13.23" fill-opacity="0.83"/><rect x="604.99" y="678.15" width="13.4" height="2.54" fill-opacity="0.39"/><rect x="604.99" y="681.06" width="13.4" height="4.73" fill-opacity="0.78"/><rect x="604.99" y="685.78" width="13.4" height="2.54" fill-opacity="0.49"/><rect x="604.99" y="691.09" width="13.4" height="7.42" fill-opacity="0.49"/><rect x="604.99" y="702.5" width="13.4" height="29.59" fill-opacity="0.88"/><rect x="604.99" y="733.51" width="13.4" height="4.69" fill-opacity="0.59"/><rect x="604.99" y="738.89" width="13.4" height="6.69" fill-opacity="0.54"/><rect x="604.99" y="745.69" width="13.4" height="1.93" fill-opacity="0.2"/><rect x="604.99" y="747.61" width="13.4" height="3.34" fill-opacity="0.49"/><rect x="604.99" y="752.3" width="13.4" height="14.18" fill-opacity="0.83"/><rect x="604.99" y="767.13" width="13.4" height="3.34" fill-opacity="0.54"/><rect x="604.99" y="771.5" width="13.4" height="1.85" fill-opacity="0.29"/><rect x="604.99" y="775.57" width="13.4" height="6.25" fill-opacity="0.68"/><rect x="604.99" y="783.2" width="13.4" height="6.07" fill-opacity="0.73"/><rect x="604.99" y="791.81" width="13.4" height="1.2" fill-opacity="0.24"/><rect x="604.99" y="794.29" width="13.4" height="1.53" fill-opacity="0.34"/><rect x="604.99" y="797.01" width="13.4" height="10.29" fill-opacity="0.83"/><rect x="604.99" y="808.21" width="13.4" height="3.02" fill-opacity="0.68"/><rect x="604.99" y="812.32" width="13.4" height="9.98" fill-opacity="0.83"/></g>
<g clip-path="url(#lo)" fill="#1f9a2a"><rect x="407.4" y="646.67" width="2.08" height="1.74" fill-opacity="0.2"/><rect x="409.48" y="648.41" width="4.25" height="3.56" fill-opacity="0.17"/><rect x="419.5" y="656.81" width="6.81" height="5.71" fill-opacity="0.35"/><rect x="429.17" y="664.92" width="15.78" height="13.23" fill-opacity="0.4"/><rect x="448.42" y="681.06" width="5.64" height="4.73" fill-opacity="0.35"/><rect x="454.06" y="685.78" width="3.04" height="2.54" fill-opacity="0.14"/><rect x="460.39" y="691.09" width="8.85" height="7.42" fill-opacity="0.14"/><rect x="474" y="702.5" width="35.3" height="29.59" fill-opacity="0.45"/><rect x="510.99" y="733.51" width="5.59" height="4.69" fill-opacity="0.2"/><rect x="517.4" y="738.89" width="7.98" height="6.69" fill-opacity="0.17"/><rect x="527.81" y="747.61" width="3.99" height="3.34" fill-opacity="0.14"/><rect x="533.4" y="752.3" width="16.91" height="14.18" fill-opacity="0.4"/><rect x="551.09" y="767.13" width="3.99" height="3.34" fill-opacity="0.17"/><rect x="561.15" y="775.57" width="7.46" height="6.25" fill-opacity="0.27"/><rect x="570.26" y="783.2" width="7.24" height="6.07" fill-opacity="0.31"/><rect x="586.74" y="797.01" width="12.27" height="10.29" fill-opacity="0.4"/><rect x="600.09" y="808.21" width="3.6" height="3.02" fill-opacity="0.27"/><rect x="604.99" y="812.32" width="13.4" height="9.98" fill-opacity="0.4"/></g>
<line x1="407.6" y1="646.8" x2="616.5" y2="821.2" stroke="#2a9a3a" stroke-width="0.7" stroke-opacity="0.8"/>
<g fill="#b01818"><rect x="407.4" y="572.9" width="1.6" height="1.9" fill-opacity="0.75"/><rect x="407.4" y="569.8" width="1.6" height="1" fill-opacity="0.25"/><rect x="420.3" y="572.9" width="6.4" height="1.9" fill-opacity="0.75"/><rect x="420.3" y="569.8" width="6.4" height="1" fill-opacity="0.25"/><rect x="430.7" y="572.9" width="16.9" height="1.9" fill-opacity="0.75"/><rect x="430.7" y="569.8" width="16.9" height="1" fill-opacity="0.25"/><rect x="450.4" y="572.9" width="6.8" height="1.9" fill-opacity="0.75"/><rect x="450.4" y="569.8" width="6.8" height="1" fill-opacity="0.25"/><rect x="462" y="572.9" width="4" height="1.9" fill-opacity="0.75"/><rect x="462" y="569.8" width="4" height="1" fill-opacity="0.25"/><rect x="474.9" y="572.9" width="32.9" height="1.9" fill-opacity="0.75"/><rect x="474.9" y="569.8" width="32.9" height="1" fill-opacity="0.25"/><rect x="511" y="572.9" width="19.6" height="1.9" fill-opacity="0.75"/><rect x="511" y="569.8" width="19.6" height="1" fill-opacity="0.25"/><rect x="532.5" y="572.9" width="3.2" height="1.9" fill-opacity="0.75"/><rect x="532.5" y="569.8" width="3.2" height="1" fill-opacity="0.25"/><rect x="537.6" y="572.9" width="19" height="1.9" fill-opacity="0.75"/><rect x="537.6" y="569.8" width="19" height="1" fill-opacity="0.25"/><rect x="561.4" y="572.9" width="6.4" height="1.9" fill-opacity="0.75"/><rect x="561.4" y="569.8" width="6.4" height="1" fill-opacity="0.25"/><rect x="571" y="572.9" width="7.3" height="1.9" fill-opacity="0.75"/><rect x="571" y="569.8" width="7.3" height="1" fill-opacity="0.25"/><rect x="583" y="572.9" width="2.5" height="1.9" fill-opacity="0.75"/><rect x="583" y="569.8" width="2.5" height="1" fill-opacity="0.25"/><rect x="589.5" y="572.9" width="27.3" height="1.9" fill-opacity="0.75"/><rect x="589.5" y="569.8" width="27.3" height="1" fill-opacity="0.25"/></g>
<g fill="#1f9a2a"><rect x="319.0" y="656.81" width="2.8" height="5.71" fill="url(#pg)" fill-opacity="0.88"/><rect x="315.2" y="656.81" width="1.3" height="5.71" fill-opacity="0.14"/><rect x="319.0" y="664.92" width="2.8" height="13.23" fill="url(#pg)" fill-opacity="0.94"/><rect x="315.2" y="664.92" width="1.3" height="13.23" fill-opacity="0.15"/><rect x="319.0" y="678.15" width="2.8" height="2.54" fill="url(#pg)" fill-opacity="0.44"/><rect x="315.2" y="678.15" width="1.3" height="2.54" fill-opacity="0.07"/><rect x="319.0" y="681.06" width="2.8" height="4.73" fill="url(#pg)" fill-opacity="0.88"/><rect x="315.2" y="681.06" width="1.3" height="4.73" fill-opacity="0.14"/><rect x="319.0" y="685.78" width="2.8" height="2.54" fill="url(#pg)" fill-opacity="0.55"/><rect x="315.2" y="685.78" width="1.3" height="2.54" fill-opacity="0.09"/><rect x="319.0" y="691.09" width="2.8" height="7.42" fill="url(#pg)" fill-opacity="0.55"/><rect x="315.2" y="691.09" width="1.3" height="7.42" fill-opacity="0.09"/><rect x="319.0" y="702.5" width="2.8" height="29.59" fill="url(#pg)" fill-opacity="0.99"/><rect x="315.2" y="702.5" width="1.3" height="29.59" fill-opacity="0.16"/><rect x="319.0" y="733.51" width="2.8" height="4.69" fill="url(#pg)" fill-opacity="0.66"/><rect x="315.2" y="733.51" width="1.3" height="4.69" fill-opacity="0.11"/><rect x="319.0" y="738.89" width="2.8" height="6.69" fill="url(#pg)" fill-opacity="0.61"/><rect x="315.2" y="738.89" width="1.3" height="6.69" fill-opacity="0.1"/><rect x="319.0" y="745.69" width="2.8" height="1.93" fill="url(#pg)" fill-opacity="0.22"/><rect x="315.2" y="745.69" width="1.3" height="1.93" fill-opacity="0.04"/><rect x="319.0" y="747.61" width="2.8" height="3.34" fill="url(#pg)" fill-opacity="0.55"/><rect x="315.2" y="747.61" width="1.3" height="3.34" fill-opacity="0.09"/><rect x="319.0" y="752.3" width="2.8" height="14.18" fill="url(#pg)" fill-opacity="0.94"/><rect x="315.2" y="752.3" width="1.3" height="14.18" fill-opacity="0.15"/><rect x="319.0" y="767.13" width="2.8" height="3.34" fill="url(#pg)" fill-opacity="0.61"/><rect x="315.2" y="767.13" width="1.3" height="3.34" fill-opacity="0.1"/><rect x="319.0" y="771.5" width="2.8" height="1.85" fill="url(#pg)" fill-opacity="0.33"/><rect x="315.2" y="771.5" width="1.3" height="1.85" fill-opacity="0.05"/><rect x="319.0" y="775.57" width="2.8" height="6.25" fill="url(#pg)" fill-opacity="0.77"/><rect x="315.2" y="775.57" width="1.3" height="6.25" fill-opacity="0.13"/><rect x="319.0" y="783.2" width="2.8" height="6.07" fill="url(#pg)" fill-opacity="0.83"/><rect x="315.2" y="783.2" width="1.3" height="6.07" fill-opacity="0.14"/><rect x="319.0" y="791.81" width="2.8" height="1.2" fill="url(#pg)" fill-opacity="0.28"/><rect x="315.2" y="791.81" width="1.3" height="1.2" fill-opacity="0.04"/><rect x="319.0" y="794.29" width="2.8" height="1.53" fill="url(#pg)" fill-opacity="0.39"/><rect x="315.2" y="794.29" width="1.3" height="1.53" fill-opacity="0.06"/><rect x="319.0" y="797.01" width="2.8" height="10.29" fill="url(#pg)" fill-opacity="0.94"/><rect x="315.2" y="797.01" width="1.3" height="10.29" fill-opacity="0.15"/><rect x="319.0" y="808.21" width="2.8" height="3.02" fill="url(#pg)" fill-opacity="0.77"/><rect x="315.2" y="808.21" width="1.3" height="3.02" fill-opacity="0.13"/><rect x="319.0" y="812.32" width="2.8" height="9.98" fill="url(#pg)" fill-opacity="0.94"/><rect x="315.2" y="812.32" width="1.3" height="9.98" fill-opacity="0.15"/></g>
<rect x="320.9" y="574.2" width="8.6" height="7" fill="#b01818"/>
<path d="M320.9,574.2 L329.5,581.2 L320.9,581.2 Z" fill="#1f9a2a"/>
<line x1="313.5" y1="568.3" x2="321.2" y2="574.5" stroke="#1f9a2a" stroke-width="0.8" stroke-opacity="0.7"/>
<rect x="351" y="574.2" width="17.1" height="7" fill="#b01818"/>
<rect x="412.9" y="574.2" width="5.4" height="7" fill="#b01818"/>
<rect x="320.9" y="598.9" width="8.6" height="14.5" fill="#1f9a2a"/>
<rect x="351" y="598.9" width="17.1" height="14.5" fill="#b01818"/>
<path d="M351,598.9 L368.1,613.4 L351,613.4 Z" fill="#1f9a2a"/>
<rect x="412.9" y="598.9" width="5.4" height="14.5" fill="#b01818"/>
<rect x="320.9" y="651" width="8.9" height="4.7" fill="#1f9a2a"/>
<rect x="350.9" y="651" width="17.3" height="4.7" fill="#1f9a2a"/>
<rect x="412.7" y="650.2" width="5.5" height="4.7" fill="#b01818"/>
<line x1="310.4" y1="822.5" x2="618.4" y2="822.5" stroke="#555" stroke-width="0.9"/>
<line x1="614.8" y1="570.3" x2="622.8" y2="570.3" stroke="#222" stroke-width="1.1"/>
<text x="625.6" y="572.6" font-size="6.4" fill="#222">0</text>
<line x1="614.8" y1="601" x2="622.8" y2="601" stroke="#222" stroke-width="1.1"/>
<text x="625.6" y="603.3" font-size="6.4" fill="#222">100K</text>
<line x1="614.8" y1="637.8" x2="622.8" y2="637.8" stroke="#222" stroke-width="1.1"/>
<text x="625.6" y="640.1" font-size="6.4" fill="#222">200K</text>
<line x1="614.8" y1="674.6" x2="622.8" y2="674.6" stroke="#222" stroke-width="1.1"/>
<text x="625.6" y="676.9" font-size="6.4" fill="#222">300K</text>
<line x1="614.8" y1="710.3" x2="622.8" y2="710.3" stroke="#222" stroke-width="1.1"/>
<text x="625.6" y="712.6" font-size="6.4" fill="#222">400K</text>
<line x1="614.8" y1="746.9" x2="622.8" y2="746.9" stroke="#222" stroke-width="1.1"/>
<text x="625.6" y="749.2" font-size="6.4" fill="#222">500K</text>
<line x1="614.8" y1="783.4" x2="622.8" y2="783.4" stroke="#222" stroke-width="1.1"/>
<text x="625.6" y="785.7" font-size="6.4" fill="#222">600K</text>
<line x1="614.8" y1="819.4" x2="622.8" y2="819.4" stroke="#222" stroke-width="1.1"/>
<text x="625.6" y="821.7" font-size="6.4" fill="#222">700K</text>
<line x1="309.9" y1="820.3" x2="309.9" y2="826.2" stroke="#222" stroke-width="1.1"/>
<text x="309.9" y="834.8" font-size="6.4" text-anchor="middle" fill="#222">0</text>
<line x1="353.6" y1="820.3" x2="353.6" y2="826.2" stroke="#222" stroke-width="1.1"/>
<text x="353.6" y="834.8" font-size="6.4" text-anchor="middle" fill="#222">100K</text>
<line x1="397.4" y1="820.3" x2="397.4" y2="826.2" stroke="#222" stroke-width="1.1"/>
<text x="397.4" y="834.8" font-size="6.4" text-anchor="middle" fill="#222">200K</text>
<line x1="440.4" y1="820.3" x2="440.4" y2="826.2" stroke="#222" stroke-width="1.1"/>
<text x="440.4" y="834.8" font-size="6.4" text-anchor="middle" fill="#222">300K</text>
<line x1="483.8" y1="820.3" x2="483.8" y2="826.2" stroke="#222" stroke-width="1.1"/>
<text x="483.8" y="834.8" font-size="6.4" text-anchor="middle" fill="#222">400K</text>
<line x1="527" y1="820.3" x2="527" y2="826.2" stroke="#222" stroke-width="1.1"/>
<text x="527" y="834.8" font-size="6.4" text-anchor="middle" fill="#222">500K</text>
<line x1="570.5" y1="820.3" x2="570.5" y2="826.2" stroke="#222" stroke-width="1.1"/>
<text x="570.5" y="834.8" font-size="6.4" text-anchor="middle" fill="#222">600K</text>
<line x1="613.7" y1="820.3" x2="613.7" y2="826.2" stroke="#222" stroke-width="1.1"/>
<text x="613.7" y="834.8" font-size="6.4" text-anchor="middle" fill="#222">700K</text>
<line x1="309" y1="840.6" x2="620" y2="840.6" stroke="#888" stroke-width="0.9" stroke-dasharray="2,1.6"/>
<line x1="309" y1="867.4" x2="620" y2="867.4" stroke="#888" stroke-width="0.9" stroke-dasharray="2,1.6"/>
<line x1="309" y1="910.4" x2="620" y2="910.4" stroke="#888" stroke-width="0.9" stroke-dasharray="2,1.6"/>
<line x1="309" y1="933.5" x2="620" y2="933.5" stroke="#888" stroke-width="0.9" stroke-dasharray="2,1.6"/>
<line x1="370.5" y1="851.9" x2="407.5" y2="851.9" stroke="#e0302e" stroke-width="1.3"/>
<path d="M367.9,851.9 L370.5,849.3 L373.1,851.9 L370.5,854.5 Z" fill="#e0302e"/>
<path d="M404.9,851.9 L407.5,849.3 L410.1,851.9 L407.5,854.5 Z" fill="#e0302e"/>
<line x1="334.6" y1="858.9" x2="350.2" y2="858.9" stroke="#e0302e" stroke-width="1.3"/>
<path d="M332,858.9 L334.6,856.3 L337.2,858.9 L334.6,861.5 Z" fill="#e0302e"/>
<path d="M347.6,858.9 L350.2,856.3 L352.8,858.9 L350.2,861.5 Z" fill="#e0302e"/>
<text x="618.2" y="849.2" font-size="8" text-anchor="end" fill="#e2364c">Assembly Gaps</text>
<line x1="319.9" y1="874" x2="328.9" y2="874" stroke="#2a7cc4" stroke-width="1.1"/>
<path d="M328.4,871.6 L333.4,874 L328.4,876.4 Z" fill="#2a7cc4"/>
<line x1="349.5" y1="876.9" x2="365.1" y2="876.9" stroke="#2a7cc4" stroke-width="1.1"/>
<path d="M364.6,874.5 L369.6,876.9 L364.6,879.3 Z" fill="#2a7cc4"/>
<line x1="413.3" y1="880.6" x2="414.6" y2="880.6" stroke="#2a7cc4" stroke-width="1.1"/>
<path d="M414.1,878.2 L419.1,880.6 L414.1,883 Z" fill="#2a7cc4"/>
<text x="306.5" y="883.1" font-size="7" fill="#2a7cc4">LCRA</text>
<text x="348.4" y="887.8" font-size="7" fill="#2a7cc4">LCRB</text>
<text x="397.6" y="890.6" font-size="7" fill="#2a7cc4">LCRC</text>
<text x="617.4" y="881.2" font-size="7.95" text-anchor="end" fill="#2a7cc4">Segmental Duplications</text>
<line x1="455" y1="898.2" x2="616.9" y2="898.2" stroke="#e27a2a" stroke-width="1.4"/>
<path d="M452.4,898.2 L455,895.6 L457.6,898.2 L455,900.8 Z" fill="#e27a2a"/>
<path d="M614.3,898.2 L616.9,895.6 L619.5,898.2 L616.9,900.8 Z" fill="#e27a2a"/>
<text x="616.3" y="908.1" font-size="7.95" text-anchor="end" fill="#e27a2a">Homology region with chrY</text>
<path d="M412.1,915.9 L418.9,918.6 L412.1,921.3 Z" fill="#7a3cc0"/>
<path d="M406,922 L412.1,924.7 L406,927.4 Z" fill="#7a3cc0"/>
<line x1="466.3" y1="918.2" x2="482.6" y2="918.2" stroke="#7a3cc0" stroke-width="1.1"/>
<path d="M482.1,915.8 L487.1,918.2 L482.1,920.6 Z" fill="#7a3cc0"/>
<line x1="582.4" y1="924.3" x2="591.1" y2="924.3" stroke="#7a3cc0" stroke-width="1.1"/>
<path d="M590.6,921.9 L595.6,924.3 L590.6,926.7 Z" fill="#7a3cc0"/>
<text x="381.5" y="918.7" font-size="7.2" font-style="italic" fill="#7a3cc0">GTPBP6</text>
<text x="373.9" y="930.3" font-size="7.1" font-style="italic" fill="#7a3cc0">PLCXD1</text>
<text x="445.4" y="926.2" font-size="7.1" font-style="italic" fill="#7a3cc0">PPP2R3B</text>
<text x="567.4" y="922.1" font-size="7.1" font-style="italic" fill="#7a3cc0">SHOX</text></svg></body></html>
